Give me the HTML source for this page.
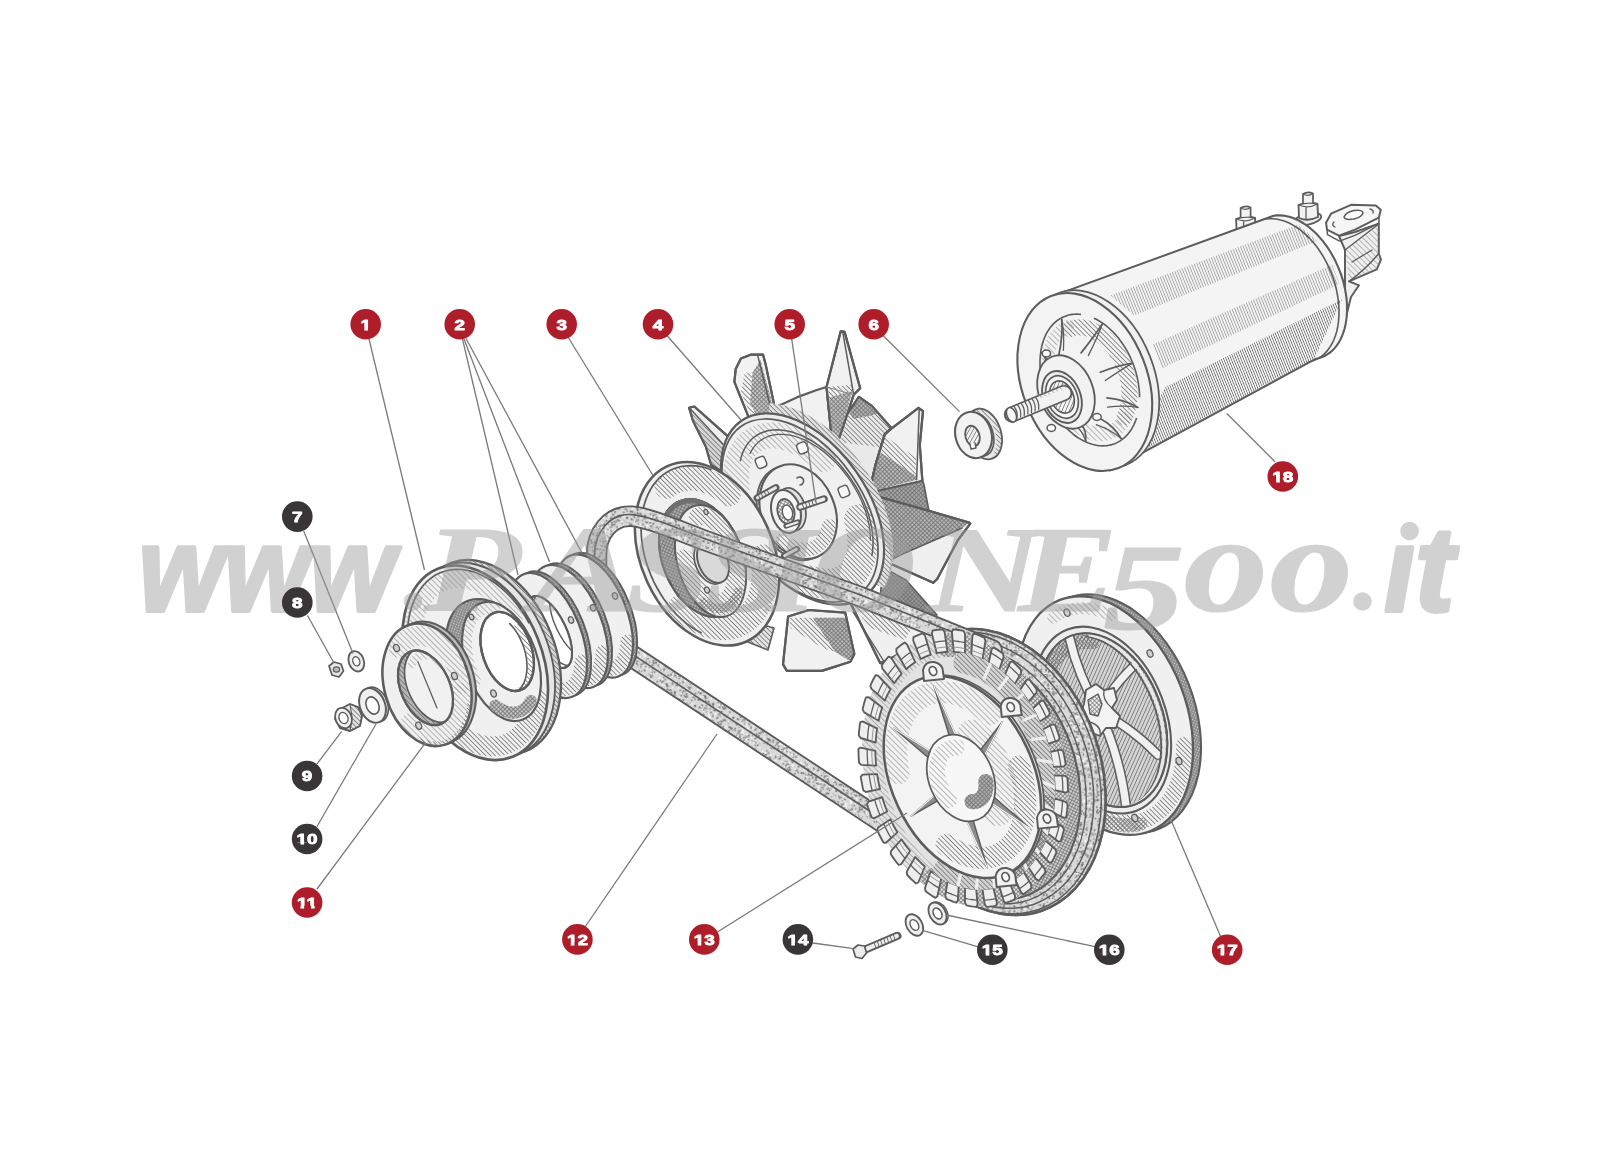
<!DOCTYPE html>
<html><head><meta charset="utf-8"><title>Diagram</title>
<style>html,body{margin:0;padding:0;background:#fff;}svg{display:block;font-family:"Liberation Sans",sans-serif;}</style>
</head><body>
<svg width="1600" height="1157" viewBox="0 0 1600 1157">
<rect width="1600" height="1157" fill="#ffffff"/>

<defs>
<pattern id="hA" width="3.4" height="3.4" patternUnits="userSpaceOnUse" patternTransform="rotate(45)"><rect width="3.4" height="3.4" fill="none"/><line x1="0" y1="0" x2="3.4" y2="0" stroke="#6e6e6e" stroke-width="1.5"/></pattern>
<pattern id="hB" width="4" height="4" patternUnits="userSpaceOnUse" patternTransform="rotate(45)"><line x1="0" y1="0" x2="4" y2="0" stroke="#8a8a8a" stroke-width="1.2"/></pattern>
<pattern id="hX" width="3" height="3" patternUnits="userSpaceOnUse" patternTransform="rotate(45)"><line x1="0" y1="0" x2="3" y2="0" stroke="#666" stroke-width="1.3"/><line x1="0" y1="0" x2="0" y2="3" stroke="#666" stroke-width="1.3"/></pattern>
<pattern id="hD" width="2.6" height="2.6" patternUnits="userSpaceOnUse" patternTransform="rotate(45)"><rect width="2.6" height="2.6" fill="#8a8a8a"/><circle cx="1.3" cy="1.3" r="0.7" fill="#d8d8d8"/></pattern>
<pattern id="belt" width="40" height="40" patternUnits="userSpaceOnUse" patternTransform="rotate(17)"><rect width="40" height="40" fill="#d9d9d9"/><circle cx="18.1" cy="22.4" r="1.1" fill="#f6f6f6"/><circle cx="18.1" cy="34.2" r="0.6" fill="#7e7e7e"/><circle cx="20.5" cy="25.2" r="1.0" fill="#6a6a6a"/><circle cx="17.9" cy="5.7" r="0.9" fill="#909090"/><circle cx="25.4" cy="23.8" r="0.8" fill="#f6f6f6"/><circle cx="26.2" cy="24.6" r="0.6" fill="#6a6a6a"/><circle cx="33.3" cy="2.5" r="0.5" fill="#777"/><circle cx="24.0" cy="31.1" r="0.7" fill="#fff"/><circle cx="33.7" cy="20.8" r="0.9" fill="#f6f6f6"/><circle cx="0.2" cy="3.4" r="0.9" fill="#f6f6f6"/><circle cx="39.9" cy="39.8" r="1.0" fill="#909090"/><circle cx="10.2" cy="30.3" r="0.8" fill="#6a6a6a"/><circle cx="2.8" cy="30.7" r="0.8" fill="#7e7e7e"/><circle cx="11.6" cy="2.7" r="0.5" fill="#909090"/><circle cx="0.0" cy="8.4" r="1.1" fill="#f6f6f6"/><circle cx="15.0" cy="28.4" r="0.8" fill="#fff"/><circle cx="25.2" cy="31.1" r="0.7" fill="#6a6a6a"/><circle cx="12.4" cy="0.6" r="0.8" fill="#6a6a6a"/><circle cx="5.4" cy="28.3" r="0.5" fill="#f6f6f6"/><circle cx="31.9" cy="7.1" r="0.9" fill="#f6f6f6"/><circle cx="20.4" cy="39.4" r="1.0" fill="#f6f6f6"/><circle cx="25.7" cy="4.7" r="0.8" fill="#777"/><circle cx="0.0" cy="34.6" r="1.1" fill="#fff"/><circle cx="12.2" cy="35.4" r="0.6" fill="#f6f6f6"/><circle cx="39.8" cy="24.1" r="0.9" fill="#6a6a6a"/><circle cx="39.6" cy="8.5" r="0.7" fill="#7e7e7e"/><circle cx="24.4" cy="33.2" r="0.8" fill="#6a6a6a"/><circle cx="3.6" cy="23.3" r="0.7" fill="#fff"/><circle cx="14.7" cy="24.9" r="0.6" fill="#fff"/><circle cx="19.3" cy="23.0" r="1.1" fill="#777"/><circle cx="25.1" cy="12.4" r="0.6" fill="#fff"/><circle cx="10.0" cy="7.6" r="1.0" fill="#fff"/><circle cx="7.9" cy="38.0" r="1.1" fill="#fff"/><circle cx="3.1" cy="1.9" r="0.6" fill="#fff"/><circle cx="38.5" cy="9.5" r="1.0" fill="#858585"/><circle cx="16.8" cy="36.2" r="0.8" fill="#fff"/><circle cx="7.0" cy="28.8" r="0.5" fill="#777"/><circle cx="19.2" cy="26.1" r="0.9" fill="#6a6a6a"/><circle cx="11.2" cy="36.7" r="0.6" fill="#6a6a6a"/><circle cx="2.8" cy="16.5" r="0.7" fill="#6a6a6a"/><circle cx="7.1" cy="14.8" r="0.9" fill="#777"/><circle cx="3.7" cy="5.5" r="0.8" fill="#858585"/><circle cx="26.3" cy="27.6" r="0.9" fill="#777"/><circle cx="23.6" cy="36.9" r="0.8" fill="#858585"/><circle cx="28.0" cy="38.5" r="0.5" fill="#909090"/><circle cx="3.0" cy="2.7" r="0.7" fill="#777"/><circle cx="40.0" cy="3.0" r="0.9" fill="#909090"/><circle cx="1.8" cy="37.4" r="1.0" fill="#777"/><circle cx="31.7" cy="36.6" r="0.7" fill="#909090"/><circle cx="18.9" cy="3.1" r="1.1" fill="#7e7e7e"/><circle cx="1.2" cy="20.0" r="0.5" fill="#909090"/><circle cx="15.3" cy="23.3" r="0.9" fill="#6a6a6a"/><circle cx="3.6" cy="4.6" r="0.7" fill="#f6f6f6"/><circle cx="29.1" cy="15.5" r="1.0" fill="#fff"/><circle cx="18.3" cy="18.5" r="0.9" fill="#fff"/><circle cx="30.0" cy="1.2" r="0.9" fill="#f6f6f6"/><circle cx="0.9" cy="38.3" r="0.6" fill="#7e7e7e"/><circle cx="24.6" cy="36.8" r="0.7" fill="#6a6a6a"/><circle cx="14.7" cy="5.7" r="0.9" fill="#fff"/><circle cx="6.8" cy="36.2" r="0.9" fill="#f6f6f6"/><circle cx="19.9" cy="9.7" r="0.8" fill="#858585"/><circle cx="7.9" cy="17.2" r="1.0" fill="#777"/><circle cx="35.2" cy="15.4" r="0.9" fill="#858585"/><circle cx="8.4" cy="5.4" r="0.7" fill="#7e7e7e"/><circle cx="1.6" cy="2.6" r="1.1" fill="#7e7e7e"/><circle cx="6.8" cy="18.0" r="0.7" fill="#777"/><circle cx="33.2" cy="15.3" r="0.8" fill="#909090"/><circle cx="12.6" cy="33.6" r="1.1" fill="#f6f6f6"/><circle cx="12.8" cy="33.1" r="0.7" fill="#fff"/><circle cx="1.7" cy="28.3" r="0.9" fill="#858585"/><circle cx="26.0" cy="22.6" r="0.9" fill="#f6f6f6"/><circle cx="18.2" cy="1.0" r="1.0" fill="#777"/><circle cx="31.2" cy="31.9" r="1.1" fill="#6a6a6a"/><circle cx="17.9" cy="25.2" r="0.9" fill="#7e7e7e"/><circle cx="14.7" cy="3.1" r="0.6" fill="#7e7e7e"/><circle cx="19.0" cy="7.1" r="0.5" fill="#f6f6f6"/><circle cx="21.4" cy="1.4" r="0.6" fill="#7e7e7e"/><circle cx="13.8" cy="27.9" r="0.8" fill="#fff"/><circle cx="39.9" cy="6.4" r="1.1" fill="#909090"/><circle cx="36.2" cy="3.5" r="1.1" fill="#909090"/><circle cx="15.5" cy="18.0" r="0.6" fill="#6a6a6a"/><circle cx="15.1" cy="22.8" r="1.1" fill="#7e7e7e"/><circle cx="32.8" cy="13.7" r="0.7" fill="#777"/><circle cx="4.0" cy="34.6" r="1.0" fill="#909090"/><circle cx="4.9" cy="9.7" r="0.8" fill="#6a6a6a"/><circle cx="39.1" cy="21.5" r="1.0" fill="#858585"/><circle cx="10.5" cy="28.7" r="0.5" fill="#fff"/><circle cx="3.3" cy="17.6" r="0.9" fill="#7e7e7e"/><circle cx="11.0" cy="36.8" r="0.6" fill="#7e7e7e"/><circle cx="2.6" cy="32.0" r="0.6" fill="#858585"/><circle cx="27.5" cy="36.6" r="0.8" fill="#fff"/><circle cx="36.0" cy="20.7" r="0.9" fill="#f6f6f6"/><circle cx="37.8" cy="19.7" r="1.1" fill="#6a6a6a"/><circle cx="30.3" cy="17.6" r="0.9" fill="#7e7e7e"/><circle cx="29.2" cy="25.6" r="0.8" fill="#7e7e7e"/><circle cx="36.3" cy="10.3" r="0.9" fill="#7e7e7e"/><circle cx="34.8" cy="24.4" r="0.7" fill="#777"/><circle cx="38.7" cy="21.0" r="0.9" fill="#777"/><circle cx="16.4" cy="4.6" r="0.5" fill="#f6f6f6"/><circle cx="1.1" cy="38.8" r="0.8" fill="#f6f6f6"/><circle cx="21.8" cy="39.6" r="0.6" fill="#6a6a6a"/><circle cx="27.6" cy="2.6" r="0.9" fill="#f6f6f6"/><circle cx="36.8" cy="32.0" r="0.8" fill="#777"/><circle cx="18.9" cy="5.1" r="0.8" fill="#7e7e7e"/><circle cx="37.4" cy="36.8" r="0.8" fill="#6a6a6a"/><circle cx="7.7" cy="24.7" r="1.1" fill="#777"/><circle cx="28.1" cy="39.1" r="0.5" fill="#777"/><circle cx="9.1" cy="27.5" r="0.7" fill="#858585"/><circle cx="9.8" cy="20.0" r="0.8" fill="#fff"/><circle cx="4.9" cy="20.4" r="0.7" fill="#777"/><circle cx="28.1" cy="35.1" r="0.5" fill="#909090"/><circle cx="16.5" cy="21.2" r="0.6" fill="#777"/><circle cx="34.6" cy="21.4" r="0.6" fill="#777"/><circle cx="34.1" cy="24.5" r="1.1" fill="#777"/><circle cx="36.6" cy="25.1" r="0.7" fill="#777"/><circle cx="12.6" cy="12.6" r="1.1" fill="#777"/><circle cx="31.1" cy="7.8" r="0.6" fill="#777"/><circle cx="5.3" cy="3.5" r="0.8" fill="#f6f6f6"/><circle cx="33.3" cy="16.9" r="1.0" fill="#777"/><circle cx="8.0" cy="25.1" r="1.0" fill="#6a6a6a"/><circle cx="8.0" cy="27.3" r="1.1" fill="#858585"/><circle cx="4.6" cy="20.2" r="1.0" fill="#fff"/><circle cx="39.9" cy="33.3" r="1.0" fill="#f6f6f6"/><circle cx="4.2" cy="1.5" r="0.9" fill="#fff"/><circle cx="36.2" cy="19.3" r="0.6" fill="#6a6a6a"/><circle cx="8.2" cy="33.6" r="1.1" fill="#909090"/><circle cx="3.8" cy="2.5" r="1.1" fill="#f6f6f6"/><circle cx="3.1" cy="3.9" r="0.8" fill="#f6f6f6"/><circle cx="20.6" cy="17.2" r="0.9" fill="#6a6a6a"/><circle cx="25.4" cy="1.6" r="0.6" fill="#f6f6f6"/><circle cx="18.2" cy="29.6" r="0.8" fill="#777"/><circle cx="24.2" cy="3.8" r="1.0" fill="#858585"/><circle cx="35.7" cy="32.1" r="1.0" fill="#7e7e7e"/><circle cx="36.3" cy="37.6" r="0.9" fill="#777"/><circle cx="20.2" cy="39.3" r="1.0" fill="#858585"/><circle cx="11.2" cy="4.7" r="1.0" fill="#777"/><circle cx="32.6" cy="16.2" r="1.1" fill="#fff"/><circle cx="27.8" cy="30.7" r="1.0" fill="#f6f6f6"/><circle cx="8.3" cy="7.4" r="1.0" fill="#858585"/><circle cx="18.8" cy="0.4" r="0.7" fill="#909090"/><circle cx="36.1" cy="2.0" r="0.7" fill="#909090"/><circle cx="12.0" cy="8.6" r="0.8" fill="#777"/><circle cx="21.3" cy="15.6" r="1.1" fill="#909090"/><circle cx="8.5" cy="4.8" r="0.8" fill="#fff"/><circle cx="0.9" cy="24.6" r="1.0" fill="#858585"/><circle cx="17.7" cy="20.2" r="1.0" fill="#909090"/><circle cx="15.0" cy="3.9" r="0.7" fill="#858585"/><circle cx="22.0" cy="20.3" r="1.1" fill="#fff"/><circle cx="33.9" cy="4.0" r="0.8" fill="#909090"/><circle cx="3.0" cy="23.9" r="1.0" fill="#6a6a6a"/><circle cx="15.5" cy="37.5" r="0.8" fill="#777"/><circle cx="34.2" cy="21.7" r="0.9" fill="#f6f6f6"/><circle cx="37.8" cy="16.8" r="0.8" fill="#fff"/><circle cx="12.5" cy="21.2" r="0.8" fill="#858585"/><circle cx="22.4" cy="11.3" r="1.0" fill="#858585"/><circle cx="1.1" cy="30.9" r="0.9" fill="#909090"/><circle cx="6.3" cy="30.2" r="0.8" fill="#858585"/><circle cx="29.9" cy="2.0" r="1.1" fill="#858585"/><circle cx="2.9" cy="36.2" r="0.8" fill="#f6f6f6"/><circle cx="10.0" cy="30.2" r="0.5" fill="#6a6a6a"/><circle cx="37.5" cy="28.9" r="0.8" fill="#7e7e7e"/><circle cx="9.8" cy="28.3" r="0.5" fill="#f6f6f6"/><circle cx="18.2" cy="8.1" r="0.5" fill="#fff"/><circle cx="6.2" cy="14.5" r="0.6" fill="#f6f6f6"/><circle cx="18.2" cy="10.5" r="0.9" fill="#f6f6f6"/><circle cx="14.6" cy="29.8" r="1.0" fill="#777"/><circle cx="38.1" cy="29.4" r="0.7" fill="#6a6a6a"/><circle cx="20.1" cy="12.3" r="0.8" fill="#7e7e7e"/><circle cx="14.4" cy="10.9" r="0.9" fill="#fff"/><circle cx="28.0" cy="7.6" r="0.7" fill="#777"/><circle cx="7.6" cy="10.0" r="1.1" fill="#777"/><circle cx="35.2" cy="1.6" r="0.5" fill="#858585"/><circle cx="10.4" cy="1.1" r="0.5" fill="#777"/><circle cx="21.7" cy="2.9" r="0.6" fill="#909090"/><circle cx="6.4" cy="9.4" r="1.1" fill="#f6f6f6"/><circle cx="19.1" cy="8.4" r="0.7" fill="#909090"/><circle cx="5.3" cy="34.8" r="1.0" fill="#f6f6f6"/><circle cx="32.4" cy="24.9" r="1.0" fill="#777"/><circle cx="17.8" cy="29.9" r="0.8" fill="#777"/><circle cx="14.8" cy="26.1" r="1.1" fill="#858585"/><circle cx="11.6" cy="30.4" r="1.0" fill="#777"/><circle cx="17.1" cy="14.8" r="0.6" fill="#858585"/><circle cx="3.1" cy="3.3" r="0.9" fill="#f6f6f6"/><circle cx="32.6" cy="18.5" r="1.0" fill="#6a6a6a"/><circle cx="3.0" cy="8.5" r="0.9" fill="#6a6a6a"/><circle cx="27.8" cy="19.8" r="1.0" fill="#858585"/><circle cx="11.3" cy="5.7" r="0.7" fill="#909090"/><circle cx="13.1" cy="36.3" r="0.7" fill="#f6f6f6"/><circle cx="22.8" cy="36.7" r="1.1" fill="#858585"/><circle cx="17.5" cy="32.1" r="0.7" fill="#858585"/><circle cx="8.8" cy="38.7" r="1.0" fill="#fff"/><circle cx="9.9" cy="14.5" r="0.7" fill="#858585"/><circle cx="27.1" cy="23.4" r="1.0" fill="#909090"/><circle cx="22.6" cy="31.9" r="0.9" fill="#7e7e7e"/><circle cx="23.6" cy="7.1" r="0.6" fill="#f6f6f6"/><circle cx="35.2" cy="11.3" r="0.5" fill="#fff"/><circle cx="2.3" cy="6.3" r="0.7" fill="#6a6a6a"/><circle cx="26.0" cy="32.2" r="0.5" fill="#fff"/><circle cx="12.2" cy="21.8" r="0.7" fill="#858585"/><circle cx="29.5" cy="36.0" r="0.6" fill="#909090"/><circle cx="26.1" cy="3.9" r="1.0" fill="#f6f6f6"/><circle cx="9.8" cy="8.8" r="1.0" fill="#fff"/><circle cx="13.5" cy="18.4" r="0.7" fill="#7e7e7e"/><circle cx="38.7" cy="26.9" r="0.8" fill="#fff"/><circle cx="32.2" cy="2.9" r="0.9" fill="#6a6a6a"/><circle cx="16.4" cy="33.0" r="0.9" fill="#7e7e7e"/><circle cx="0.2" cy="15.1" r="0.6" fill="#f6f6f6"/><circle cx="38.3" cy="25.6" r="0.8" fill="#909090"/><circle cx="0.4" cy="4.4" r="1.1" fill="#777"/><circle cx="9.8" cy="6.5" r="0.9" fill="#909090"/><circle cx="6.7" cy="8.2" r="0.8" fill="#858585"/><circle cx="11.0" cy="35.4" r="0.8" fill="#909090"/><circle cx="4.6" cy="25.9" r="1.0" fill="#777"/><circle cx="36.5" cy="30.1" r="0.5" fill="#f6f6f6"/><circle cx="36.4" cy="1.5" r="0.6" fill="#777"/><circle cx="14.4" cy="23.5" r="0.9" fill="#f6f6f6"/><circle cx="23.8" cy="9.0" r="0.6" fill="#858585"/><circle cx="16.1" cy="36.4" r="1.1" fill="#909090"/><circle cx="21.9" cy="32.7" r="0.8" fill="#858585"/><circle cx="19.4" cy="16.1" r="1.1" fill="#909090"/><circle cx="21.9" cy="38.3" r="0.8" fill="#777"/><circle cx="16.0" cy="8.7" r="0.6" fill="#7e7e7e"/><circle cx="15.4" cy="21.1" r="0.8" fill="#858585"/><circle cx="31.5" cy="2.3" r="1.1" fill="#6a6a6a"/><circle cx="35.0" cy="36.2" r="0.8" fill="#777"/><circle cx="28.5" cy="24.2" r="0.6" fill="#777"/><circle cx="30.9" cy="5.8" r="1.1" fill="#7e7e7e"/><circle cx="20.6" cy="25.5" r="1.1" fill="#858585"/><circle cx="20.6" cy="2.1" r="0.9" fill="#777"/><circle cx="0.1" cy="32.9" r="1.1" fill="#7e7e7e"/></pattern>
<pattern id="hV" width="2.6" height="2.6" patternUnits="userSpaceOnUse" patternTransform="rotate(68)"><line x1="0" y1="0" x2="2.6" y2="0" stroke="#7c7c7c" stroke-width="1.15"/></pattern>
<pattern id="hV2" width="2.3" height="2.3" patternUnits="userSpaceOnUse" patternTransform="rotate(68)"><line x1="0" y1="0" x2="2.3" y2="0" stroke="#686868" stroke-width="1.45"/></pattern>
<filter id="soft" x="0" y="0" width="100%" height="100%" filterUnits="userSpaceOnUse"><feGaussianBlur stdDeviation="0.55"/></filter>
</defs>
<g filter="url(#soft)"><path d="M1339 236 L1345 250 L1345 321 L1351 297 L1359 285.3 L1349 281.3 L1376.8 269.4 L1381 259.5 L1378.8 253.5 L1378.8 223.7 L1355 232Z" fill="#f0f0f0" stroke="#5c5c5c" stroke-width="1.9549999999999998" stroke-linejoin="round" stroke-linecap="round" />
<path d="M1345 250 L1378.8 226 L1378.8 253.5 L1381 259.5 L1376.8 269.4 L1349 281.3Z" fill="url(#hB)" stroke="none" stroke-width="1.6" stroke-linejoin="round" stroke-linecap="round" />
<path d="M1345 250 L1378.8 224 M1349 281.3 Q1365 270 1378.8 253.5 M1352 262 L1372 250" fill="none" stroke="#5c5c5c" stroke-width="1.38" stroke-linejoin="round" stroke-linecap="round" />
<path d="M1326 222.7 L1331 213.7 L1351 204.8 L1375.8 205.4 L1380.8 209.8 L1378.8 217.7 L1355 229.6 L1339 235.6 L1327 229.6Z" fill="#f6f6f6" stroke="#5c5c5c" stroke-width="1.9549999999999998" stroke-linejoin="round" stroke-linecap="round" />
<path d="M1327 229.6 l0.5 5 l12 6.5 l16 -6 l23.5 -12 l0 -5" fill="none" stroke="#5c5c5c" stroke-width="1.4949999999999999" stroke-linejoin="round" stroke-linecap="round" />
<path d="M1344 217 q2 -5 10 -6.5 q9 -1 9 2.5 q-1 4 -9 6 q-9 1.5 -10 -2z" fill="#fff" stroke="#5c5c5c" stroke-width="1.4949999999999999" stroke-linejoin="round" stroke-linecap="round" />
<path d="M1334 222 q-3 3 1 5 M1370 209 q4 1 3 4" fill="none" stroke="#5c5c5c" stroke-width="1.38" stroke-linejoin="round" stroke-linecap="round" />
<ellipse cx="1245.6" cy="233" rx="13.5" ry="5.5" transform="rotate(-12 1245.6 233)" fill="#f0f0f0" stroke="#5c5c5c" stroke-width="1.7249999999999999" />
<path d="M1236.6 232 L1236.1 219 Q1245.6 215 1255.1 218 L1255.6 231 Q1245.6 236 1236.6 232Z" fill="#f2f2f2" stroke="#5c5c5c" stroke-width="1.8399999999999999" stroke-linejoin="round" stroke-linecap="round" />
<path d="M1236.1 219 Q1245.6 223 1255.1 218 M1243.6 222 L1243.6 233.5" fill="none" stroke="#5c5c5c" stroke-width="1.265" stroke-linejoin="round" stroke-linecap="round" />
<path d="M1240.6 217 L1240.6 208 Q1245.6 205 1250.6 207.5 L1250.6 216.5" fill="#f4f4f4" stroke="#5c5c5c" stroke-width="1.7249999999999999" stroke-linejoin="round" stroke-linecap="round" />
<path d="M1240.6 208 Q1245.6 211 1250.6 207.5" fill="none" stroke="#5c5c5c" stroke-width="1.15" stroke-linejoin="round" stroke-linecap="round" />
<ellipse cx="1308" cy="219" rx="13.5" ry="5.5" transform="rotate(-12 1308 219)" fill="#f0f0f0" stroke="#5c5c5c" stroke-width="1.7249999999999999" />
<path d="M1299 218 L1298.5 205 Q1308 201 1317.5 204 L1318 217 Q1308 222 1299 218Z" fill="#f2f2f2" stroke="#5c5c5c" stroke-width="1.8399999999999999" stroke-linejoin="round" stroke-linecap="round" />
<path d="M1298.5 205 Q1308 209 1317.5 204 M1306 208 L1306 219.5" fill="none" stroke="#5c5c5c" stroke-width="1.265" stroke-linejoin="round" stroke-linecap="round" />
<path d="M1303 203 L1303 194 Q1308 191 1313 193.5 L1313 202.5" fill="#f4f4f4" stroke="#5c5c5c" stroke-width="1.7249999999999999" stroke-linejoin="round" stroke-linecap="round" />
<path d="M1303 194 Q1308 197 1313 193.5" fill="none" stroke="#5c5c5c" stroke-width="1.15" stroke-linejoin="round" stroke-linecap="round" />
<path d="M1059.4 293.6 L1273.6 215.7 L1273.6 215.7 L1276.8 215.4 L1280 215.4 L1283.4 215.6 L1286.7 216.2 L1290.2 217.1 L1293.6 218.2 L1297 219.7 L1300.4 221.5 L1303.8 223.5 L1307.2 225.8 L1310.5 228.4 L1313.7 231.3 L1316.9 234.3 L1319.9 237.6 L1322.9 241.1 L1325.7 244.8 L1328.4 248.7 L1331 252.8 L1333.3 257 L1335.6 261.3 L1337.6 265.8 L1339.5 270.3 L1341.2 274.9 L1342.7 279.6 L1343.9 284.3 L1345 289 L1345.8 293.7 L1346.5 298.4 L1346.9 303 L1347 307.6 L1347 312 L1346.7 316.4 L1346.2 320.6 L1345.5 324.7 L1344.6 328.7 L1343.4 332.4 L1342.1 336 L1340.5 339.4 L1338.8 342.5 L1336.8 345.4 L1334.7 348.1 L1332.4 350.5 L1329.9 352.6 L1327.3 354.4 L1324.6 356 L1321.7 357.2 L1318.7 358.2 L1315.6 358.9 L1110.1 470.4Z" fill="#f4f4f4" stroke="#5c5c5c" stroke-width="2.07" stroke-linejoin="round" stroke-linecap="round" />
<clipPath id="c_dyn"><path d="M1059.4 293.6 L1273.6 215.7 L1273.6 215.7 L1276.8 215.4 L1280 215.4 L1283.4 215.6 L1286.7 216.2 L1290.2 217.1 L1293.6 218.2 L1297 219.7 L1300.4 221.5 L1303.8 223.5 L1307.2 225.8 L1310.5 228.4 L1313.7 231.3 L1316.9 234.3 L1319.9 237.6 L1322.9 241.1 L1325.7 244.8 L1328.4 248.7 L1331 252.8 L1333.3 257 L1335.6 261.3 L1337.6 265.8 L1339.5 270.3 L1341.2 274.9 L1342.7 279.6 L1343.9 284.3 L1345 289 L1345.8 293.7 L1346.5 298.4 L1346.9 303 L1347 307.6 L1347 312 L1346.7 316.4 L1346.2 320.6 L1345.5 324.7 L1344.6 328.7 L1343.4 332.4 L1342.1 336 L1340.5 339.4 L1338.8 342.5 L1336.8 345.4 L1334.7 348.1 L1332.4 350.5 L1329.9 352.6 L1327.3 354.4 L1324.6 356 L1321.7 357.2 L1318.7 358.2 L1315.6 358.9 L1110.1 470.4Z"/></clipPath><g clip-path="url(#c_dyn)"><path d="M1110.2 295.4 L1298.3 224.5 L1317.1 241 L1134.2 315.4Z" fill="url(#hV)" stroke="none" stroke-width="1.6" stroke-linejoin="round" stroke-linecap="round" /><path d="M1153 344.3 L1332.1 264.5 L1339.4 284.1 L1161.9 368.4Z" fill="url(#hV)" stroke="none" stroke-width="1.6" stroke-linejoin="round" stroke-linecap="round" /><path d="M1165.3 387 L1342.3 299.1 L1313.3 360.5 L1126.3 463.9Z" fill="url(#hV2)" stroke="none" stroke-width="1.6" stroke-linejoin="round" stroke-linecap="round" /></g>
<path d="M1265.6 219 L1269.4 218.7 L1273.4 218.7 L1277.4 219.2 L1281.5 220.2 L1285.6 221.5 L1289.7 223.3 L1293.8 225.6 L1297.9 228.2 L1301.8 231.2 L1305.7 234.6 L1309.5 238.3 L1313.1 242.3 L1316.6 246.6 L1319.9 251.2 L1323 256.1 L1325.8 261.2 L1328.4 266.4 L1330.8 271.8 L1332.9 277.3 L1334.7 282.9 L1336.2 288.5 L1337.3 294.2 L1338.2 299.8 L1338.8 305.4 L1339 310.9 L1338.9 316.2 L1338.5 321.4 L1337.8 326.4 L1336.8 331.2 L1335.4 335.7 L1333.8 340 L1331.8 344 L1329.6 347.6 L1327.1 350.9 L1324.4 353.8 L1321.4 356.3 L1318.2 358.4 L1314.9 360.1 L1311.3 361.3 L1307.6 362.2" fill="none" stroke="#5c5c5c" stroke-width="1.6099999999999999" />
<ellipse cx="1091.8" cy="379.2" rx="92.4" ry="62.5" transform="rotate(68.5433201955893 1091.8 379.2)" fill="#f0f0f0" stroke="#5c5c5c" stroke-width="1.7249999999999999" />
<ellipse cx="1084.8" cy="382" rx="92.4" ry="62.5" transform="rotate(68.5433201955893 1084.8 382)" fill="#f3f3f3" stroke="#5c5c5c" stroke-width="2.07" />
<clipPath id="c_dynf"><path d="M1118.6 468 L1110.7 470.3 L1102.4 471 L1093.7 470.2 L1085 467.9 L1076.2 464.2 L1067.5 459 L1059.2 452.5 L1051.3 444.8 L1044 436 L1037.3 426.3 L1031.5 415.9 L1026.6 404.8 L1022.7 393.4 L1019.8 381.8 L1018.1 370.2 L1017.5 358.8 L1018 347.8 L1019.7 337.3 L1022.5 327.7 L1026.4 318.9 L1031.3 311.3 L1037 304.8 L1043.6 299.7 L1050.9 296 L1058.8 293.7 L1067.1 293 L1075.8 293.8 L1084.5 296.1 L1093.3 299.8 L1102 305 L1110.3 311.5 L1118.2 319.2 L1125.5 328 L1132.2 337.7 L1138 348.1 L1142.9 359.2 L1146.8 370.6 L1149.7 382.2 L1151.4 393.8 L1152 405.2 L1151.5 416.2 L1149.8 426.7 L1147 436.3 L1143.1 445.1 L1138.2 452.7 L1132.5 459.2 L1125.9 464.3 L1118.6 468Z"/></clipPath><g clip-path="url(#c_dynf)"><path d="M1069.7 329.1 L1071.6 328.4 L1073.6 327.9 L1075.6 327.6 L1077.7 327.4 L1079.7 327.3 L1081.9 327.4 L1084 327.7 L1086.2 328.1 L1088.3 328.7 L1090.5 329.4 L1092.7 330.3 L1094.8 331.4 L1097 332.5 L1099.1 333.9 L1101.2 335.3 L1103.2 336.9 L1105.3 338.6 L1107.2 340.5 L1109.2 342.4 L1111 344.5 L1112.8 346.7 L1114.6 348.9 L1116.2 351.3 L1117.8 353.8 L1119.3 356.3 L1120.7 358.9 L1122 361.5 L1123.3 364.3 L1124.4 367 L1125.4 369.8 L1126.3 372.7 L1127.1 375.5 L1127.8 378.4 L1128.4 381.3 L1128.9 384.1 L1129.2 387 L1129.4 389.8 L1129.5 392.6 L1129.5 395.4 L1129.4 398.1 L1129.2 400.8 L1128.8 403.4 L1128.3 405.9 L1127.8 408.4 L1127.1 410.8 L1126.2 413.1 L1125.3 415.3 L1124.3 417.3" fill="none" stroke="url(#hA)" stroke-width="16" stroke-linejoin="round" stroke-linecap="round" /><path d="M1125.2 418.3 L1124.5 419.5 L1123.8 420.7 L1123 421.8 L1122.2 422.9 L1121.4 424 L1120.5 425 L1119.6 425.9 L1118.7 426.8 L1117.7 427.7 L1116.8 428.5 L1115.7 429.2 L1114.7 429.9 L1113.6 430.6 L1112.5 431.2 L1111.4 431.7 L1110.3 432.2 L1109.1 432.6 L1107.9 433 L1106.7 433.3 L1105.5 433.6 L1104.2 433.8 L1103 433.9 L1101.7 434 L1100.4 434 L1099.1 434 L1097.8 433.9 L1096.5 433.7 L1095.2 433.5 L1093.9 433.3 L1092.5 432.9 L1091.2 432.6 L1089.9 432.1 L1088.5 431.6 L1087.2 431.1 L1085.9 430.5 L1084.6 429.8 L1083.2 429.1 L1081.9 428.4 L1080.6 427.6 L1079.3 426.7 L1078 425.8 L1076.8 424.8 L1075.5 423.8 L1074.3 422.8 L1073 421.7 L1071.8 420.5 L1070.6 419.3 L1069.5 418.1" fill="none" stroke="url(#hB)" stroke-width="14" stroke-linejoin="round" stroke-linecap="round" /><path d="M1053.2 394.4 L1052.5 392.6 L1051.9 390.8 L1051.3 389 L1050.7 387.2 L1050.2 385.4 L1049.7 383.5 L1049.3 381.7 L1048.9 379.9 L1048.6 378 L1048.3 376.2 L1048 374.4 L1047.8 372.6 L1047.7 370.8 L1047.5 369 L1047.5 367.2 L1047.4 365.4 L1047.5 363.6 L1047.5 361.9 L1047.6 360.2 L1047.8 358.5 L1048 356.8 L1048.2 355.1 L1048.5 353.5 L1048.9 351.9 L1049.2 350.3 L1049.7 348.8 L1050.1 347.3 L1050.6 345.8 L1051.2 344.4 L1051.8 343 L1052.4 341.6 L1053.1 340.3 L1053.8 339.1 L1054.5 337.8 L1055.3 336.6 L1056.1 335.5 L1057 334.4 L1057.9 333.4 L1058.8 332.4 L1059.7 331.5 L1060.7 330.6 L1061.8 329.7 L1062.8 329 L1063.9 328.2 L1065 327.6 L1066.1 327 L1067.3 326.4 L1068.5 325.9" fill="none" stroke="url(#hB)" stroke-width="12" stroke-linejoin="round" stroke-linecap="round" /></g>
<path d="M1044.7 391.3 L1043.8 388.3 L1043 385.3 L1042.2 382.3 L1041.6 379.3 L1041.1 376.3 L1040.7 373.3 L1040.3 370.3 L1040.1 367.3 L1040 364.3 L1040 361.4 L1040.1 358.6 L1040.3 355.7 L1040.6 353 L1041 350.2 L1041.5 347.6 L1042.1 345 L1042.8 342.5 L1043.6 340 L1044.5 337.7 L1045.5 335.4 L1046.6 333.2 L1047.8 331.2 L1049.1 329.2 L1050.4 327.3 L1051.9 325.6 L1053.4 323.9 L1055 322.4 L1056.7 321 L1058.4 319.7 L1060.2 318.6 L1062.1 317.5 L1064 316.7 L1066 315.9 L1068 315.3 L1070.1 314.8 L1072.2 314.4 L1074.3 314.2 L1076.5 314.1 L1078.7 314.2 L1081 314.4" fill="none" stroke="#5c5c5c" stroke-width="1.6099999999999999" />
<path d="M1093.9 318.2 L1095.8 319 L1097.6 320 L1099.4 321.1 L1101.2 322.2 L1103 323.4 L1104.8 324.7 L1106.5 326 L1108.2 327.5 L1109.9 329 L1111.6 330.6 L1113.3 332.2 L1114.9 333.9 L1116.4 335.7 L1118 337.6 L1119.5 339.5 L1120.9 341.4 L1122.4 343.4 L1123.7 345.5 L1125.1 347.6 L1126.3 349.7 L1127.6 351.9 L1128.7 354.1 L1129.9 356.4 L1130.9 358.7 L1131.9 361 L1132.9 363.4 L1133.8 365.7 L1134.6 368.1 L1135.4 370.5 L1136.1 373 L1136.7 375.4 L1137.3 377.8 L1137.8 380.3 L1138.3 382.7 L1138.6 385.2 L1138.9 387.6 L1139.2 390 L1139.4 392.4 L1139.5 394.8 L1139.5 397.2" fill="none" stroke="#5c5c5c" stroke-width="1.6099999999999999" />
<path d="M1136.6 417.9 L1135.8 420.2 L1134.9 422.4 L1134 424.6 L1132.9 426.7 L1131.8 428.7 L1130.6 430.5 L1129.3 432.3 L1128 434 L1126.5 435.6 L1125 437.1 L1123.5 438.5 L1121.9 439.7 L1120.2 440.9 L1118.4 441.9 L1116.6 442.9 L1114.8 443.7 L1112.9 444.3 L1110.9 444.9 L1108.9 445.3 L1106.9 445.6 L1104.9 445.8 L1102.8 445.9 L1100.7 445.8 L1098.5 445.6 L1096.4 445.3 L1094.2 444.8 L1092.1 444.3 L1089.9 443.6 L1087.7 442.8 L1085.6 441.8 L1083.4 440.8 L1081.3 439.6 L1079.1 438.4 L1077 437 L1074.9 435.5 L1072.9 433.9 L1070.9 432.2 L1068.9 430.4 L1066.9 428.5 L1065 426.5" fill="none" stroke="#5c5c5c" stroke-width="1.6099999999999999" />
<path d="M1050.5 378.2 Q1049.1 362.4 1041.7 352.6" fill="none" stroke="#5c5c5c" stroke-width="1.7249999999999999" stroke-linejoin="round" stroke-linecap="round" />
<path d="M1050 368.9 Q1047.9 358.8 1041.7 352.6" fill="none" stroke="#5c5c5c" stroke-width="1.265" stroke-linejoin="round" stroke-linecap="round" />
<path d="M1058.7 355.6 Q1063.2 334.4 1061.7 319.3" fill="none" stroke="#5c5c5c" stroke-width="1.7249999999999999" stroke-linejoin="round" stroke-linecap="round" />
<path d="M1063.4 350.3 Q1064.5 332.8 1061.7 319.3" fill="none" stroke="#5c5c5c" stroke-width="1.265" stroke-linejoin="round" stroke-linecap="round" />
<path d="M1081.1 352.9 Q1094.7 335.5 1102.2 324.2" fill="none" stroke="#5c5c5c" stroke-width="1.7249999999999999" stroke-linejoin="round" stroke-linecap="round" />
<path d="M1088.3 355.6 Q1097.3 337.9 1102.2 324.2" fill="none" stroke="#5c5c5c" stroke-width="1.265" stroke-linejoin="round" stroke-linecap="round" />
<path d="M1100.3 372.3 Q1119.1 364.9 1131.9 363.4" fill="none" stroke="#5c5c5c" stroke-width="1.7249999999999999" stroke-linejoin="round" stroke-linecap="round" />
<path d="M1105.3 380.6 Q1120.6 370 1131.9 363.4" fill="none" stroke="#5c5c5c" stroke-width="1.265" stroke-linejoin="round" stroke-linecap="round" />
<path d="M1107 397.8 Q1125.4 399.6 1137.8 407.4" fill="none" stroke="#5c5c5c" stroke-width="1.7249999999999999" stroke-linejoin="round" stroke-linecap="round" />
<path d="M1107.5 407.1 Q1124.6 405.2 1137.8 407.4" fill="none" stroke="#5c5c5c" stroke-width="1.265" stroke-linejoin="round" stroke-linecap="round" />
<path d="M1100.4 418.7 Q1113.8 425.6 1121.2 438.6" fill="none" stroke="#5c5c5c" stroke-width="1.7249999999999999" stroke-linejoin="round" stroke-linecap="round" />
<path d="M1096.2 424.6 Q1110.7 429.6 1121.2 438.6" fill="none" stroke="#5c5c5c" stroke-width="1.265" stroke-linejoin="round" stroke-linecap="round" />
<path d="M1081.3 424.8 Q1086.5 429.7 1085.7 440.6" fill="none" stroke="#5c5c5c" stroke-width="1.7249999999999999" stroke-linejoin="round" stroke-linecap="round" />
<path d="M1074.2 423.7 Q1081.9 430.2 1085.7 440.6" fill="none" stroke="#5c5c5c" stroke-width="1.265" stroke-linejoin="round" stroke-linecap="round" />
<ellipse cx="1066" cy="392" rx="38" ry="27" transform="rotate(68 1066 392)" fill="#f2f2f2" stroke="#5c5c5c" stroke-width="1.8399999999999999" />
<ellipse cx="1046.4" cy="353.5" rx="4.2" ry="3.4" transform="rotate(0 1046.4 353.5)" fill="#fafafa" stroke="#5c5c5c" stroke-width="1.4949999999999999" />
<ellipse cx="1097" cy="417" rx="4.2" ry="3.4" transform="rotate(0 1097 417)" fill="#fafafa" stroke="#5c5c5c" stroke-width="1.4949999999999999" />
<ellipse cx="1051.3" cy="428" rx="4.2" ry="3.4" transform="rotate(0 1051.3 428)" fill="#fafafa" stroke="#5c5c5c" stroke-width="1.4949999999999999" />
<ellipse cx="1062" cy="397" rx="27" ry="18.5" transform="rotate(68 1062 397)" fill="#ececec" stroke="#5c5c5c" stroke-width="1.8399999999999999" />
<ellipse cx="1062" cy="397" rx="22.1" ry="15.2" transform="rotate(68 1062 397)" fill="#f6f6f6" stroke="#5c5c5c" stroke-width="1.6099999999999999" />
<ellipse cx="1062" cy="397" rx="16.7" ry="11.5" transform="rotate(68 1062 397)" fill="url(#hA)" stroke="#5c5c5c" stroke-width="1.6099999999999999" />
<path d="M1012 414.5 L1064 393" fill="none" stroke="#5c5c5c" stroke-width="16.5" stroke-linejoin="round" stroke-linecap="round" />
<path d="M1012.5 414.3 L1064 393" fill="none" stroke="#f2f2f2" stroke-width="13" stroke-linejoin="round" stroke-linecap="round" />
<ellipse cx="1011.5" cy="414.8" rx="7.6" ry="4.6" transform="rotate(68 1011.5 414.8)" fill="#f6f6f6" stroke="#5c5c5c" stroke-width="1.6099999999999999" />
<path d="M1014 406.4 q4 5 3 12" fill="none" stroke="#5c5c5c" stroke-width="1.265" stroke-linejoin="round" stroke-linecap="round" />
<path d="M1017.6 404.9 q4 5 3 12" fill="none" stroke="#5c5c5c" stroke-width="1.265" stroke-linejoin="round" stroke-linecap="round" />
<path d="M1021.2 403.4 q4 5 3 12" fill="none" stroke="#5c5c5c" stroke-width="1.265" stroke-linejoin="round" stroke-linecap="round" />
<path d="M1024.8 401.9 q4 5 3 12" fill="none" stroke="#5c5c5c" stroke-width="1.265" stroke-linejoin="round" stroke-linecap="round" />
<path d="M1028.4 400.4 q4 5 3 12" fill="none" stroke="#5c5c5c" stroke-width="1.265" stroke-linejoin="round" stroke-linecap="round" />
<path d="M1032 398.9 q4 5 3 12" fill="none" stroke="#5c5c5c" stroke-width="1.265" stroke-linejoin="round" stroke-linecap="round" />
<path d="M1035.6 397.4 q4 5 3 12" fill="none" stroke="#5c5c5c" stroke-width="1.265" stroke-linejoin="round" stroke-linecap="round" />
<path d="M1040 396 L1064 386" fill="none" stroke="url(#hB)" stroke-width="5" stroke-linejoin="round" stroke-linecap="round" />
<ellipse cx="984" cy="434" rx="26" ry="17" transform="rotate(72 984 434)" fill="#e9e9e9" stroke="#5c5c5c" stroke-width="1.8399999999999999" />
<path d="M979 410 L979.8 410.2 L980.7 410.4 L981.5 410.7 L982.4 411.1 L983.2 411.5 L984.1 412 L984.9 412.5 L985.7 413 L986.6 413.7 L987.4 414.3 L988.2 415 L988.9 415.8 L989.7 416.6 L990.4 417.4 L991.1 418.3 L991.8 419.2 L992.5 420.2 L993.2 421.1 L993.8 422.2 L994.4 423.2 L994.9 424.3 L995.4 425.4 L995.9 426.5 L996.4 427.6 L996.8 428.8 L997.2 429.9 L997.6 431.1 L997.9 432.3 L998.2 433.5 L998.4 434.7 L998.6 435.9 L998.8 437.1 L998.9 438.2 L999 439.4 L999 440.6 L999.1 441.8 L999 442.9 L998.9 444 L998.8 445.1 L998.7 446.2 L998.5 447.3 L998.2 448.3 L998 449.3 L997.7 450.3 L997.3 451.2 L996.9 452.1 L996.5 453 L996 453.8" fill="none" stroke="url(#hA)" stroke-width="5" stroke-linejoin="round" stroke-linecap="round" />
<ellipse cx="979" cy="434.5" rx="22" ry="14" transform="rotate(72 979 434.5)" fill="#ececec" stroke="#5c5c5c" stroke-width="1.6099999999999999" />
<ellipse cx="973.5" cy="435" rx="23.5" ry="18" transform="rotate(74 973.5 435)" fill="#f2f2f2" stroke="#5c5c5c" stroke-width="2.07" />
<ellipse cx="972.5" cy="436" rx="10.5" ry="7" transform="rotate(74 972.5 436)" fill="url(#hA)" stroke="#5c5c5c" stroke-width="1.8399999999999999" />
<path d="M970 444 l1 5 l5 -1 l-1 -5" fill="#fff" stroke="#5c5c5c" stroke-width="1.38" stroke-linejoin="round" stroke-linecap="round" />
<path d="M329 666 L334 662 L341 664 L343.5 671 L339 677 L332 675Z" fill="#e8e8e8" stroke="#5c5c5c" stroke-width="1.7249999999999999" stroke-linejoin="round" stroke-linecap="round" />
<ellipse cx="336.5" cy="669.5" rx="3.2" ry="2.6" transform="rotate(0 336.5 669.5)" fill="#bbb" stroke="#5c5c5c" stroke-width="1.15" />
<ellipse cx="356.3" cy="661.3" rx="10.5" ry="7.5" transform="rotate(70 356.3 661.3)" fill="#eee" stroke="#5c5c5c" stroke-width="1.8399999999999999" />
<ellipse cx="356.3" cy="661.3" rx="4.7" ry="3.4" transform="rotate(70 356.3 661.3)" fill="#fff" stroke="#5c5c5c" stroke-width="1.38" />
<ellipse cx="375" cy="704.5" rx="18" ry="12.5" transform="rotate(68 375 704.5)" fill="#ddd" stroke="#5c5c5c" stroke-width="1.6099999999999999" />
<ellipse cx="372.5" cy="705.5" rx="18" ry="12.5" transform="rotate(68 372.5 705.5)" fill="#f0f0f0" stroke="#5c5c5c" stroke-width="1.9549999999999998" />
<ellipse cx="372.5" cy="705.5" rx="9" ry="6.2" transform="rotate(68 372.5 705.5)" fill="#fff" stroke="#5c5c5c" stroke-width="1.6099999999999999" />
<path d="M338 710 L350 704 L358 707 L362 716 L360 726 L350 731 L340 728 L335 719Z" fill="#e4e4e4" stroke="#5c5c5c" stroke-width="1.8399999999999999" stroke-linejoin="round" stroke-linecap="round" />
<path d="M350 704 L358 707 L362 716 L360 726 L350 731 L352 717Z" fill="url(#hA)" stroke="#5c5c5c" stroke-width="1.15" stroke-linejoin="round" stroke-linecap="round" />
<ellipse cx="343.5" cy="718" rx="10.5" ry="8" transform="rotate(68 343.5 718)" fill="#f2f2f2" stroke="#5c5c5c" stroke-width="1.7249999999999999" />
<ellipse cx="343.5" cy="718" rx="5.8" ry="4.4" transform="rotate(68 343.5 718)" fill="#fff" stroke="#5c5c5c" stroke-width="1.38" />
<path d="M863 950.5 L897.5 935.8" fill="none" stroke="#5c5c5c" stroke-width="8.049999999999999" stroke-linejoin="round" stroke-linecap="round" />
<path d="M864 950 L896.8 936" fill="none" stroke="#eee" stroke-width="4.2" stroke-linejoin="round" stroke-linecap="round" />
<line x1="874" y1="942.3" x2="876" y2="948.3" stroke="#5c5c5c" stroke-width="0.9" />
<line x1="877.2" y1="940.9" x2="879.2" y2="946.9" stroke="#5c5c5c" stroke-width="0.9" />
<line x1="880.4" y1="939.6" x2="882.4" y2="945.6" stroke="#5c5c5c" stroke-width="0.9" />
<line x1="883.6" y1="938.2" x2="885.6" y2="944.2" stroke="#5c5c5c" stroke-width="0.9" />
<line x1="886.8" y1="936.9" x2="888.8" y2="942.9" stroke="#5c5c5c" stroke-width="0.9" />
<line x1="890" y1="935.5" x2="892" y2="941.5" stroke="#5c5c5c" stroke-width="0.9" />
<line x1="893.2" y1="934.1" x2="895.2" y2="940.1" stroke="#5c5c5c" stroke-width="0.9" />
<path d="M853 949 L858 945 L864.5 946 L866.5 953 L862 958.5 L855.5 957Z" fill="#ececec" stroke="#5c5c5c" stroke-width="1.7249999999999999" stroke-linejoin="round" stroke-linecap="round" />
<ellipse cx="914.4" cy="925" rx="11.5" ry="7.8" transform="rotate(60 914.4 925)" fill="#eee" stroke="#5c5c5c" stroke-width="1.8399999999999999" />
<ellipse cx="914.4" cy="925" rx="5.8" ry="3.9" transform="rotate(60 914.4 925)" fill="#fff" stroke="#5c5c5c" stroke-width="1.38" />
<ellipse cx="939" cy="912.9" rx="11.8" ry="8" transform="rotate(60 939 912.9)" fill="#ddd" stroke="#5c5c5c" stroke-width="1.38" />
<ellipse cx="937.5" cy="913.5" rx="11.8" ry="8" transform="rotate(60 937.5 913.5)" fill="#eee" stroke="#5c5c5c" stroke-width="1.8399999999999999" />
<ellipse cx="937.5" cy="913.5" rx="5.9" ry="4" transform="rotate(60 937.5 913.5)" fill="#fff" stroke="#5c5c5c" stroke-width="1.4949999999999999" />
<path d="M777.2 419.4 L777.2 406.5 L796.7 397.4 L816.1 390.3 L826.5 387 L831.7 437.6 L796.7 433.7Z" fill="#f1f1f1" stroke="#5c5c5c" stroke-width="2.1849999999999996" stroke-linejoin="round" stroke-linecap="round" />
<path d="M858.9 396.9 L871.8 405.9 L891.3 428 L884.8 434.4 L875.7 464.3 L869.3 491.5 L838.1 452.6 L833 434.4Z" fill="#e9e9e9" stroke="#5c5c5c" stroke-width="2.1849999999999996" stroke-linejoin="round" stroke-linecap="round" />
<path d="M858.9 396.9 L871.8 405.9 L878.3 413.7 L853.7 418.9 L847.9 411.1Z" fill="#b5b5b5" stroke="none" stroke-width="1.6" stroke-linejoin="round" stroke-linecap="round" /><path d="M858.9 396.9 L871.8 405.9 L878.3 413.7 L853.7 418.9 L847.9 411.1Z" fill="url(#hX)" stroke="none" stroke-width="1.6" stroke-linejoin="round" stroke-linecap="round" />
<path d="M847.9 411.1 L853.7 418.9 L878.3 413.7 L891.3 428 L884.8 434.4 L880.9 447.4 L840.7 442.2Z" fill="url(#hA)" stroke="none" stroke-width="1.6" stroke-linejoin="round" stroke-linecap="round" />
<path d="M858.9 396.9 L871.8 405.9 L891.3 428 L884.8 434.4 L875.7 464.3 L869.3 491.5 L838.1 452.6 L833 434.4Z" fill="none" stroke="#5c5c5c" stroke-width="2.1849999999999996" stroke-linejoin="round" stroke-linecap="round" />
<path d="M689.1 407.8 L694.3 406.5 L729.3 437.6 L731.2 446.7 L724.1 472.6 L711.1 464.8 L705.9 446.7 L693 420.7Z" fill="#efefef" stroke="#5c5c5c" stroke-width="2.1849999999999996" stroke-linejoin="round" stroke-linecap="round" />
<path d="M691.7 413 L722.8 444.1 L724.1 472.6 L711.1 464.8 L705.9 446.7 L694.3 423.3Z" fill="#d6d6d6" stroke="none" stroke-width="1.6" stroke-linejoin="round" stroke-linecap="round" /><path d="M691.7 413 L722.8 444.1 L724.1 472.6 L711.1 464.8 L705.9 446.7 L694.3 423.3Z" fill="url(#hA)" stroke="none" stroke-width="1.6" stroke-linejoin="round" stroke-linecap="round" />
<path d="M689.1 407.8 L694.3 406.5 L729.3 437.6 L731.2 446.7 L724.1 472.6 L711.1 464.8 L705.9 446.7 L693 420.7Z" fill="none" stroke="#5c5c5c" stroke-width="2.1849999999999996" stroke-linejoin="round" stroke-linecap="round" />
<path d="M690.4 409.1 L722.8 444.1" fill="none" stroke="#5c5c5c" stroke-width="1.4949999999999999" stroke-linejoin="round" stroke-linecap="round" />
<path d="M734.4 381.8 L735.7 368.9 L740.9 358.5 L751.3 354.6 L763 354.6 L765.5 363.7 L770.7 388.3 L777.2 419.4 L750 420.7 L739.6 394.8Z" fill="#f2f2f2" stroke="#5c5c5c" stroke-width="2.1849999999999996" stroke-linejoin="round" stroke-linecap="round" />
<path d="M752.6 372.8 L760.4 359.8 L770.7 397.4 L775.3 418.1 L757.8 418.1 L750 402.6Z" fill="#c9c9c9" stroke="none" stroke-width="1.6" stroke-linejoin="round" stroke-linecap="round" /><path d="M752.6 372.8 L760.4 359.8 L770.7 397.4 L775.3 418.1 L757.8 418.1 L750 402.6Z" fill="url(#hX)" stroke="none" stroke-width="1.6" stroke-linejoin="round" stroke-linecap="round" />
<path d="M744.8 372.8 L752.6 372.8 L750 402.6 L757.8 418.1 L752.6 419.4 L740.9 392.2Z" fill="url(#hA)" stroke="none" stroke-width="1.6" stroke-linejoin="round" stroke-linecap="round" />
<path d="M734.4 381.8 L735.7 368.9 L740.9 358.5 L751.3 354.6 L763 354.6 L765.5 363.7 L770.7 388.3 L777.2 419.4 L750 420.7 L739.6 394.8Z" fill="none" stroke="#5c5c5c" stroke-width="2.1849999999999996" stroke-linejoin="round" stroke-linecap="round" />
<path d="M757.8 355.9 L764.3 381.8 L773.3 418.8" fill="none" stroke="#5c5c5c" stroke-width="1.4949999999999999" stroke-linejoin="round" stroke-linecap="round" />
<path d="M840.7 331.3 L844.6 331.9 L860.2 388.3 L853.7 394.8 L838.1 441.5 L831.7 437.6 L826.5 387Z" fill="#f1f1f1" stroke="#5c5c5c" stroke-width="2.1849999999999996" stroke-linejoin="round" stroke-linecap="round" />
<path d="M829.1 397.4 L852.4 390.9 L838.1 441.5 L831.7 437.6Z" fill="#c4c4c4" stroke="none" stroke-width="1.6" stroke-linejoin="round" stroke-linecap="round" /><path d="M829.1 397.4 L852.4 390.9 L838.1 441.5 L831.7 437.6Z" fill="url(#hX)" stroke="none" stroke-width="1.6" stroke-linejoin="round" stroke-linecap="round" />
<path d="M827.8 387 L853.7 384.4 L852.4 390.9 L829.1 397.4Z" fill="url(#hA)" stroke="none" stroke-width="1.6" stroke-linejoin="round" stroke-linecap="round" />
<path d="M840.7 331.3 L844.6 331.9 L860.2 388.3 L853.7 394.8 L838.1 441.5 L831.7 437.6 L826.5 387Z" fill="none" stroke="#5c5c5c" stroke-width="2.1849999999999996" stroke-linejoin="round" stroke-linecap="round" />
<path d="M842.7 331.6 L853.7 394.8" fill="none" stroke="#5c5c5c" stroke-width="1.4949999999999999" stroke-linejoin="round" stroke-linecap="round" />
<path d="M826.5 387 L853.7 394.8" fill="none" stroke="#8a8a8a" stroke-width="1.1" stroke-linejoin="round" stroke-linecap="round" />
<path d="M918.5 407.9 L923 411.1 L919.8 444.8 L922.4 481.1 L869.3 492.8 L875.7 464.3 L884.8 434.4 L891.3 428.6Z" fill="#f1f1f1" stroke="#5c5c5c" stroke-width="2.1849999999999996" stroke-linejoin="round" stroke-linecap="round" />
<path d="M880.9 452.6 L915.9 475.9 L916.6 479.8 L869.9 492.1 L875.7 464.3Z" fill="#bcbcbc" stroke="none" stroke-width="1.6" stroke-linejoin="round" stroke-linecap="round" /><path d="M880.9 452.6 L915.9 475.9 L916.6 479.8 L869.9 492.1 L875.7 464.3Z" fill="url(#hX)" stroke="none" stroke-width="1.6" stroke-linejoin="round" stroke-linecap="round" />
<path d="M884.8 435.7 L915.9 457.8 L915.9 475.9 L880.9 452.6Z" fill="url(#hA)" stroke="none" stroke-width="1.6" stroke-linejoin="round" stroke-linecap="round" />
<path d="M918.5 407.9 L923 411.1 L919.8 444.8 L922.4 481.1 L869.3 492.8 L875.7 464.3 L884.8 434.4 L891.3 428.6Z" fill="none" stroke="#5c5c5c" stroke-width="2.1849999999999996" stroke-linejoin="round" stroke-linecap="round" />
<path d="M919.2 409.2 L916.6 479.8" fill="none" stroke="#5c5c5c" stroke-width="1.4949999999999999" stroke-linejoin="round" stroke-linecap="round" />
<path d="M869.3 492.8 L922.4 481.1 L923.7 483.7 L928.9 510.9 L871.8 496.7Z" fill="#a8a8a8" stroke="#5c5c5c" stroke-width="1.7249999999999999" stroke-linejoin="round" stroke-linecap="round" />
<path d="M869.3 492.8 L922.4 481.1 L923.7 483.7 L928.9 510.9 L871.8 496.7Z" fill="url(#hX)" stroke="none" stroke-width="1.6" stroke-linejoin="round" stroke-linecap="round" />
<path d="M869.3 494.1 L928.9 510.9 L969.1 522.6 L970.3 523.6 L958 540 L937.2 578.9 L933.3 582.8 L886.7 562 L876 540Z" fill="#efefef" stroke="#5c5c5c" stroke-width="2.1849999999999996" stroke-linejoin="round" stroke-linecap="round" />
<path d="M869.3 494.1 L928.9 510.9 L969.1 522.6 L958 531 L905 553 L886.7 562 L876 540Z" fill="#b5b5b5" stroke="none" stroke-width="1.6" stroke-linejoin="round" stroke-linecap="round" /><path d="M869.3 494.1 L928.9 510.9 L969.1 522.6 L958 531 L905 553 L886.7 562 L876 540Z" fill="url(#hX)" stroke="none" stroke-width="1.6" stroke-linejoin="round" stroke-linecap="round" />
<path d="M869.3 494.1 L928.9 510.9 L969.1 522.6 L970.3 523.6 L958 540 L937.2 578.9 L933.3 582.8 L886.7 562 L876 540Z" fill="none" stroke="#5c5c5c" stroke-width="2.1849999999999996" stroke-linejoin="round" stroke-linecap="round" />
<path d="M886.7 562 L905 553 L962 528" fill="none" stroke="#5c5c5c" stroke-width="1.38" stroke-linejoin="round" stroke-linecap="round" />
<path d="M933.3 582.8 L937.2 578.9" fill="none" stroke="#5c5c5c" stroke-width="1.38" stroke-linejoin="round" stroke-linecap="round" />
<path d="M882.8 567.2 L906 580 L937 615 L920 632 L880 600Z" fill="#9a9a9a" stroke="#5c5c5c" stroke-width="1.6099999999999999" stroke-linejoin="round" stroke-linecap="round" />
<path d="M882.8 567.2 L906 580 L937 615 L920 632 L880 600Z" fill="url(#hX)" stroke="none" stroke-width="1.6" stroke-linejoin="round" stroke-linecap="round" />
<path d="M849 600 L880.2 663.1 L886 661 L932 636.5 L915 622 L880 600Z" fill="#f0f0f0" stroke="#5c5c5c" stroke-width="2.1849999999999996" stroke-linejoin="round" stroke-linecap="round" />
<path d="M849 600 L880 600 L915 622 L905 640 L870 628Z" fill="url(#hA)" stroke="none" stroke-width="1.6" stroke-linejoin="round" stroke-linecap="round" />
<path d="M849 600 L880.2 663.1 L886 661 L932 636.5 L915 622 L880 600Z" fill="none" stroke="#5c5c5c" stroke-width="2.1849999999999996" stroke-linejoin="round" stroke-linecap="round" />
<path d="M853 612 L884 661.5" fill="none" stroke="#5c5c5c" stroke-width="1.38" stroke-linejoin="round" stroke-linecap="round" />
<path d="M788.1 616.5 L783 664.4 L786.9 670.9 L821.8 670.9 L850.4 661.8 L854.3 654.1 L847.8 624.3 L845.2 612.6 L808.9 610Z" fill="#f1f1f1" stroke="#5c5c5c" stroke-width="2.1849999999999996" stroke-linejoin="round" stroke-linecap="round" />
<path d="M812.8 617.8 L846.5 617.8 L853.6 654.1 L849.1 660.5 L834.8 651.5Z" fill="#b8b8b8" stroke="none" stroke-width="1.6" stroke-linejoin="round" stroke-linecap="round" /><path d="M812.8 617.8 L846.5 617.8 L853.6 654.1 L849.1 660.5 L834.8 651.5Z" fill="url(#hX)" stroke="none" stroke-width="1.6" stroke-linejoin="round" stroke-linecap="round" />
<path d="M789.4 617.8 L812.8 617.8 L834.8 651.5 L824.4 648.9 L790.7 628.1Z" fill="url(#hA)" stroke="none" stroke-width="1.6" stroke-linejoin="round" stroke-linecap="round" />
<path d="M788.1 616.5 L783 664.4 L786.9 670.9 L821.8 670.9 L850.4 661.8 L854.3 654.1 L847.8 624.3 L845.2 612.6 L808.9 610Z" fill="none" stroke="#5c5c5c" stroke-width="2.1849999999999996" stroke-linejoin="round" stroke-linecap="round" />
<path d="M752 622 L774 628 L768 650 L748 642Z" fill="#e4e4e4" stroke="#5c5c5c" stroke-width="1.6099999999999999" stroke-linejoin="round" stroke-linecap="round" />
<path d="M752 622 L774 628 L768 650 L748 642Z" fill="url(#hA)" stroke="none" stroke-width="1.6" stroke-linejoin="round" stroke-linecap="round" />
<path d="M769.3 403.2 L773.5 403.5 L777.7 404.1 L782 404.9 L786.4 406 L790.8 407.4 L795.2 409 L799.7 410.9 L804.2 413 L808.7 415.4 L813.1 418 L817.6 420.8 L822 423.9 L826.4 427.2 L830.7 430.6 L835 434.3 L839.1 438.2 L843.2 442.2 L847.2 446.4 L851.1 450.8 L854.9 455.3 L858.5 459.9 L862 464.7 L865.3 469.5 L868.5 474.5 L871.6 479.5 L874.4 484.7 L877.1 489.8 L879.6 495 L881.9 500.3 L884 505.5 L885.9 510.8 L887.5 516.1 L889 521.3 L890.3 526.5 L891.3 531.6 L892.1 536.7 L892.7 541.7 L893 546.6 L893.1 551.4 L893 556.1 L892.7 560.6 L892.1 565 L891.4 569.3 L890.3 573.4 L889.1 577.3 L887.7 581 L886 584.6 L884.1 587.9 L870 582.6 L871.7 579.6 L873.2 576.5 L874.4 573.2 L875.5 569.7 L876.4 566.1 L877.1 562.3 L877.6 558.4 L877.9 554.4 L878 550.2 L877.9 546 L877.6 541.6 L877.1 537.2 L876.4 532.7 L875.4 528.2 L874.3 523.6 L873 519 L871.6 514.3 L869.9 509.7 L868 505 L866 500.4 L863.8 495.7 L861.4 491.2 L858.9 486.6 L856.2 482.2 L853.4 477.8 L850.4 473.5 L847.4 469.3 L844.1 465.2 L840.8 461.2 L837.4 457.3 L833.8 453.6 L830.2 450 L826.5 446.6 L822.8 443.4 L818.9 440.3 L815.1 437.4 L811.1 434.7 L807.2 432.2 L803.2 429.9 L799.3 427.8 L795.3 425.9 L791.3 424.2 L787.4 422.8 L783.5 421.6 L779.7 420.6 L775.8 419.8 L772.1 419.3 L768.4 419.1Z" fill="#e2e2e2" stroke="none" stroke-width="1.6" stroke-linejoin="round" stroke-linecap="round" />
<path d="M769.3 403.2 L773.5 403.5 L777.7 404.1 L782 404.9 L786.4 406 L790.8 407.4 L795.2 409 L799.7 410.9 L804.2 413 L808.7 415.4 L813.1 418 L817.6 420.8 L822 423.9 L826.4 427.2 L830.7 430.6 L835 434.3 L839.1 438.2 L843.2 442.2 L847.2 446.4 L851.1 450.8 L854.9 455.3 L858.5 459.9 L862 464.7 L865.3 469.5 L868.5 474.5 L871.6 479.5 L874.4 484.7 L877.1 489.8 L879.6 495 L881.9 500.3 L884 505.5 L885.9 510.8 L887.5 516.1 L889 521.3 L890.3 526.5 L891.3 531.6 L892.1 536.7 L892.7 541.7 L893 546.6 L893.1 551.4 L893 556.1 L892.7 560.6 L892.1 565 L891.4 569.3 L890.3 573.4 L889.1 577.3 L887.7 581 L886 584.6 L884.1 587.9 L870 582.6 L871.7 579.6 L873.2 576.5 L874.4 573.2 L875.5 569.7 L876.4 566.1 L877.1 562.3 L877.6 558.4 L877.9 554.4 L878 550.2 L877.9 546 L877.6 541.6 L877.1 537.2 L876.4 532.7 L875.4 528.2 L874.3 523.6 L873 519 L871.6 514.3 L869.9 509.7 L868 505 L866 500.4 L863.8 495.7 L861.4 491.2 L858.9 486.6 L856.2 482.2 L853.4 477.8 L850.4 473.5 L847.4 469.3 L844.1 465.2 L840.8 461.2 L837.4 457.3 L833.8 453.6 L830.2 450 L826.5 446.6 L822.8 443.4 L818.9 440.3 L815.1 437.4 L811.1 434.7 L807.2 432.2 L803.2 429.9 L799.3 427.8 L795.3 425.9 L791.3 424.2 L787.4 422.8 L783.5 421.6 L779.7 420.6 L775.8 419.8 L772.1 419.3 L768.4 419.1Z" fill="url(#hA)" stroke="none" stroke-width="1.6" stroke-linejoin="round" stroke-linecap="round" />
<ellipse cx="802.5" cy="509" rx="107.3" ry="65.4" transform="rotate(55.09594342754685 802.5 509)" fill="#ececec" stroke="#5c5c5c" stroke-width="2.1849999999999996" />
<ellipse cx="800" cy="510.5" rx="102.7" ry="62.6" transform="rotate(55.09594342754685 800 510.5)" fill="#f0f0f0" stroke="#5c5c5c" stroke-width="1.7249999999999999" />
<clipPath id="c_fanpl"><path d="M858.8 594.7 L851.6 598.7 L843.5 601.1 L834.6 602 L825.2 601.3 L815.4 599.1 L805.3 595.4 L795.1 590.2 L784.9 583.6 L775.1 575.8 L765.7 566.9 L756.8 557 L748.7 546.3 L741.5 535 L735.2 523.3 L730.1 511.3 L726.2 499.4 L723.5 487.6 L722.2 476.3 L722.2 465.5 L723.5 455.5 L726.1 446.4 L730 438.4 L735.1 431.7 L741.2 426.3 L748.4 422.3 L756.5 419.9 L765.4 419 L774.8 419.7 L784.6 421.9 L794.7 425.6 L804.9 430.8 L815.1 437.4 L824.9 445.2 L834.3 454.1 L843.2 464 L851.3 474.7 L858.5 486 L864.8 497.7 L869.9 509.7 L873.8 521.6 L876.5 533.4 L877.8 544.7 L877.8 555.5 L876.5 565.5 L873.9 574.6 L870 582.6 L864.9 589.3 L858.8 594.7Z"/></clipPath><g clip-path="url(#c_fanpl)"><path d="M736.8 488.6 L736.4 485.5 L736.2 482.4 L736.1 479.4 L736.1 476.5 L736.2 473.6 L736.4 470.8 L736.8 468 L737.2 465.4 L737.8 462.8 L738.6 460.3 L739.4 457.9 L740.3 455.7 L741.4 453.5 L742.6 451.4 L743.9 449.4 L745.2 447.6 L746.7 445.9 L748.3 444.3 L750 442.8 L751.8 441.4 L753.7 440.2 L755.7 439.2 L757.7 438.2 L759.9 437.4 L762.1 436.7 L764.4 436.2 L766.7 435.8 L769.1 435.6 L771.6 435.5 L774.1 435.5 L776.7 435.7 L779.3 436 L782 436.5 L784.7 437.1 L787.4 437.9 L790.1 438.7 L792.9 439.8 L795.7 440.9 L798.5 442.2 L801.3 443.6 L804 445.2 L806.8 446.9 L809.6 448.6 L812.3 450.6 L815.1 452.6 L817.8 454.7 L820.4 457 L823.1 459.3" fill="none" stroke="url(#hB)" stroke-width="26" stroke-linejoin="round" stroke-linecap="round" /><path d="M859 519.4 L859.7 522 L860.4 524.6 L860.9 527.2 L861.3 529.8 L861.7 532.4 L862 534.9 L862.2 537.4 L862.4 539.8 L862.4 542.3 L862.4 544.6 L862.2 547 L862 549.3 L861.8 551.5 L861.4 553.7 L860.9 555.8 L860.4 557.8 L859.8 559.8 L859.1 561.8 L858.4 563.6 L857.5 565.4 L856.6 567.2 L855.6 568.8 L854.6 570.4 L853.4 571.9 L852.2 573.3 L850.9 574.6 L849.6 575.8 L848.2 577 L846.7 578.1 L845.2 579.1 L843.6 579.9 L841.9 580.7 L840.2 581.4 L838.5 582 L836.6 582.6 L834.8 583 L832.9 583.3 L830.9 583.5 L828.9 583.7 L826.9 583.7 L824.8 583.6 L822.7 583.5 L820.6 583.2 L818.5 582.9 L816.3 582.4 L814.1 581.9 L811.9 581.2 L809.6 580.5" fill="none" stroke="url(#hA)" stroke-width="30" stroke-linejoin="round" stroke-linecap="round" /><path d="M740.2 461.2 L741.4 456.4 L743 451.9 L745 447.8 L747.4 444.1 L750.1 440.7 L753.2 437.8 L756.6 435.3 L760.4 433.3 L764.4 431.7 L768.6 430.6 L773.1 430 L777.8 429.8 L782.6 430.2 L787.7 431 L792.8 432.3 L798 434.1 L803.2 436.3 L808.5 439 L813.7 442.1 L818.9 445.6 L824.1 449.5 L829.1 453.8 L834 458.4 L838.7 463.3 L843.1 468.5 L847.4 474 L851.4 479.6 L855.2 485.5 L858.6 491.4 L861.7 497.5 L864.5 503.7 L866.9 509.8 L868.9 516 L870.5 522.1 L871.8 528.2 L872.6 534.1 L873 539.8 L873 545.4 L872.6 550.7 L871.8 555.8" fill="none" stroke="#5c5c5c" stroke-width="1.4949999999999999" /><path d="M749.8 454 L751.5 450.6 L753.5 447.6 L755.7 444.8 L758.2 442.3 L761 440.1 L764 438.3 L767.2 436.8 L770.6 435.7 L774.1 434.9 L777.9 434.4 L781.8 434.3 L785.8 434.6 L789.9 435.2 L794.1 436.2 L798.4 437.5 L802.7 439.1 L807.1 441.1 L811.4 443.5 L815.7 446.1 L820 449 L824.3 452.2 L828.4 455.7 L832.5 459.4 L836.5 463.4 L840.3 467.6 L843.9 472 L847.4 476.5 L850.7 481.2 L853.7 486.1 L856.6 491 L859.2 496 L861.6 501.1 L863.7 506.2 L865.5 511.3 L867 516.4 L868.3 521.4 L869.3 526.4 L870 531.3 L870.3 536.1 L870.4 540.7" fill="none" stroke="#5c5c5c" stroke-width="1.265" /></g>
<rect x="756" y="456.9" width="10" height="11" rx="3" fill="#f8f8f8" stroke="#5c5c5c" stroke-width="1.4" transform="rotate(-22 761 462.4)"/>
<rect x="797.4" y="442.4" width="10" height="11" rx="3" fill="#f8f8f8" stroke="#5c5c5c" stroke-width="1.4" transform="rotate(-22 802.4 447.9)"/>
<rect x="838.9" y="486.0" width="10" height="11" rx="3" fill="#f8f8f8" stroke="#5c5c5c" stroke-width="1.4" transform="rotate(-22 843.9 491.5)"/>
<ellipse cx="795.2" cy="513" rx="49" ry="36.5" transform="rotate(66.65522169013084 795.2 513)" fill="url(#hX)" stroke="#5c5c5c" stroke-width="1.7249999999999999" />
<ellipse cx="798.2" cy="511.7" rx="49" ry="36.5" transform="rotate(66.65522169013084 798.2 511.7)" fill="#f0f0f0" stroke="#5c5c5c" stroke-width="2.07" />
<clipPath id="c_hubf"><path d="M817.7 556.7 L813.1 558.2 L808.3 558.9 L803.4 558.8 L798.3 557.9 L793.3 556.2 L788.3 553.8 L783.5 550.6 L778.9 546.7 L774.7 542.3 L770.9 537.3 L767.6 531.9 L764.7 526.2 L762.5 520.2 L760.8 514 L759.8 507.8 L759.5 501.7 L759.8 495.8 L760.8 490.1 L762.4 484.8 L764.7 479.9 L767.5 475.6 L770.8 471.9 L774.6 468.9 L778.8 466.7 L783.4 465.2 L788.2 464.5 L793.1 464.6 L798.2 465.5 L803.2 467.2 L808.2 469.6 L813 472.8 L817.6 476.7 L821.8 481.1 L825.6 486.1 L828.9 491.5 L831.8 497.2 L834 503.2 L835.7 509.4 L836.7 515.6 L837 521.7 L836.7 527.6 L835.7 533.3 L834.1 538.6 L831.8 543.5 L829 547.8 L825.7 551.5 L821.9 554.5 L817.7 556.7Z"/></clipPath><g clip-path="url(#c_hubf)"><path d="M828.8 526 L828.6 527.4 L828.3 528.7 L827.9 530.1 L827.6 531.4 L827.1 532.7 L826.6 533.9 L826.1 535.1 L825.6 536.3 L825 537.4 L824.3 538.5 L823.6 539.6 L822.9 540.6 L822.1 541.5 L821.3 542.4 L820.4 543.3 L819.6 544.1 L818.6 544.8 L817.7 545.5 L816.7 546.2 L815.7 546.8 L814.7 547.3 L813.6 547.8 L812.5 548.2 L811.4 548.6 L810.3 548.9 L809.1 549.2 L807.9 549.3 L806.8 549.5 L805.6 549.5 L804.4 549.5 L803.1 549.5 L801.9 549.4 L800.7 549.2 L799.4 549 L798.2 548.7 L797 548.3 L795.7 547.9 L794.5 547.4 L793.3 546.9 L792 546.3 L790.8 545.7 L789.6 545 L788.4 544.2 L787.3 543.4 L786.1 542.6 L785 541.7 L783.9 540.7 L782.8 539.7" fill="none" stroke="url(#hA)" stroke-width="14" stroke-linejoin="round" stroke-linecap="round" /></g>
<path d="M797 478 a4 4 0 1 1 3 7" fill="none" stroke="#5c5c5c" stroke-width="1.6099999999999999" stroke-linejoin="round" stroke-linecap="round" />
<ellipse cx="791" cy="509.5" rx="21.9" ry="14.4" transform="rotate(75.73286855723674 791 509.5)" fill="#e0e0e0" stroke="#5c5c5c" stroke-width="1.7249999999999999" />
<ellipse cx="786" cy="511.5" rx="21.9" ry="14.4" transform="rotate(75.73286855723674 786 511.5)" fill="#f4f4f4" stroke="#5c5c5c" stroke-width="2.07" />
<ellipse cx="786" cy="511.5" rx="12.7" ry="8.4" transform="rotate(75.73286855723674 786 511.5)" fill="url(#hX)" stroke="#5c5c5c" stroke-width="1.8399999999999999" />
<ellipse cx="787.5" cy="512.5" rx="7.6" ry="5" transform="rotate(75.73286855723674 787.5 512.5)" fill="#fff" stroke="#5c5c5c" stroke-width="1.38" />
<path d="M800 507 L824 499" fill="none" stroke="#5c5c5c" stroke-width="7.475" stroke-linejoin="round" stroke-linecap="round" />
<path d="M800 507 L823.5 499.2" fill="none" stroke="#efefef" stroke-width="3.6" stroke-linejoin="round" stroke-linecap="round" />
<line x1="802" y1="502.6" x2="804" y2="509.4" stroke="#5c5c5c" stroke-width="1" />
<line x1="805.2" y1="501.5" x2="807.2" y2="508.3" stroke="#5c5c5c" stroke-width="1" />
<line x1="808.4" y1="500.5" x2="810.4" y2="507.3" stroke="#5c5c5c" stroke-width="1" />
<line x1="811.6" y1="499.4" x2="813.6" y2="506.2" stroke="#5c5c5c" stroke-width="1" />
<line x1="814.8" y1="498.3" x2="816.8" y2="505.1" stroke="#5c5c5c" stroke-width="1" />
<path d="M786 526 l12 -4" fill="none" stroke="#5c5c5c" stroke-width="5.175" stroke-linejoin="round" stroke-linecap="round" />
<path d="M786.5 526 l11 -3.7" fill="none" stroke="#f4f4f4" stroke-width="2" stroke-linejoin="round" stroke-linecap="round" />
<path d="M757 498 L776 487.5" fill="none" stroke="#5c5c5c" stroke-width="6.8999999999999995" stroke-linejoin="round" stroke-linecap="round" />
<path d="M757.6 497.7 L775.4 487.8" fill="none" stroke="#e6e6e6" stroke-width="3.2" stroke-linejoin="round" stroke-linecap="round" />
<line x1="757.7" y1="494" x2="760.3" y2="499.2" stroke="#5c5c5c" stroke-width="0.9" />
<line x1="760.7" y1="492.4" x2="763.3" y2="497.6" stroke="#5c5c5c" stroke-width="0.9" />
<line x1="763.7" y1="490.7" x2="766.3" y2="495.9" stroke="#5c5c5c" stroke-width="0.9" />
<line x1="766.7" y1="489.1" x2="769.3" y2="494.3" stroke="#5c5c5c" stroke-width="0.9" />
<path d="M784 556 L797 549" fill="none" stroke="#5c5c5c" stroke-width="6.324999999999999" stroke-linejoin="round" stroke-linecap="round" />
<path d="M784.6 555.7 L796.4 549.3" fill="none" stroke="#e6e6e6" stroke-width="2.8" stroke-linejoin="round" stroke-linecap="round" />
<ellipse cx="707" cy="553.8" rx="96.2" ry="66" transform="rotate(65.69350826585405 707 553.8)" fill="#f0f0f0" stroke="#5c5c5c" stroke-width="2.53" />
<path d="M701.6 633.1 L696.4 630.3 L691.3 627 L686.4 623.4 L681.5 619.2 L676.8 614.8 L672.3 609.9 L668.1 604.7 L664 599.2 L660.3 593.5 L656.8 587.5 L653.6 581.3 L650.8 574.9 L648.3 568.4 L646.1 561.8 L644.3 555.2 L642.9 548.5 L641.9 541.9 L641.3 535.3 L641.1 528.9 L641.3 522.5 L641.9 516.4 L642.8 510.5 L644.2 504.8 L645.9 499.4 L648 494.3 L650.5 489.5 L653.3 485.1 L656.5 481.1 L659.9 477.5 L663.6 474.4 L667.6 471.7 L671.9 469.5 L676.4 467.8 L681 466.5 L685.9 465.8 L690.8 465.6 L695.9 465.9 L701 466.7 L706.2 468 L711.5 469.7" fill="none" stroke="#5c5c5c" stroke-width="1.7249999999999999" />
<clipPath id="c_d3"><path d="M746.6 641.4 L738.4 644.2 L729.7 645.4 L720.6 645.1 L711.2 643.2 L701.8 639.8 L692.5 634.9 L683.4 628.7 L674.7 621.1 L666.6 612.4 L659.1 602.7 L652.5 592.1 L646.9 580.9 L642.2 569.2 L638.7 557.3 L636.3 545.3 L635.1 533.5 L635.2 522 L636.5 511 L639 500.8 L642.6 491.4 L647.4 483.2 L653.2 476.1 L659.9 470.4 L667.4 466.1 L675.6 463.3 L684.3 462.1 L693.4 462.4 L702.8 464.3 L712.2 467.7 L721.5 472.6 L730.6 478.8 L739.3 486.4 L747.4 495.1 L754.9 504.8 L761.5 515.4 L767.1 526.6 L771.8 538.3 L775.3 550.2 L777.7 562.2 L778.9 574 L778.8 585.5 L777.5 596.5 L775 606.7 L771.4 616.1 L766.6 624.3 L760.8 631.4 L754.1 637.1 L746.6 641.4Z"/></clipPath><g clip-path="url(#c_d3)"><path d="M763 557.3 L763.6 560.8 L764 564.2 L764.4 567.6 L764.5 571 L764.6 574.4 L764.5 577.7 L764.3 580.9 L764 584.1 L763.5 587.2 L763 590.3 L762.2 593.3 L761.4 596.1 L760.5 598.9 L759.4 601.6 L758.2 604.2 L756.9 606.6 L755.5 609 L754 611.2 L752.3 613.3 L750.6 615.3 L748.8 617.1 L746.8 618.8 L744.8 620.3 L742.7 621.7 L740.6 622.9 L738.3 624 L736 624.9 L733.6 625.7 L731.2 626.3 L728.7 626.8 L726.1 627 L723.5 627.1 L720.9 627.1 L718.3 626.9 L715.6 626.5 L712.9 626 L710.2 625.3 L707.4 624.4 L704.7 623.4 L702 622.2 L699.3 620.9 L696.6 619.4 L693.9 617.8 L691.3 616 L688.7 614.1 L686.1 612.1 L683.6 609.9 L681.2 607.6" fill="none" stroke="url(#hA)" stroke-width="26" stroke-linejoin="round" stroke-linecap="round" /><path d="M666.5 486.8 L667.5 486.1 L668.5 485.3 L669.6 484.6 L670.7 483.9 L671.8 483.3 L672.9 482.7 L674.1 482.1 L675.3 481.6 L676.4 481.1 L677.7 480.6 L678.9 480.2 L680.1 479.9 L681.4 479.6 L682.6 479.3 L683.9 479.1 L685.2 478.9 L686.5 478.7 L687.8 478.6 L689.1 478.5 L690.5 478.5 L691.8 478.5 L693.2 478.6 L694.5 478.7 L695.9 478.8 L697.3 479 L698.6 479.2 L700 479.5 L701.4 479.8 L702.8 480.2 L704.2 480.6 L705.6 481 L707 481.5 L708.4 482 L709.8 482.5 L711.2 483.1 L712.6 483.8 L713.9 484.4 L715.3 485.1 L716.7 485.9 L718.1 486.7 L719.4 487.5 L720.8 488.4 L722.2 489.3 L723.5 490.2 L724.8 491.2 L726.2 492.2 L727.5 493.2 L728.8 494.3" fill="none" stroke="url(#hA)" stroke-width="24" stroke-linejoin="round" stroke-linecap="round" /></g>
<ellipse cx="702.5" cy="558" rx="61.4" ry="40" transform="rotate(68.56314201945207 702.5 558)" fill="#b0b0b0" stroke="#5c5c5c" stroke-width="1.8399999999999999" />
<ellipse cx="702.5" cy="558" rx="61.4" ry="40" transform="rotate(68.56314201945207 702.5 558)" fill="url(#hX)" stroke="#5c5c5c" stroke-width="1.8399999999999999" />
<path d="M665.6 517.1 L666.1 516.1 L666.6 515.2 L667.1 514.3 L667.7 513.5 L668.2 512.6 L668.8 511.8 L669.4 511.1 L670.1 510.3 L670.7 509.6 L671.4 508.9 L672.1 508.2 L672.8 507.5 L673.5 506.9 L674.2 506.3 L675 505.7 L675.7 505.2 L676.5 504.7 L677.3 504.2 L678.1 503.8 L678.9 503.4 L679.8 503 L680.6 502.6 L681.5 502.3 L682.3 502 L683.2 501.7 L684.1 501.5 L685 501.3 L685.9 501.1 L686.8 501 L687.8 500.9 L688.7 500.8 L689.7 500.8 L690.6 500.8 L691.6 500.8 L692.5 500.9 L693.5 500.9 L694.5 501.1 L695.5 501.2 L696.4 501.4 L697.4 501.6 L698.4 501.9 L699.4 502.1 L700.4 502.4 L701.4 502.8 L702.4 503.1 L703.4 503.6 L704.4 504 L705.4 504.4" fill="none" stroke="#707070" stroke-width="5" stroke-linejoin="round" stroke-linecap="round" />
<ellipse cx="710.5" cy="561" rx="57.5" ry="33" transform="rotate(73.95718820886839 710.5 561)" fill="#f0f0f0" stroke="#5c5c5c" stroke-width="1.9549999999999998" />
<clipPath id="c_d3h"><path d="M726.4 616.3 L722.1 617 L717.6 616.7 L713 615.5 L708.4 613.4 L703.8 610.4 L699.3 606.5 L695 601.9 L691 596.5 L687.3 590.6 L683.9 584.1 L681.1 577.3 L678.8 570.1 L677 562.8 L675.7 555.5 L675.1 548.3 L675.1 541.3 L675.6 534.6 L676.8 528.4 L678.6 522.7 L680.9 517.7 L683.7 513.4 L686.9 510 L690.6 507.4 L694.6 505.7 L698.9 505 L703.4 505.3 L708 506.5 L712.6 508.6 L717.2 511.6 L721.7 515.5 L726 520.1 L730 525.5 L733.7 531.4 L737.1 537.9 L739.9 544.7 L742.2 551.9 L744 559.2 L745.3 566.5 L745.9 573.7 L745.9 580.7 L745.4 587.4 L744.2 593.6 L742.4 599.3 L740.1 604.3 L737.3 608.6 L734.1 612 L730.4 614.6 L726.4 616.3Z"/></clipPath><g clip-path="url(#c_d3h)"><path d="M735.3 553.9 L736.1 556.9 L736.7 559.9 L737.3 562.9 L737.7 565.9 L738 568.9 L738.2 571.8 L738.2 574.7 L738.1 577.6 L737.8 580.3 L737.5 583 L737 585.5 L736.4 588 L735.6 590.3 L734.8 592.4 L733.8 594.5 L732.7 596.3 L731.5 598 L730.2 599.5 L728.8 600.8 L727.3 602 L725.8 602.9 L724.1 603.7 L722.4 604.2 L720.7 604.6 L718.9 604.7 L717 604.6 L715.2 604.3 L713.3 603.8 L711.4 603.1 L709.5 602.2 L707.5 601.1 L705.7 599.8 L703.8 598.3 L701.9 596.7 L700.1 594.9 L698.4 592.9 L696.7 590.7 L695.1 588.5 L693.5 586.1 L692.1 583.5 L690.7 580.9 L689.4 578.2 L688.2 575.3 L687.1 572.5 L686.2 569.5 L685.3 566.5 L684.6 563.5 L684 560.5" fill="none" stroke="url(#hA)" stroke-width="22" stroke-linejoin="round" stroke-linecap="round" /><path d="M697.8 516.8 L698.6 516.6 L699.5 516.4 L700.3 516.3 L701.2 516.2 L702.1 516.2 L703 516.2 L703.9 516.3 L704.8 516.4 L705.7 516.6 L706.6 516.8 L707.6 517.1 L708.5 517.4 L709.4 517.7 L710.3 518.1 L711.3 518.6 L712.2 519.1 L713.1 519.6 L714 520.2 L715 520.8 L715.9 521.5 L716.8 522.2 L717.7 523 L718.6 523.7 L719.5 524.6 L720.3 525.5 L721.2 526.4 L722.1 527.3 L722.9 528.3 L723.7 529.3 L724.6 530.4 L725.4 531.5 L726.1 532.6 L726.9 533.7 L727.7 534.9 L728.4 536.1 L729.1 537.3 L729.8 538.6 L730.5 539.9 L731.1 541.2 L731.7 542.5 L732.3 543.9 L732.9 545.2 L733.5 546.6 L734 548 L734.5 549.4 L735 550.8 L735.5 552.3 L735.9 553.7" fill="none" stroke="url(#hA)" stroke-width="18" stroke-linejoin="round" stroke-linecap="round" /><path d="M738.2 592 L737.8 593 L737.4 594 L737 595 L736.6 596 L736.2 596.9 L735.7 597.8 L735.2 598.7 L734.7 599.5 L734.1 600.3 L733.6 601 L733 601.8 L732.4 602.5 L731.8 603.1 L731.2 603.8 L730.5 604.4 L729.9 604.9 L729.2 605.4 L728.5 605.9 L727.8 606.3 L727 606.7 L726.3 607.1 L725.6 607.4 L724.8 607.7 L724 608 L723.2 608.2 L722.4 608.3 L721.6 608.5 L720.8 608.5 L720 608.6 L719.1 608.6 L718.3 608.6 L717.4 608.5 L716.6 608.4 L715.7 608.2 L714.8 608 L714 607.8 L713.1 607.5 L712.2 607.2 L711.3 606.8 L710.5 606.5 L709.6 606 L708.7 605.6 L707.8 605 L707 604.5 L706.1 603.9 L705.2 603.3 L704.4 602.7 L703.5 602" fill="none" stroke="url(#hX)" stroke-width="9" stroke-linejoin="round" stroke-linecap="round" /></g>
<ellipse cx="710" cy="562.5" rx="22.5" ry="14.5" transform="rotate(66.90502553392878 710 562.5)" fill="#e8e8e8" stroke="#5c5c5c" stroke-width="1.7249999999999999" />
<ellipse cx="713" cy="561.5" rx="22.5" ry="14.5" transform="rotate(66.90502553392878 713 561.5)" fill="#d9d9d9" stroke="#5c5c5c" stroke-width="1.9549999999999998" />
<ellipse cx="707" cy="590" rx="3.2" ry="2.4" transform="rotate(67.5 707 590)" fill="#cfcfcf" stroke="#5c5c5c" stroke-width="1.265" />
<ellipse cx="706" cy="512" rx="2.6" ry="2" transform="rotate(67.5 706 512)" fill="#cfcfcf" stroke="#5c5c5c" stroke-width="1.265" />
<ellipse cx="1112.9" cy="713.6" rx="124.1" ry="81.3" transform="rotate(68.74225080134256 1112.9 713.6)" fill="url(#hD)" stroke="#5c5c5c" stroke-width="2.07" />
<ellipse cx="1104.9" cy="715.6" rx="124.1" ry="81.3" transform="rotate(68.74225080134256 1104.9 715.6)" fill="#f0f0f0" stroke="#5c5c5c" stroke-width="2.3" />
<clipPath id="c_17f"><path d="M1149.9 831.3 L1139.6 834.2 L1128.8 835 L1117.5 833.8 L1106 830.5 L1094.5 825.3 L1083.2 818.3 L1072.2 809.4 L1061.8 799 L1052.1 787.1 L1043.4 774 L1035.7 760 L1029.2 745.1 L1023.9 729.8 L1020.1 714.2 L1017.7 698.6 L1016.8 683.3 L1017.4 668.6 L1019.5 654.7 L1023.1 641.8 L1028.1 630.2 L1034.3 620.1 L1041.8 611.6 L1050.4 604.8 L1059.9 600 L1070.2 597.1 L1081 596.3 L1092.3 597.5 L1103.8 600.8 L1115.3 606 L1126.6 613 L1137.6 621.9 L1148 632.3 L1157.7 644.2 L1166.4 657.3 L1174.1 671.3 L1180.6 686.2 L1185.9 701.5 L1189.7 717.1 L1192.1 732.7 L1193 748 L1192.4 762.7 L1190.3 776.6 L1186.7 789.5 L1181.7 801.1 L1175.5 811.2 L1168 819.7 L1159.4 826.5 L1149.9 831.3Z"/></clipPath><g clip-path="url(#c_17f)"><path d="M1140.1 824 L1138.3 824.4 L1136.6 824.7 L1134.8 825 L1133 825.2 L1131.2 825.3 L1129.4 825.4 L1127.6 825.5 L1125.7 825.4 L1123.9 825.3 L1122 825.2 L1120.1 824.9 L1118.2 824.6 L1116.3 824.3 L1114.4 823.9 L1112.5 823.4 L1110.6 822.9 L1108.7 822.3 L1106.8 821.7 L1104.9 821 L1103 820.2 L1101 819.4 L1099.1 818.5 L1097.2 817.6 L1095.3 816.6 L1093.4 815.5 L1091.5 814.4 L1089.6 813.2 L1087.8 812 L1085.9 810.8 L1084 809.4 L1082.2 808.1 L1080.4 806.6 L1078.5 805.2 L1076.7 803.6 L1075 802.1 L1073.2 800.4 L1071.4 798.8 L1069.7 797 L1068 795.3 L1066.3 793.5 L1064.6 791.6 L1063 789.7 L1061.3 787.8 L1059.7 785.8 L1058.1 783.8 L1056.6 781.7 L1055.1 779.6 L1053.6 777.5" fill="none" stroke="url(#hX)" stroke-width="14" stroke-linejoin="round" stroke-linecap="round" /><path d="M1184.2 744.7 L1184.2 748.8 L1184 752.9 L1183.7 756.9 L1183.3 760.8 L1182.8 764.7 L1182.1 768.5 L1181.4 772.2 L1180.5 775.8 L1179.4 779.3 L1178.3 782.7 L1177.1 786 L1175.7 789.2 L1174.2 792.3 L1172.6 795.2 L1170.9 798 L1169.1 800.7 L1167.2 803.3 L1165.2 805.7 L1163 808 L1160.8 810.1 L1158.6 812.1 L1156.2 813.9 L1153.7 815.5 L1151.2 817 L1148.6 818.4 L1145.9 819.5 L1143.1 820.6 L1140.3 821.4 L1137.5 822.1 L1134.6 822.6 L1131.6 822.9 L1128.6 823 L1125.5 823 L1122.5 822.9 L1119.4 822.5 L1116.2 822 L1113.1 821.3 L1109.9 820.4 L1106.7 819.4 L1103.6 818.2 L1100.4 816.8 L1097.2 815.3 L1094.1 813.6 L1091 811.7 L1087.9 809.8 L1084.8 807.6 L1081.7 805.3 L1078.7 802.9" fill="none" stroke="url(#hA)" stroke-width="16" stroke-linejoin="round" stroke-linecap="round" /><path d="M1053.2 617.7 L1054.2 617 L1055.2 616.4 L1056.2 615.7 L1057.2 615.1 L1058.3 614.5 L1059.3 613.9 L1060.4 613.3 L1061.5 612.8 L1062.6 612.3 L1063.7 611.9 L1064.8 611.4 L1065.9 611 L1067 610.6 L1068.2 610.3 L1069.3 609.9 L1070.5 609.6 L1071.7 609.4 L1072.9 609.1 L1074 608.9 L1075.2 608.7 L1076.5 608.6 L1077.7 608.5 L1078.9 608.4 L1080.1 608.3 L1081.4 608.2 L1082.6 608.2 L1083.8 608.3 L1085.1 608.3 L1086.4 608.4 L1087.6 608.5 L1088.9 608.6 L1090.2 608.8 L1091.4 609 L1092.7 609.2 L1094 609.4 L1095.3 609.7 L1096.6 610 L1097.9 610.3 L1099.2 610.7 L1100.5 611.1 L1101.8 611.5 L1103.1 611.9 L1104.3 612.4 L1105.6 612.9 L1106.9 613.4 L1108.2 614 L1109.5 614.6 L1110.8 615.2" fill="none" stroke="url(#hB)" stroke-width="12" stroke-linejoin="round" stroke-linecap="round" /></g>
<ellipse cx="1102" cy="720.1" rx="97" ry="63.9" transform="rotate(69.07485868543202 1102 720.1)" fill="#ececec" stroke="#5c5c5c" stroke-width="2.07" />
<ellipse cx="1103" cy="720.1" rx="90.2" ry="59.4" transform="rotate(69.07485868543202 1103 720.1)" fill="url(#hA)" stroke="#5c5c5c" stroke-width="2.07" />
<clipPath id="c_17i"><path d="M1135.2 804.3 L1127.7 806.4 L1119.7 807 L1111.5 806 L1103.1 803.7 L1094.8 799.8 L1086.5 794.7 L1078.6 788.2 L1071 780.6 L1064 771.9 L1057.7 762.4 L1052.2 752.1 L1047.5 741.3 L1043.8 730.1 L1041.1 718.8 L1039.4 707.5 L1038.8 696.4 L1039.4 685.7 L1041 675.5 L1043.7 666.2 L1047.4 657.8 L1052 650.4 L1057.5 644.2 L1063.8 639.4 L1070.8 635.9 L1078.3 633.8 L1086.3 633.2 L1094.5 634.2 L1102.9 636.5 L1111.2 640.4 L1119.5 645.5 L1127.4 652 L1135 659.6 L1142 668.3 L1148.3 677.8 L1153.8 688.1 L1158.5 698.9 L1162.2 710.1 L1164.9 721.4 L1166.6 732.7 L1167.2 743.8 L1166.6 754.5 L1165 764.7 L1162.3 774 L1158.6 782.4 L1154 789.8 L1148.5 796 L1142.2 800.8 L1135.2 804.3Z"/></clipPath><g clip-path="url(#c_17i)"><ellipse cx="1103" cy="720.1" rx="90.2" ry="59.4" transform="rotate(69.07485868543202 1103 720.1)" fill="#d4d4d4" stroke="none" stroke-width="1.6" /><ellipse cx="1103" cy="720.1" rx="90.2" ry="59.4" transform="rotate(69.07485868543202 1103 720.1)" fill="url(#hA)" stroke="none" stroke-width="1.6" /><path d="M1058.8 752.1 L1057.3 748.9 L1055.8 745.7 L1054.4 742.5 L1053 739.2 L1051.8 735.9 L1050.7 732.5 L1049.7 729.1 L1048.8 725.7 L1048 722.3 L1047.2 718.9 L1046.6 715.5 L1046.1 712.1 L1045.8 708.7 L1045.5 705.4 L1045.3 702 L1045.2 698.7 L1045.3 695.5 L1045.5 692.3 L1045.7 689.1 L1046.1 686 L1046.6 683 L1047.2 680 L1047.9 677.1 L1048.7 674.3 L1049.6 671.6 L1050.6 669 L1051.7 666.4 L1052.9 664 L1054.2 661.7 L1055.6 659.5 L1057.1 657.4 L1058.7 655.4 L1060.3 653.5 L1062.1 651.8 L1063.9 650.2 L1065.8 648.8 L1067.7 647.4 L1069.8 646.2 L1071.9 645.2 L1074 644.3 L1076.2 643.5 L1078.5 642.9 L1080.8 642.4 L1083.1 642.1 L1085.5 642 L1087.9 641.9 L1090.4 642.1 L1092.8 642.3" fill="none" stroke="url(#hX)" stroke-width="14" stroke-linejoin="round" stroke-linecap="round" /><path d="M1099 711 Q1078 675.9 1069 636" fill="none" stroke="#5c5c5c" stroke-width="10.5" stroke-linejoin="round" stroke-linecap="round" /><path d="M1099 711 Q1078 675.9 1069 636" fill="none" stroke="#f1f1f1" stroke-width="7.5" stroke-linejoin="round" stroke-linecap="round" /><path d="M1099 711 Q1113.7 684.5 1136 664" fill="none" stroke="#5c5c5c" stroke-width="10" stroke-linejoin="round" stroke-linecap="round" /><path d="M1099 711 Q1113.7 684.5 1136 664" fill="none" stroke="#f1f1f1" stroke-width="7" stroke-linejoin="round" stroke-linecap="round" /><path d="M1099 711 Q1132 728.3 1158 755" fill="none" stroke="#5c5c5c" stroke-width="10" stroke-linejoin="round" stroke-linecap="round" /><path d="M1099 711 Q1132 728.3 1158 755" fill="none" stroke="#f1f1f1" stroke-width="7" stroke-linejoin="round" stroke-linecap="round" /><path d="M1099 711 Q1120.1 756.3 1126 806" fill="none" stroke="#5c5c5c" stroke-width="10.5" stroke-linejoin="round" stroke-linecap="round" /><path d="M1099 711 Q1120.1 756.3 1126 806" fill="none" stroke="#f1f1f1" stroke-width="7.5" stroke-linejoin="round" stroke-linecap="round" /><path d="M1099 711 Q1081.7 744 1055 770" fill="none" stroke="#5c5c5c" stroke-width="10" stroke-linejoin="round" stroke-linecap="round" /><path d="M1099 711 Q1081.7 744 1055 770" fill="none" stroke="#f1f1f1" stroke-width="7" stroke-linejoin="round" stroke-linecap="round" /><path d="M1086 690 L1096 684 L1104 690 L1114 688 L1117 700 L1112 708 L1120 716 L1116 728 L1106 728 L1100 736 L1090 732 L1088 722 L1080 716 L1084 704Z" fill="#f3f3f3" stroke="#5c5c5c" stroke-width="1.8399999999999999" stroke-linejoin="round" stroke-linecap="round" /><path d="M1088 700 L1098 694 L1102 704 L1098 716 L1090 714Z" fill="url(#hX)" stroke="#5c5c5c" stroke-width="1.38" stroke-linejoin="round" stroke-linecap="round" /><path d="M1104 690 q-2 10 8 18 M1100 736 q2 -10 -10 -14" fill="none" stroke="#5c5c5c" stroke-width="1.38" stroke-linejoin="round" stroke-linecap="round" /><path d="M1085.7 636.2 L1091.3 637.3 L1096.9 639 L1102.5 641.4 L1108 644.4 L1113.5 648 L1118.8 652.2 L1124 656.9 L1129 662.1 L1133.7 667.8 L1138.1 673.8 L1142.3 680.3 L1146.1 687.1 L1149.5 694.1 L1152.5 701.4 L1155.1 708.8 L1157.3 716.3 L1158.9 723.9 L1160.2 731.5 L1160.9 739 L1161.2 746.3 L1160.9 753.5 L1160.2 760.5 L1159 767.2 L1157.3 773.5 L1155.2 779.4 L1152.6 784.9 L1149.6 790 L1146.2 794.5 L1142.5 798.5 L1138.4 801.9 L1133.9 804.7 L1129.2 806.8 L1124.2 808.4 L1119.1 809.2 L1113.7 809.5 L1108.3 809 L1102.7 807.9 L1097.1 806.2 L1091.5 803.8 L1086 800.8" fill="none" stroke="#5c5c5c" stroke-width="1.7249999999999999" /><path d="M1088.7 634.9 L1094.3 636 L1099.9 637.7 L1105.5 640.1 L1111 643.1 L1116.5 646.7 L1121.8 650.9 L1127 655.6 L1132 660.8 L1136.7 666.5 L1141.1 672.5 L1145.3 679 L1149.1 685.8 L1152.5 692.8 L1155.5 700.1 L1158.1 707.5 L1160.3 715 L1161.9 722.6 L1163.2 730.2 L1163.9 737.7 L1164.2 745 L1163.9 752.2 L1163.2 759.2 L1162 765.9 L1160.3 772.2 L1158.2 778.1 L1155.6 783.6 L1152.6 788.7 L1149.2 793.2 L1145.5 797.2 L1141.4 800.6 L1136.9 803.4 L1132.2 805.5 L1127.2 807.1 L1122.1 807.9 L1116.7 808.2 L1111.3 807.7 L1105.7 806.6 L1100.1 804.9 L1094.5 802.5 L1089 799.5" fill="none" stroke="#e8e8e8" stroke-width="3" /></g>
<ellipse cx="1103" cy="720.1" rx="90.2" ry="59.4" transform="rotate(69.07485868543202 1103 720.1)" fill="none" stroke="#5c5c5c" stroke-width="2.07" />
<ellipse cx="1067" cy="612.7" rx="3.8" ry="2.8" transform="rotate(67.5 1067 612.7)" fill="#cfcfcf" stroke="#5c5c5c" stroke-width="1.265" />
<ellipse cx="1150" cy="653.5" rx="3.8" ry="2.8" transform="rotate(67.5 1150 653.5)" fill="#cfcfcf" stroke="#5c5c5c" stroke-width="1.265" />
<ellipse cx="1179" cy="761" rx="3.8" ry="2.8" transform="rotate(67.5 1179 761)" fill="#cfcfcf" stroke="#5c5c5c" stroke-width="1.265" />
<ellipse cx="1134.8" cy="818" rx="3.8" ry="2.8" transform="rotate(67.5 1134.8 818)" fill="#cfcfcf" stroke="#5c5c5c" stroke-width="1.265" />
<ellipse cx="993.8" cy="772" rx="146.7" ry="106.9" transform="rotate(70.99835999816027 993.8 772)" fill="#d6d6d6" stroke="#5c5c5c" stroke-width="2.53" />
<ellipse cx="993.8" cy="772" rx="146.7" ry="106.9" transform="rotate(70.99835999816027 993.8 772)" fill="url(#belt)" stroke="#5c5c5c" stroke-width="2.53" />
<path d="M927.6 644.4 L937 639.3 L946.8 635.5 L957.1 633.1 L967.8 632.2 L978.7 632.6 L989.7 634.5 L1000.7 637.7 L1011.7 642.3 L1022.4 648.3 L1032.8 655.4 L1042.8 663.8 L1052.3 673.3 L1061.2 683.7 L1069.4 695.1 L1076.7 707.2 L1083.2 720.1 L1088.8 733.4 L1093.4 747.1 L1097 761.1 L1099.5 775.3 L1101 789.4 L1101.3 803.3 L1100.5 816.9 L1098.6 830.1 L1095.7 842.7 L1091.7 854.6 L1086.6 865.7 L1080.6 875.9 L1073.8 885 L1066 893 L1057.6 899.8 L1048.4 905.3 L1038.7 909.5 L1028.5 912.3 L1018 913.7 L1007.1 913.7 L996.2 912.2 L985.1 909.4 L974.1 905.2 L963.3 899.7" fill="none" stroke="#5c5c5c" stroke-width="1.4949999999999999" />
<path d="M928 651.3 L936.9 646.4 L946.4 642.8 L956.2 640.5 L966.4 639.6 L976.8 640 L987.3 641.8 L997.8 644.9 L1008.2 649.3 L1018.5 655 L1028.4 661.8 L1038 669.8 L1047 678.8 L1055.5 688.8 L1063.3 699.7 L1070.3 711.2 L1076.5 723.5 L1081.9 736.2 L1086.3 749.3 L1089.7 762.7 L1092.1 776.2 L1093.5 789.6 L1093.8 802.9 L1093 815.9 L1091.2 828.5 L1088.4 840.5 L1084.6 851.9 L1079.8 862.5 L1074.1 872.2 L1067.5 880.9 L1060.1 888.5 L1052 895 L1043.3 900.2 L1034.1 904.2 L1024.3 906.9 L1014.3 908.3 L1003.9 908.2 L993.4 906.9 L982.9 904.2 L972.4 900.2 L962.1 894.9" fill="none" stroke="#5c5c5c" stroke-width="1.4949999999999999" />
<path d="M927.6 657.7 L936.1 653 L945.2 649.6 L954.6 647.4 L964.3 646.5 L974.3 646.9 L984.3 648.6 L994.4 651.6 L1004.4 655.8 L1014.2 661.2 L1023.7 667.8 L1032.9 675.4 L1041.5 684.1 L1049.7 693.6 L1057.1 704 L1063.9 715.1 L1069.8 726.8 L1074.9 739 L1079.1 751.6 L1082.4 764.4 L1084.7 777.3 L1086 790.1 L1086.3 802.9 L1085.6 815.3 L1083.9 827.4 L1081.2 838.9 L1077.5 849.8 L1072.9 859.9 L1067.4 869.2 L1061.1 877.5 L1054.1 884.8 L1046.4 891 L1038 896.1 L1029.1 899.9 L1019.8 902.5 L1010.2 903.7 L1000.3 903.7 L990.2 902.4 L980.1 899.8 L970.1 896 L960.2 891" fill="none" stroke="#5c5c5c" stroke-width="1.38" />
<path d="M596.5 590 L596.5 555 C596.5 534 610 515 632 516.3 C650 517.8 680 531.3 705 540.5 L860 596.5 L992 649.8" fill="none" stroke="#5c5c5c" stroke-width="21.5" stroke-linejoin="round" stroke-linecap="round" stroke-linecap="butt"/><path d="M596.5 590 L596.5 555 C596.5 534 610 515 632 516.3 C650 517.8 680 531.3 705 540.5 L860 596.5 L992 649.8" fill="none" stroke="#d9d9d9" stroke-width="17.5" stroke-linejoin="round" stroke-linecap="round" stroke-linecap="butt"/><path d="M596.5 590 L596.5 555 C596.5 534 610 515 632 516.3 C650 517.8 680 531.3 705 540.5 L860 596.5 L992 649.8" fill="none" stroke="url(#belt)" stroke-width="17.5" stroke-linejoin="round" stroke-linecap="round" stroke-linecap="butt"/>
<path d="M594.5 590 L594.5 555 C594.5 533 609 513 632 514.6 C650 516 680 529.5 705 538.7 L860 594.7 L992 648" fill="none" stroke="#5c5c5c" stroke-width="1.7249999999999999" stroke-linejoin="round" stroke-linecap="round" />
<path d="M604 637.5 L641.5 662.4 L745.2 730.9 L873.9 816 L910 840" fill="none" stroke="#5c5c5c" stroke-width="23" stroke-linejoin="round" stroke-linecap="round" stroke-linecap="butt"/><path d="M604 637.5 L641.5 662.4 L745.2 730.9 L873.9 816 L910 840" fill="none" stroke="#d9d9d9" stroke-width="19" stroke-linejoin="round" stroke-linecap="round" stroke-linecap="butt"/><path d="M604 637.5 L641.5 662.4 L745.2 730.9 L873.9 816 L910 840" fill="none" stroke="url(#belt)" stroke-width="19" stroke-linejoin="round" stroke-linecap="round" stroke-linecap="butt"/>
<path d="M605 636 L642.5 660.9 L746.2 729.4 L874.9 814.5 L911 838.5" fill="none" stroke="#5c5c5c" stroke-width="1.7249999999999999" stroke-linejoin="round" stroke-linecap="round" />
<ellipse cx="983.8" cy="776" rx="126.9" ry="92.4" transform="rotate(70.99835999816027 983.8 776)" fill="#cfcfcf" stroke="#5c5c5c" stroke-width="2.1849999999999996" />
<clipPath id="c_13in"><path d="M1025.1 896 L1013.3 898.9 L1001 899.7 L988.5 898.4 L975.8 895 L963.3 889.5 L951.2 882.1 L939.6 872.9 L928.7 862.1 L918.8 849.7 L910 836.1 L902.5 821.5 L896.4 806.1 L891.7 790.2 L888.6 774 L887.2 757.9 L887.4 742.1 L889.3 726.8 L892.7 712.4 L897.8 699.1 L904.3 687.1 L912.1 676.7 L921.2 667.9 L931.4 661 L942.4 656 L954.2 653.1 L966.5 652.3 L979 653.6 L991.7 657 L1004.2 662.5 L1016.3 669.9 L1027.9 679.1 L1038.8 689.9 L1048.7 702.3 L1057.5 715.9 L1065 730.5 L1071.1 745.9 L1075.8 761.8 L1078.9 778 L1080.3 794.1 L1080.1 809.9 L1078.2 825.2 L1074.8 839.6 L1069.7 852.9 L1063.2 864.9 L1055.4 875.3 L1046.3 884.1 L1036.1 891 L1025.1 896Z"/></clipPath><g clip-path="url(#c_13in)"><ellipse cx="983.8" cy="776" rx="126.9" ry="92.4" transform="rotate(70.99835999816027 983.8 776)" fill="url(#hX)" stroke="none" stroke-width="1.6" /></g>
<ellipse cx="965" cy="770.5" rx="138.8" ry="99.9" transform="rotate(74.97651352160105 965 770.5)" fill="#e2e2e2" stroke="none" stroke-width="1.6" />
<clipPath id="c_13t"><path d="M1001 904.5 L988.1 906.8 L974.8 906.7 L961.3 904.2 L947.9 899.5 L934.8 892.6 L922.2 883.6 L910.3 872.6 L899.4 859.9 L889.6 845.7 L881.1 830.2 L874 813.7 L868.5 796.4 L864.6 778.7 L862.5 760.8 L862.1 743.1 L863.4 725.9 L866.5 709.5 L871.3 694.1 L877.7 679.9 L885.6 667.4 L894.8 656.6 L905.3 647.8 L916.7 641 L929 636.5 L941.9 634.2 L955.2 634.3 L968.7 636.8 L982.1 641.5 L995.2 648.4 L1007.8 657.4 L1019.7 668.4 L1030.6 681.1 L1040.4 695.3 L1048.9 710.8 L1056 727.3 L1061.5 744.6 L1065.4 762.3 L1067.5 780.2 L1067.9 797.9 L1066.6 815.1 L1063.5 831.5 L1058.7 846.9 L1052.3 861.1 L1044.4 873.6 L1035.2 884.4 L1024.7 893.2 L1013.3 900 L1001 904.5Z"/></clipPath><g clip-path="url(#c_13t)"><path d="M947.8 644.9 L955 645.1 L962.2 646.1 L969.4 647.7 L976.6 650.1 L983.8 653.2 L990.8 657 L997.7 661.4 L1004.4 666.5 L1010.8 672.1 L1017 678.4 L1022.9 685.2 L1028.5 692.4 L1033.7 700.2 L1038.4 708.3 L1042.8 716.8 L1046.7 725.6 L1050.1 734.7 L1053.1 744 L1055.5 753.4 L1057.4 763 L1058.7 772.6 L1059.5 782.1 L1059.8 791.6 L1059.5 801 L1058.6 810.2 L1057.2 819.2 L1055.3 827.9 L1052.8 836.2 L1049.9 844.2 L1046.4 851.7 L1042.4 858.8 L1038.1 865.4 L1033.2 871.4 L1028 876.8 L1022.4 881.6 L1016.5 885.7 L1010.3 889.2 L1003.8 892 L997.1 894.1 L990.2 895.4 L983.2 896 L976 895.9 L968.8 895.1 L961.6 893.5 L954.4 891.3 L947.2 888.3 L940.2 884.6 L933.3 880.3" fill="none" stroke="url(#hX)" stroke-width="24" stroke-linejoin="round" stroke-linecap="round" /><path d="M933.3 880.3 L928.5 876.8 L923.7 873 L919.2 868.9 L914.7 864.5 L910.4 859.8 L906.3 854.8 L902.3 849.6 L898.5 844.2 L894.9 838.6 L891.6 832.7 L888.4 826.7 L885.5 820.5 L882.8 814.1 L880.3 807.6 L878.1 801 L876.2 794.3 L874.5 787.6 L873.1 780.8 L872 773.9 L871.1 767.1 L870.6 760.2 L870.3 753.4 L870.3 746.7 L870.5 740 L871.1 733.4 L871.9 726.9 L873 720.6 L874.4 714.3 L876.1 708.3 L878 702.5 L880.1 696.8 L882.6 691.4 L885.2 686.2 L888.2 681.2 L891.3 676.5 L894.6 672.1 L898.2 668 L902 664.2 L905.9 660.7 L910.1 657.6 L914.3 654.7 L918.8 652.3 L923.4 650.1 L928.1 648.4 L932.9 646.9 L937.8 645.9 L942.8 645.2 L947.8 644.9" fill="none" stroke="url(#hB)" stroke-width="24" stroke-linejoin="round" stroke-linecap="round" /></g>
<path d="M996.9 902.6 L996.2 905.6 L993.8 906.1 L991.4 906.4 L988.9 906.7 L986.5 906.9 L984.7 904.2 L982.5 889.2 L985.2 889 L988 888.7 L990.7 888.3 L993.3 887.8Z" fill="#eeeeee" stroke="#5c5c5c" stroke-width="1.8399999999999999" stroke-linejoin="round" stroke-linecap="round" /><path d="M984.1 900.1 L987.1 899.9 L990.1 899.6 L993 899.2 L996 898.6" fill="none" stroke="#5c5c5c" stroke-width="1.265" stroke-linejoin="round" stroke-linecap="round" /><path d="M977.6 904.2 L976.5 906.8 L974 906.6 L971.4 906.3 L968.9 905.9 L966.4 905.4 L965 902.4 L965 887.6 L967.8 888.2 L970.6 888.6 L973.4 888.9 L976.2 889.2Z" fill="#eeeeee" stroke="#5c5c5c" stroke-width="1.8399999999999999" stroke-linejoin="round" stroke-linecap="round" /><path d="M965 898.4 L968.1 899 L971.1 899.5 L974.2 899.8 L977.2 900.1" fill="none" stroke="#5c5c5c" stroke-width="1.265" stroke-linejoin="round" stroke-linecap="round" /><path d="M957.9 900.5 L956.3 902.7 L953.8 901.9 L951.3 900.9 L948.8 899.9 L946.3 898.8 L945.3 895.6 L947.5 881.5 L950.3 882.8 L953.1 884 L955.9 885 L958.7 885.9Z" fill="#eeeeee" stroke="#5c5c5c" stroke-width="1.8399999999999999" stroke-linejoin="round" stroke-linecap="round" /><path d="M945.9 891.8 L948.9 893.1 L952 894.4 L955 895.5 L958.1 896.6" fill="none" stroke="#5c5c5c" stroke-width="1.265" stroke-linejoin="round" stroke-linecap="round" /><path d="M937.4 896.3 L935.4 897.9 L932.9 896.4 L930.5 894.8 L928 893.1 L925.6 891.3 L925 888 L930.7 871.2 L933.3 873.1 L936 875 L938.6 876.7 L941.3 878.3Z" fill="#eeeeee" stroke="#5c5c5c" stroke-width="1.8399999999999999" stroke-linejoin="round" stroke-linecap="round" /><path d="M927.5 880.5 L930.4 882.6 L933.3 884.6 L936.2 886.4 L939.2 888.2" fill="none" stroke="#5c5c5c" stroke-width="1.265" stroke-linejoin="round" stroke-linecap="round" /><path d="M929.3 875.2 L932 877.3 L934.8 879.2 L937.6 880.9 L940.4 882.6" fill="none" stroke="#8a8a8a" stroke-width="0.9" stroke-linejoin="round" stroke-linecap="round" /><path d="M918.3 882.5 L916 883.5 L913.7 881.4 L911.4 879.3 L909.2 877 L907 874.7 L906.9 871.4 L915.2 857 L917.6 859.5 L920 861.9 L922.4 864.3 L924.9 866.5Z" fill="#eeeeee" stroke="#5c5c5c" stroke-width="1.8399999999999999" stroke-linejoin="round" stroke-linecap="round" /><path d="M910.6 864.9 L913.2 867.7 L915.8 870.3 L918.5 872.9 L921.2 875.3" fill="none" stroke="#5c5c5c" stroke-width="1.265" stroke-linejoin="round" stroke-linecap="round" /><path d="M913.2 860.5 L915.7 863.1 L918.2 865.6 L920.7 868 L923.3 870.4" fill="none" stroke="#8a8a8a" stroke-width="0.9" stroke-linejoin="round" stroke-linecap="round" /><path d="M900.9 864.4 L898.5 864.8 L896.5 862.2 L894.5 859.6 L892.6 856.9 L890.7 854.1 L891.1 850.9 L901.6 839.4 L903.6 842.4 L905.7 845.4 L907.9 848.2 L910.1 851Z" fill="#eeeeee" stroke="#5c5c5c" stroke-width="1.8399999999999999" stroke-linejoin="round" stroke-linecap="round" /><path d="M895.8 845.8 L898 849.1 L900.3 852.3 L902.6 855.4 L905 858.4" fill="none" stroke="#5c5c5c" stroke-width="1.265" stroke-linejoin="round" stroke-linecap="round" /><path d="M899.1 842.2 L901.2 845.3 L903.3 848.4 L905.6 851.4 L907.9 854.3" fill="none" stroke="#8a8a8a" stroke-width="0.9" stroke-linejoin="round" stroke-linecap="round" /><path d="M886 842.8 L883.5 842.5 L881.8 839.5 L880.2 836.5 L878.7 833.4 L877.2 830.3 L878.1 827.4 L890.5 819.3 L892.1 822.6 L893.8 826 L895.5 829.2 L897.3 832.4Z" fill="#eeeeee" stroke="#5c5c5c" stroke-width="1.8399999999999999" stroke-linejoin="round" stroke-linecap="round" /><path d="M883.6 823.7 L885.4 827.4 L887.2 831.1 L889.1 834.6 L891.1 838.1" fill="none" stroke="#5c5c5c" stroke-width="1.265" stroke-linejoin="round" stroke-linecap="round" /><path d="M887.5 821.2 L889.1 824.7 L890.9 828.2 L892.7 831.6 L894.6 834.9" fill="none" stroke="#8a8a8a" stroke-width="0.9" stroke-linejoin="round" stroke-linecap="round" /><path d="M874.2 818.3 L871.7 817.4 L870.4 814.1 L869.3 810.8 L868.1 807.5 L867.1 804.2 L868.4 801.6 L882.2 797.2 L883.3 800.8 L884.5 804.4 L885.8 808 L887.2 811.5Z" fill="#eeeeee" stroke="#5c5c5c" stroke-width="1.8399999999999999" stroke-linejoin="round" stroke-linecap="round" /><path d="M874.6 799.6 L875.8 803.6 L877.1 807.5 L878.5 811.4 L880 815.3" fill="none" stroke="#5c5c5c" stroke-width="1.265" stroke-linejoin="round" stroke-linecap="round" /><path d="M878.9 798.3 L880 802 L881.3 805.8 L882.6 809.5 L884 813.1" fill="none" stroke="#8a8a8a" stroke-width="0.9" stroke-linejoin="round" stroke-linecap="round" /><path d="M865.8 792 L863.4 790.5 L862.6 787.1 L862 783.6 L861.3 780.2 L860.7 776.8 L862.5 774.7 L877.1 774.1 L877.7 777.8 L878.4 781.6 L879.1 785.3 L880 789Z" fill="#eeeeee" stroke="#5c5c5c" stroke-width="1.8399999999999999" stroke-linejoin="round" stroke-linecap="round" /><path d="M869 774.4 L869.7 778.5 L870.4 782.6 L871.2 786.6 L872.2 790.7" fill="none" stroke="#5c5c5c" stroke-width="1.265" stroke-linejoin="round" stroke-linecap="round" /><path d="M873.6 774.2 L874.2 778.1 L874.9 782 L875.7 785.9 L876.6 789.7" fill="none" stroke="#8a8a8a" stroke-width="0.9" stroke-linejoin="round" stroke-linecap="round" /><path d="M861.3 764.9 L859.1 762.8 L858.8 759.4 L858.6 756 L858.5 752.5 L858.4 749.1 L860.5 747.6 L875.4 750.9 L875.4 754.6 L875.6 758.3 L875.8 762 L876.1 765.7Z" fill="#eeeeee" stroke="#5c5c5c" stroke-width="1.8399999999999999" stroke-linejoin="round" stroke-linecap="round" /><path d="M867.2 749.1 L867.2 753.1 L867.3 757.1 L867.6 761.2 L867.9 765.3" fill="none" stroke="#5c5c5c" stroke-width="1.265" stroke-linejoin="round" stroke-linecap="round" /><path d="M871.8 750.1 L871.8 753.9 L872 757.8 L872.2 761.6 L872.5 765.5" fill="none" stroke="#8a8a8a" stroke-width="0.9" stroke-linejoin="round" stroke-linecap="round" /><path d="M860.7 738 L858.8 735.5 L859 732.1 L859.3 728.8 L859.7 725.5 L860.2 722.3 L862.5 721.4 L877.1 728.4 L876.6 731.9 L876.2 735.5 L875.9 739 L875.6 742.7Z" fill="#eeeeee" stroke="#5c5c5c" stroke-width="1.8399999999999999" stroke-linejoin="round" stroke-linecap="round" /><path d="M869 724.5 L868.5 728.4 L868 732.2 L867.7 736.1 L867.4 740.1" fill="none" stroke="#5c5c5c" stroke-width="1.265" stroke-linejoin="round" stroke-linecap="round" /><path d="M873.6 726.7 L873.1 730.4 L872.6 734.1 L872.3 737.8 L872 741.5" fill="none" stroke="#8a8a8a" stroke-width="0.9" stroke-linejoin="round" stroke-linecap="round" /><path d="M864.2 712.4 L862.6 709.4 L863.3 706.3 L864.1 703.3 L865 700.3 L866 697.3 L868.4 697.1 L882.2 707.6 L881.2 710.7 L880.2 714 L879.4 717.3 L878.6 720.7Z" fill="#eeeeee" stroke="#5c5c5c" stroke-width="1.8399999999999999" stroke-linejoin="round" stroke-linecap="round" /><path d="M874.6 701.8 L873.5 705.3 L872.4 708.8 L871.5 712.4 L870.6 716.1" fill="none" stroke="#5c5c5c" stroke-width="1.265" stroke-linejoin="round" stroke-linecap="round" /><path d="M878.9 705 L877.8 708.3 L876.8 711.7 L875.9 715.2 L875.1 718.7" fill="none" stroke="#8a8a8a" stroke-width="0.9" stroke-linejoin="round" stroke-linecap="round" /><path d="M871.5 688.9 L870.3 685.8 L871.5 683 L872.8 680.3 L874.2 677.7 L875.6 675.1 L878.1 675.6 L890.5 689.1 L889 691.9 L887.5 694.7 L886.1 697.6 L884.8 700.6Z" fill="#eeeeee" stroke="#5c5c5c" stroke-width="1.8399999999999999" stroke-linejoin="round" stroke-linecap="round" /><path d="M883.7 681.6 L882 684.6 L880.4 687.7 L878.9 690.9 L877.5 694.2" fill="none" stroke="#5c5c5c" stroke-width="1.265" stroke-linejoin="round" stroke-linecap="round" /><path d="M887.5 685.8 L885.9 688.7 L884.4 691.7 L883 694.7 L881.6 697.8" fill="none" stroke="#8a8a8a" stroke-width="0.9" stroke-linejoin="round" stroke-linecap="round" /><path d="M882.4 668.7 L881.7 665.3 L883.3 663.1 L885 660.8 L886.8 658.7 L888.6 656.6 L891.1 657.7 L901.6 673.8 L899.7 676 L897.8 678.3 L896 680.7 L894.2 683.2Z" fill="#eeeeee" stroke="#5c5c5c" stroke-width="1.8399999999999999" stroke-linejoin="round" stroke-linecap="round" /><path d="M895.8 664.9 L893.7 667.3 L891.6 669.9 L889.6 672.5 L887.7 675.2" fill="none" stroke="#5c5c5c" stroke-width="1.265" stroke-linejoin="round" stroke-linecap="round" /><path d="M899.1 669.9 L897.1 672.2 L895.1 674.6 L893.2 677.1 L891.4 679.7" fill="none" stroke="#8a8a8a" stroke-width="0.9" stroke-linejoin="round" stroke-linecap="round" /><path d="M896.5 652.3 L896.3 648.9 L898.3 647.2 L900.3 645.6 L902.4 644 L904.6 642.5 L906.9 644.2 L915.2 662.2 L912.9 663.8 L910.6 665.5 L908.4 667.3 L906.3 669.2Z" fill="#eeeeee" stroke="#5c5c5c" stroke-width="1.8399999999999999" stroke-linejoin="round" stroke-linecap="round" /><path d="M910.7 652.3 L908.1 654 L905.7 655.8 L903.2 657.8 L900.9 659.9" fill="none" stroke="#5c5c5c" stroke-width="1.265" stroke-linejoin="round" stroke-linecap="round" /><path d="M913.2 657.9 L910.8 659.5 L908.5 661.3 L906.2 663.1 L903.9 665.1" fill="none" stroke="#8a8a8a" stroke-width="0.9" stroke-linejoin="round" stroke-linecap="round" /><path d="M913.2 640.5 L913.5 637.2 L915.8 636.1 L918.1 635.1 L920.5 634.2 L922.9 633.3 L925 635.5 L930.7 654.8 L928.1 655.7 L925.6 656.7 L923.1 657.8 L920.6 659Z" fill="#eeeeee" stroke="#5c5c5c" stroke-width="1.8399999999999999" stroke-linejoin="round" stroke-linecap="round" /><path d="M927.6 644.1 L924.7 645.1 L922 646.2 L919.2 647.4 L916.5 648.8" fill="none" stroke="#5c5c5c" stroke-width="1.265" stroke-linejoin="round" stroke-linecap="round" /><path d="M929.3 650.1 L926.7 651.1 L924 652.1 L921.4 653.3 L918.8 654.6" fill="none" stroke="#8a8a8a" stroke-width="0.9" stroke-linejoin="round" stroke-linecap="round" /><path d="M931.9 633.6 L932.7 630.6 L935.2 630.2 L937.7 629.8 L940.2 629.6 L942.8 629.4 L944.6 632 L947.5 651.8 L944.8 652 L942 652.3 L939.3 652.7 L936.7 653.2Z" fill="#eeeeee" stroke="#5c5c5c" stroke-width="1.8399999999999999" stroke-linejoin="round" stroke-linecap="round" /><path d="M945.9 640.9 L942.9 641.1 L939.9 641.4 L937 641.8 L934 642.4" fill="none" stroke="#5c5c5c" stroke-width="1.265" stroke-linejoin="round" stroke-linecap="round" /><path d="M946.8 647 L944 647.2 L941.1 647.5 L938.3 647.9 L935.5 648.5" fill="none" stroke="#8a8a8a" stroke-width="0.9" stroke-linejoin="round" stroke-linecap="round" /><path d="M951.9 632.1 L953.1 629.4 L955.7 629.7 L958.3 630 L960.9 630.4 L963.5 630.9 L965 633.9 L965 653.4 L962.2 652.8 L959.4 652.4 L956.6 652.1 L953.8 651.8Z" fill="#eeeeee" stroke="#5c5c5c" stroke-width="1.8399999999999999" stroke-linejoin="round" stroke-linecap="round" /><path d="M965 642.6 L961.9 642 L958.9 641.5 L955.8 641.2 L952.8 640.9" fill="none" stroke="#5c5c5c" stroke-width="1.265" stroke-linejoin="round" stroke-linecap="round" /><path d="M965 648.7 L962.1 648.1 L959.2 647.6 L956.2 647.3 L953.3 647.1" fill="none" stroke="#8a8a8a" stroke-width="0.9" stroke-linejoin="round" stroke-linecap="round" /><path d="M972.4 635.8 L974 633.6 L976.6 634.5 L979.2 635.5 L981.8 636.6 L984.4 637.7 L985.4 640.9 L982.5 659.5 L979.7 658.2 L976.9 657 L974.1 656 L971.3 655.1Z" fill="#eeeeee" stroke="#5c5c5c" stroke-width="1.8399999999999999" stroke-linejoin="round" stroke-linecap="round" /><path d="M984.1 649.2 L981.1 647.9 L978 646.6 L975 645.5 L971.9 644.4" fill="none" stroke="#5c5c5c" stroke-width="1.265" stroke-linejoin="round" stroke-linecap="round" /><path d="M983.2 655 L980.3 653.7 L977.4 652.5 L974.5 651.4 L971.6 650.4" fill="none" stroke="#8a8a8a" stroke-width="0.9" stroke-linejoin="round" stroke-linecap="round" /><path d="M991.7 649.1 L993.6 647.4 L996 648.9 L998.4 650.4 L1000.8 652.1 L1003.1 653.8 L1003.6 657.1 L999.3 669.8 L996.7 667.9 L994 666 L991.4 664.3 L988.7 662.7Z" fill="#eeeeee" stroke="#5c5c5c" stroke-width="1.8399999999999999" stroke-linejoin="round" stroke-linecap="round" /><path d="M1002.5 660.5 L999.6 658.4 L996.7 656.4 L993.8 654.6 L990.8 652.8" fill="none" stroke="#5c5c5c" stroke-width="1.265" stroke-linejoin="round" stroke-linecap="round" /><path d="M1010.1 662.4 L1012.3 661.3 L1014.6 663.3 L1016.7 665.4 L1018.9 667.6 L1021 669.8 L1021.1 673.1 L1014.8 684 L1012.4 681.5 L1010 679.1 L1007.6 676.7 L1005.1 674.5Z" fill="#eeeeee" stroke="#5c5c5c" stroke-width="1.8399999999999999" stroke-linejoin="round" stroke-linecap="round" /><path d="M1019.4 676.1 L1016.8 673.3 L1014.2 670.7 L1011.5 668.1 L1008.8 665.7" fill="none" stroke="#5c5c5c" stroke-width="1.265" stroke-linejoin="round" stroke-linecap="round" /><path d="M1026.9 679.8 L1029.3 679.4 L1031.2 681.9 L1033.1 684.4 L1035 687 L1036.8 689.7 L1036.4 692.8 L1028.4 701.6 L1026.4 698.6 L1024.3 695.6 L1022.1 692.8 L1019.9 690Z" fill="#eeeeee" stroke="#5c5c5c" stroke-width="1.8399999999999999" stroke-linejoin="round" stroke-linecap="round" /><path d="M1034.2 695.2 L1032 691.9 L1029.7 688.7 L1027.4 685.6 L1025 682.6" fill="none" stroke="#5c5c5c" stroke-width="1.265" stroke-linejoin="round" stroke-linecap="round" /><path d="M1041.3 700.7 L1043.7 700.9 L1045.3 703.8 L1046.9 706.8 L1048.4 709.7 L1049.8 712.7 L1048.9 715.6 L1039.5 721.7 L1037.9 718.4 L1036.2 715 L1034.5 711.8 L1032.7 708.6Z" fill="#eeeeee" stroke="#5c5c5c" stroke-width="1.8399999999999999" stroke-linejoin="round" stroke-linecap="round" /><path d="M1046.4 717.3 L1044.6 713.6 L1042.8 709.9 L1040.9 706.4 L1038.9 702.9" fill="none" stroke="#5c5c5c" stroke-width="1.265" stroke-linejoin="round" stroke-linecap="round" /><path d="M1052.7 724.3 L1055.2 725.2 L1056.4 728.3 L1057.5 731.5 L1058.6 734.7 L1059.6 738 L1058.3 740.4 L1047.8 743.8 L1046.7 740.2 L1045.5 736.6 L1044.2 733 L1042.8 729.5Z" fill="#eeeeee" stroke="#5c5c5c" stroke-width="1.8399999999999999" stroke-linejoin="round" stroke-linecap="round" /><path d="M1055.4 741.4 L1054.2 737.4 L1052.9 733.5 L1051.5 729.6 L1050 725.7" fill="none" stroke="#5c5c5c" stroke-width="1.265" stroke-linejoin="round" stroke-linecap="round" /><path d="M1060.8 749.7 L1063.2 751.2 L1063.9 754.5 L1064.6 757.8 L1065.2 761.1 L1065.7 764.5 L1064 766.4 L1052.9 766.9 L1052.3 763.2 L1051.6 759.4 L1050.9 755.7 L1050 752Z" fill="#eeeeee" stroke="#5c5c5c" stroke-width="1.8399999999999999" stroke-linejoin="round" stroke-linecap="round" /><path d="M1061 766.6 L1060.3 762.5 L1059.6 758.4 L1058.8 754.4 L1057.8 750.3" fill="none" stroke="#5c5c5c" stroke-width="1.265" stroke-linejoin="round" stroke-linecap="round" /><path d="M1065.1 775.9 L1067.4 777.9 L1067.6 781.2 L1067.8 784.6 L1067.9 787.9 L1068 791.2 L1065.9 792.6 L1054.6 790.1 L1054.6 786.4 L1054.4 782.7 L1054.2 779 L1053.9 775.3Z" fill="#eeeeee" stroke="#5c5c5c" stroke-width="1.8399999999999999" stroke-linejoin="round" stroke-linecap="round" /><path d="M1062.8 791.9 L1062.8 787.9 L1062.7 783.9 L1062.4 779.8 L1062.1 775.7" fill="none" stroke="#5c5c5c" stroke-width="1.265" stroke-linejoin="round" stroke-linecap="round" /><path d="M1065.7 801.9 L1067.6 804.4 L1067.4 807.6 L1067.1 810.8 L1066.7 813.9 L1066.3 817.1 L1064 817.9 L1052.9 812.6 L1053.4 809.1 L1053.8 805.5 L1054.1 802 L1054.4 798.3Z" fill="#eeeeee" stroke="#5c5c5c" stroke-width="1.8399999999999999" stroke-linejoin="round" stroke-linecap="round" /><path d="M1061 816.5 L1061.5 812.6 L1062 808.8 L1062.3 804.9 L1062.6 800.9" fill="none" stroke="#5c5c5c" stroke-width="1.265" stroke-linejoin="round" stroke-linecap="round" /><path d="M1062.4 826.6 L1064 829.5 L1063.2 832.5 L1062.4 835.4 L1061.6 838.4 L1060.7 841.2 L1058.2 841.4 L1047.8 833.4 L1048.8 830.3 L1049.8 827 L1050.6 823.7 L1051.4 820.3Z" fill="#eeeeee" stroke="#5c5c5c" stroke-width="1.8399999999999999" stroke-linejoin="round" stroke-linecap="round" /><path d="M1055.4 839.2 L1056.5 835.7 L1057.6 832.2 L1058.5 828.6 L1059.4 824.9" fill="none" stroke="#5c5c5c" stroke-width="1.265" stroke-linejoin="round" stroke-linecap="round" /><path d="M1055.3 849.2 L1056.5 852.4 L1055.3 855 L1054.1 857.6 L1052.8 860.2 L1051.4 862.6 L1048.9 862.2 L1039.5 851.9 L1041 849.1 L1042.5 846.3 L1043.9 843.4 L1045.2 840.4Z" fill="#eeeeee" stroke="#5c5c5c" stroke-width="1.8399999999999999" stroke-linejoin="round" stroke-linecap="round" /><path d="M1046.3 859.4 L1048 856.4 L1049.6 853.3 L1051.1 850.1 L1052.5 846.8" fill="none" stroke="#5c5c5c" stroke-width="1.265" stroke-linejoin="round" stroke-linecap="round" /><path d="M1044.7 868.8 L1045.5 872.1 L1043.9 874.3 L1042.2 876.4 L1040.6 878.5 L1038.8 880.5 L1036.4 879.4 L1028.4 867.2 L1030.3 865 L1032.2 862.7 L1034 860.3 L1035.8 857.8Z" fill="#eeeeee" stroke="#5c5c5c" stroke-width="1.8399999999999999" stroke-linejoin="round" stroke-linecap="round" /><path d="M1034.2 876.1 L1036.3 873.7 L1038.4 871.1 L1040.4 868.5 L1042.3 865.8" fill="none" stroke="#5c5c5c" stroke-width="1.265" stroke-linejoin="round" stroke-linecap="round" /><path d="M1031.1 884.6 L1031.4 887.9 L1029.5 889.6 L1027.5 891.2 L1025.5 892.7 L1023.4 894.2 L1021.1 892.5 L1014.8 878.8 L1017.1 877.2 L1019.4 875.5 L1021.6 873.7 L1023.7 871.8Z" fill="#eeeeee" stroke="#5c5c5c" stroke-width="1.8399999999999999" stroke-linejoin="round" stroke-linecap="round" /><path d="M1019.3 888.7 L1021.9 887 L1024.3 885.2 L1026.8 883.2 L1029.1 881.1" fill="none" stroke="#5c5c5c" stroke-width="1.265" stroke-linejoin="round" stroke-linecap="round" /><path d="M1015 896.1 L1014.8 899.3 L1012.5 900.3 L1010.3 901.3 L1008 902.2 L1005.7 903.1 L1003.6 900.8 L999.3 886.2 L1001.9 885.3 L1004.4 884.3 L1006.9 883.2 L1009.4 882Z" fill="#eeeeee" stroke="#5c5c5c" stroke-width="1.8399999999999999" stroke-linejoin="round" stroke-linecap="round" /><path d="M1002.4 896.9 L1005.3 895.9 L1008 894.8 L1010.8 893.6 L1013.5 892.2" fill="none" stroke="#5c5c5c" stroke-width="1.265" stroke-linejoin="round" stroke-linecap="round" />
<clipPath id="c_13t2"><path d="M996.5 887.8 L985.2 889.7 L973.5 889.6 L961.8 887.5 L950 883.4 L938.6 877.3 L927.5 869.4 L917.2 859.9 L907.6 848.8 L899 836.3 L891.6 822.7 L885.4 808.3 L880.5 793.2 L877.2 777.7 L875.3 762 L874.9 746.6 L876.1 731.5 L878.8 717.1 L883 703.6 L888.6 691.3 L895.5 680.3 L903.6 670.8 L912.7 663.1 L922.8 657.2 L933.5 653.2 L944.8 651.3 L956.5 651.4 L968.2 653.5 L980 657.6 L991.4 663.7 L1002.5 671.6 L1012.8 681.1 L1022.4 692.2 L1031 704.7 L1038.4 718.3 L1044.6 732.7 L1049.5 747.8 L1052.8 763.3 L1054.7 779 L1055.1 794.4 L1053.9 809.5 L1051.2 823.9 L1047 837.4 L1041.4 849.7 L1034.5 860.7 L1026.4 870.2 L1017.3 877.9 L1007.2 883.8 L996.5 887.8Z"/></clipPath><g clip-path="url(#c_13t2)"><path d="M964.4 662.7 L970.2 664.2 L976 666.2 L981.8 668.7 L987.5 671.8 L993 675.3 L998.4 679.4 L1003.7 683.9 L1008.7 688.8 L1013.6 694.1 L1018.2 699.8 L1022.5 705.9 L1026.5 712.3 L1030.3 719 L1033.7 726 L1036.7 733.1 L1039.4 740.5 L1041.7 748 L1043.7 755.7 L1045.2 763.4 L1046.3 771.1 L1047.1 778.8 L1047.4 786.5 L1047.3 794.1 L1046.8 801.6 L1045.9 809 L1044.5 816.1 L1042.8 823 L1040.7 829.7 L1038.2 836 L1035.3 842 L1032.1 847.7 L1028.5 853 L1024.6 857.9 L1020.5 862.3 L1016 866.2 L1011.3 869.7 L1006.4 872.7 L1001.2 875.2 L995.9 877.1 L990.4 878.5 L984.8 879.4 L979 879.7 L973.3 879.5 L967.4 878.7 L961.6 877.4 L955.8 875.5 L950 873.1 L944.3 870.2" fill="none" stroke="#d2d2d2" stroke-width="22" stroke-linejoin="round" stroke-linecap="round" /><path d="M964.4 662.7 L970.2 664.2 L976 666.2 L981.8 668.7 L987.5 671.8 L993 675.3 L998.4 679.4 L1003.7 683.9 L1008.7 688.8 L1013.6 694.1 L1018.2 699.8 L1022.5 705.9 L1026.5 712.3 L1030.3 719 L1033.7 726 L1036.7 733.1 L1039.4 740.5 L1041.7 748 L1043.7 755.7 L1045.2 763.4 L1046.3 771.1 L1047.1 778.8 L1047.4 786.5 L1047.3 794.1 L1046.8 801.6 L1045.9 809 L1044.5 816.1 L1042.8 823 L1040.7 829.7 L1038.2 836 L1035.3 842 L1032.1 847.7 L1028.5 853 L1024.6 857.9 L1020.5 862.3 L1016 866.2 L1011.3 869.7 L1006.4 872.7 L1001.2 875.2 L995.9 877.1 L990.4 878.5 L984.8 879.4 L979 879.7 L973.3 879.5 L967.4 878.7 L961.6 877.4 L955.8 875.5 L950 873.1 L944.3 870.2" fill="none" stroke="url(#hA)" stroke-width="22" stroke-linejoin="round" stroke-linecap="round" /><path d="M1046.3 806.2 L1046 808 L1045.7 809.9 L1045.4 811.7 L1045 813.6 L1044.7 815.4 L1044.3 817.2 L1043.9 819 L1043.4 820.7 L1042.9 822.5 L1042.4 824.2 L1041.9 826 L1041.4 827.7 L1040.8 829.3 L1040.2 831 L1039.6 832.6 L1038.9 834.3 L1038.2 835.9 L1037.5 837.4 L1036.8 839 L1036.1 840.5 L1035.3 842 L1034.5 843.5 L1033.7 845 L1032.9 846.4 L1032 847.9 L1031.1 849.2 L1030.2 850.6 L1029.3 851.9 L1028.3 853.2 L1027.4 854.5 L1026.4 855.8 L1025.4 857 L1024.3 858.2 L1023.3 859.4 L1022.2 860.5 L1021.1 861.6 L1020 862.7 L1018.9 863.8 L1017.8 864.8 L1016.6 865.8 L1015.4 866.7 L1014.2 867.6 L1013 868.5 L1011.8 869.4 L1010.6 870.2 L1009.3 871 L1008 871.8 L1006.7 872.5" fill="none" stroke="url(#hX)" stroke-width="22" stroke-linejoin="round" stroke-linecap="round" /><path d="M984.2 678.3 L990.5 663.8" fill="none" stroke="#ededed" stroke-width="3.2" stroke-linejoin="round" stroke-linecap="round" /><path d="M999.1 688.8 L1007.8 677" fill="none" stroke="#ededed" stroke-width="3.2" stroke-linejoin="round" stroke-linecap="round" /><path d="M1012.5 703 L1023.3 694.3" fill="none" stroke="#ededed" stroke-width="3.2" stroke-linejoin="round" stroke-linecap="round" /><path d="M1023.9 720.1 L1036.2 714.9" fill="none" stroke="#ededed" stroke-width="3.2" stroke-linejoin="round" stroke-linecap="round" /><path d="M1032.6 739.4 L1045.9 737.9" fill="none" stroke="#ededed" stroke-width="3.2" stroke-linejoin="round" stroke-linecap="round" /><path d="M1038.5 760 L1052.2 762.3" fill="none" stroke="#ededed" stroke-width="3.2" stroke-linejoin="round" stroke-linecap="round" /><path d="M1041.1 781.2 L1054.6 787.2" fill="none" stroke="#ededed" stroke-width="3.2" stroke-linejoin="round" stroke-linecap="round" /><path d="M1040.4 801.8 L1053.1 811.2" fill="none" stroke="#ededed" stroke-width="3.2" stroke-linejoin="round" stroke-linecap="round" /><path d="M1036.4 821.1 L1047.8 833.5" fill="none" stroke="#ededed" stroke-width="3.2" stroke-linejoin="round" stroke-linecap="round" /><path d="M1029.2 838.2 L1038.8 853.1" fill="none" stroke="#ededed" stroke-width="3.2" stroke-linejoin="round" stroke-linecap="round" /><path d="M1019.3 852.3 L1026.6 869" fill="none" stroke="#ededed" stroke-width="3.2" stroke-linejoin="round" stroke-linecap="round" /><path d="M1007 862.8 L1011.7 880.7" fill="none" stroke="#ededed" stroke-width="3.2" stroke-linejoin="round" stroke-linecap="round" /><path d="M992.9 869.3 L994.8 887.5" fill="none" stroke="#ededed" stroke-width="3.2" stroke-linejoin="round" stroke-linecap="round" /><path d="M977.5 871.5 L976.6 889.2" fill="none" stroke="#ededed" stroke-width="3.2" stroke-linejoin="round" stroke-linecap="round" /><path d="M961.6 869.3 L957.9 885.7" fill="none" stroke="#ededed" stroke-width="3.2" stroke-linejoin="round" stroke-linecap="round" /></g>
<ellipse cx="965.4" cy="776" rx="106.6" ry="70.8" transform="rotate(64.612530150351 965.4 776)" fill="#dcdcdc" stroke="#5c5c5c" stroke-width="1.7249999999999999" />
<ellipse cx="962.4" cy="777" rx="106.6" ry="70.8" transform="rotate(64.612530150351 962.4 777)" fill="#f3f3f3" stroke="#5c5c5c" stroke-width="2.53" />
<clipPath id="c_13c"><path d="M1008.1 873.3 L999.3 876.5 L989.9 877.9 L980.1 877.6 L969.9 875.6 L959.7 871.9 L949.4 866.6 L939.4 859.7 L929.8 851.5 L920.7 841.9 L912.4 831.3 L904.9 819.7 L898.3 807.4 L892.9 794.5 L888.7 781.4 L885.7 768.2 L884.1 755.1 L883.7 742.5 L884.8 730.4 L887.1 719.1 L890.8 708.8 L895.6 699.6 L901.6 691.8 L908.7 685.5 L916.6 680.7 L925.4 677.5 L934.8 676.1 L944.6 676.4 L954.8 678.4 L965 682.1 L975.3 687.4 L985.3 694.3 L994.9 702.5 L1004 712.1 L1012.3 722.7 L1019.8 734.3 L1026.4 746.6 L1031.8 759.5 L1036 772.6 L1039 785.8 L1040.6 798.9 L1041 811.5 L1039.9 823.6 L1037.6 834.9 L1033.9 845.2 L1029.1 854.4 L1023.1 862.2 L1016 868.5 L1008.1 873.3Z"/></clipPath><g clip-path="url(#c_13c)"><path d="M1019.1 766.5 L1020.3 770.2 L1021.4 774.1 L1022.4 777.9 L1023.2 781.7 L1023.9 785.5 L1024.4 789.3 L1024.9 793 L1025.1 796.8 L1025.3 800.5 L1025.2 804.1 L1025.1 807.6 L1024.8 811.1 L1024.4 814.6 L1023.8 817.9 L1023.1 821.2 L1022.3 824.3 L1021.3 827.3 L1020.2 830.3 L1018.9 833.1 L1017.6 835.8 L1016.1 838.3 L1014.5 840.7 L1012.8 843 L1010.9 845.1 L1009 847.1 L1006.9 848.9 L1004.8 850.6 L1002.5 852.1 L1000.2 853.4 L997.8 854.6 L995.3 855.6 L992.7 856.4 L990.1 857 L987.4 857.4 L984.6 857.7 L981.8 857.8 L979 857.7 L976.1 857.4 L973.2 857 L970.2 856.4 L967.3 855.6 L964.3 854.6 L961.3 853.4 L958.4 852.1 L955.4 850.6 L952.5 848.9 L949.5 847.1 L946.6 845.1" fill="none" stroke="url(#hA)" stroke-width="22" stroke-linejoin="round" stroke-linecap="round" /><path d="M898.7 773.3 L897.9 769.3 L897.3 765.3 L896.8 761.4 L896.5 757.4 L896.3 753.6 L896.3 749.7 L896.4 746 L896.7 742.3 L897.1 738.6 L897.6 735.1 L898.3 731.7 L899.2 728.3 L900.1 725.1 L901.3 722 L902.5 719 L903.9 716.1 L905.4 713.4 L907.1 710.8 L908.8 708.4 L910.7 706.1 L912.7 704 L914.9 702 L917.1 700.2 L919.4 698.6 L921.8 697.2 L924.3 695.9 L926.9 694.8 L929.6 693.9 L932.4 693.2 L935.2 692.7 L938.1 692.3 L941 692.2 L944 692.2 L947 692.4 L950 692.8 L953.1 693.4 L956.2 694.2 L959.3 695.2 L962.5 696.4 L965.6 697.7 L968.7 699.2 L971.8 700.9 L974.9 702.8 L977.9 704.8 L980.9 707 L983.9 709.3 L986.8 711.8 L989.7 714.4" fill="none" stroke="url(#hB)" stroke-width="22" stroke-linejoin="round" stroke-linecap="round" /><path d="M972.2 734.4 L973.5 735.4 L974.9 736.5 L976.3 737.6 L977.6 738.8 L978.9 740 L980.2 741.3 L981.4 742.6 L982.7 744 L983.9 745.4 L985.1 746.8 L986.2 748.3 L987.3 749.9 L988.4 751.4 L989.5 753 L990.5 754.7 L991.5 756.3 L992.4 758 L993.3 759.7 L994.2 761.5 L995 763.2 L995.8 765 L996.5 766.8 L997.2 768.6 L997.8 770.4 L998.4 772.2 L999 774.1 L999.5 775.9 L999.9 777.7 L1000.3 779.6 L1000.7 781.4 L1001 783.2 L1001.2 785 L1001.4 786.9 L1001.5 788.6 L1001.6 790.4 L1001.7 792.2 L1001.7 793.9 L1001.6 795.6 L1001.5 797.3 L1001.3 799 L1001.1 800.6 L1000.8 802.2 L1000.5 803.8 L1000.1 805.4 L999.7 806.9 L999.2 808.3 L998.7 809.7 L998.1 811.1" fill="none" stroke="url(#hB)" stroke-width="30" stroke-linejoin="round" stroke-linecap="round" /></g>
<path d="M966.5 820.3 L987.2 867.8 L972.5 818.1Z" fill="#8e8e8e" stroke="#5c5c5c" stroke-width="1.4949999999999999" stroke-linejoin="round" stroke-linecap="round" /><path d="M966.5 820.3 L987.2 867.8" fill="none" stroke="#f5f5f5" stroke-width="1.2" stroke-linejoin="round" stroke-linecap="round" /><path d="M935.1 795 L911 816.1 L938.8 800.2Z" fill="#8e8e8e" stroke="#5c5c5c" stroke-width="1.4949999999999999" stroke-linejoin="round" stroke-linecap="round" /><path d="M935.1 795 L911 816.1" fill="none" stroke="#f5f5f5" stroke-width="1.2" stroke-linejoin="round" stroke-linecap="round" /><path d="M932.3 752.6 L893.8 728.2 L928.5 757.8Z" fill="#8e8e8e" stroke="#5c5c5c" stroke-width="1.4949999999999999" stroke-linejoin="round" stroke-linecap="round" /><path d="M932.3 752.6 L893.8 728.2" fill="none" stroke="#f5f5f5" stroke-width="1.2" stroke-linejoin="round" stroke-linecap="round" /><path d="M956 735.7 L934.1 686.5 L950 738Z" fill="#8e8e8e" stroke="#5c5c5c" stroke-width="1.4949999999999999" stroke-linejoin="round" stroke-linecap="round" /><path d="M956 735.7 L934.1 686.5" fill="none" stroke="#f5f5f5" stroke-width="1.2" stroke-linejoin="round" stroke-linecap="round" /><path d="M984.5 755.3 L1002.4 721.7 L979.1 751.8Z" fill="#8e8e8e" stroke="#5c5c5c" stroke-width="1.4949999999999999" stroke-linejoin="round" stroke-linecap="round" /><path d="M984.5 755.3 L1002.4 721.7" fill="none" stroke="#f5f5f5" stroke-width="1.2" stroke-linejoin="round" stroke-linecap="round" /><path d="M990 802.1 L1030.2 828.5 L993.9 797Z" fill="#8e8e8e" stroke="#5c5c5c" stroke-width="1.4949999999999999" stroke-linejoin="round" stroke-linecap="round" /><path d="M990 802.1 L1030.2 828.5" fill="none" stroke="#f5f5f5" stroke-width="1.2" stroke-linejoin="round" stroke-linecap="round" />
<ellipse cx="961" cy="778" rx="45" ry="32" transform="rotate(67.5 961 778)" fill="#f7f7f7" stroke="#5c5c5c" stroke-width="1.7249999999999999" />
<clipPath id="c_13d"><path d="M978.2 819.6 L974.2 820.8 L970 821.3 L965.6 821.1 L961.1 820.1 L956.7 818.4 L952.3 816.1 L948 813 L944 809.4 L940.3 805.2 L936.9 800.6 L933.9 795.6 L931.4 790.2 L929.4 784.7 L928 779.1 L927.1 773.4 L926.8 767.8 L927.1 762.4 L927.9 757.3 L929.3 752.5 L931.3 748.1 L933.8 744.3 L936.7 741 L940.1 738.4 L943.8 736.4 L947.8 735.2 L952 734.7 L956.4 734.9 L960.9 735.9 L965.3 737.6 L969.7 739.9 L974 743 L978 746.6 L981.7 750.8 L985.1 755.4 L988.1 760.4 L990.6 765.8 L992.6 771.3 L994 776.9 L994.9 782.6 L995.2 788.2 L994.9 793.6 L994.1 798.7 L992.7 803.5 L990.7 807.9 L988.2 811.7 L985.3 815 L981.9 817.6 L978.2 819.6Z"/></clipPath><g clip-path="url(#c_13d)"><path d="M985.8 781.4 L985.9 782.1 L986 782.8 L986.1 783.5 L986.1 784.2 L986.1 784.9 L986.1 785.5 L986.1 786.2 L986 786.9 L986 787.6 L985.9 788.2 L985.8 788.9 L985.7 789.5 L985.6 790.2 L985.4 790.8 L985.3 791.4 L985.1 792 L984.9 792.6 L984.7 793.1 L984.5 793.7 L984.2 794.2 L983.9 794.8 L983.7 795.3 L983.4 795.8 L983.1 796.3 L982.7 796.7 L982.4 797.2 L982 797.6 L981.7 798 L981.3 798.4 L980.9 798.7 L980.5 799.1 L980 799.4 L979.6 799.7 L979.2 800 L978.7 800.3 L978.2 800.5 L977.8 800.7 L977.3 800.9 L976.8 801.1 L976.3 801.2 L975.8 801.4 L975.3 801.5 L974.7 801.6 L974.2 801.6 L973.7 801.7 L973.1 801.7 L972.6 801.7 L972 801.6" fill="none" stroke="#b0b0b0" stroke-width="15" stroke-linejoin="round" stroke-linecap="round" /><path d="M985.8 781.4 L985.9 782.1 L986 782.8 L986.1 783.5 L986.1 784.2 L986.1 784.9 L986.1 785.5 L986.1 786.2 L986 786.9 L986 787.6 L985.9 788.2 L985.8 788.9 L985.7 789.5 L985.6 790.2 L985.4 790.8 L985.3 791.4 L985.1 792 L984.9 792.6 L984.7 793.1 L984.5 793.7 L984.2 794.2 L983.9 794.8 L983.7 795.3 L983.4 795.8 L983.1 796.3 L982.7 796.7 L982.4 797.2 L982 797.6 L981.7 798 L981.3 798.4 L980.9 798.7 L980.5 799.1 L980 799.4 L979.6 799.7 L979.2 800 L978.7 800.3 L978.2 800.5 L977.8 800.7 L977.3 800.9 L976.8 801.1 L976.3 801.2 L975.8 801.4 L975.3 801.5 L974.7 801.6 L974.2 801.6 L973.7 801.7 L973.1 801.7 L972.6 801.7 L972 801.6" fill="none" stroke="url(#hX)" stroke-width="15" stroke-linejoin="round" stroke-linecap="round" /><path d="M949.1 800 L948.1 798.9 L947.1 797.7 L946.1 796.5 L945.1 795.3 L944.3 794 L943.4 792.7 L942.6 791.3 L941.8 789.9 L941.1 788.5 L940.5 787 L939.9 785.5 L939.3 784 L938.8 782.5 L938.4 780.9 L938 779.4 L937.7 777.9 L937.5 776.3 L937.3 774.8 L937.1 773.3 L937.1 771.7 L937.1 770.2 L937.1 768.7 L937.2 767.3 L937.4 765.9 L937.6 764.5 L937.9 763.1 L938.3 761.8 L938.7 760.5 L939.2 759.3 L939.7 758.1 L940.3 756.9 L940.9 755.8 L941.6 754.8 L942.4 753.8 L943.2 752.9 L944 752.1 L944.9 751.3 L945.8 750.6 L946.8 750 L947.8 749.4 L948.8 749 L949.9 748.6 L951 748.2 L952.1 748 L953.2 747.8 L954.4 747.7 L955.6 747.7 L956.8 747.7" fill="none" stroke="url(#hB)" stroke-width="16" stroke-linejoin="round" stroke-linecap="round" /></g>
<path d="M924 681 L923 670 Q925 661 934 662 Q943 664 943 672 L944 679Z" fill="#f2f2f2" stroke="#5c5c5c" stroke-width="1.9549999999999998" stroke-linejoin="round" stroke-linecap="round" />
<ellipse cx="933" cy="671" rx="4.6" ry="3.6" transform="rotate(67.5 933 671)" fill="#f8f8f8" stroke="#5c5c5c" stroke-width="1.7249999999999999" />
<path d="M1001.7 717 L1000.7 706 Q1002.7 697 1011.7 698 Q1020.7 700 1020.7 708 L1021.7 715Z" fill="#f2f2f2" stroke="#5c5c5c" stroke-width="1.9549999999999998" stroke-linejoin="round" stroke-linecap="round" />
<ellipse cx="1010.7" cy="707" rx="4.6" ry="3.6" transform="rotate(67.5 1010.7 707)" fill="#f8f8f8" stroke="#5c5c5c" stroke-width="1.7249999999999999" />
<path d="M1038 828.6 L1037 817.6 Q1039 808.6 1048 809.6 Q1057 811.6 1057 819.6 L1058 826.6Z" fill="#f2f2f2" stroke="#5c5c5c" stroke-width="1.9549999999999998" stroke-linejoin="round" stroke-linecap="round" />
<ellipse cx="1047" cy="818.6" rx="4.6" ry="3.6" transform="rotate(67.5 1047 818.6)" fill="#f8f8f8" stroke="#5c5c5c" stroke-width="1.7249999999999999" />
<path d="M996.6 887 L995.6 876 Q997.6 867 1006.6 868 Q1015.6 870 1015.6 878 L1016.6 885Z" fill="#f2f2f2" stroke="#5c5c5c" stroke-width="1.9549999999999998" stroke-linejoin="round" stroke-linecap="round" />
<ellipse cx="1005.6" cy="877" rx="4.6" ry="3.6" transform="rotate(67.5 1005.6 877)" fill="#f8f8f8" stroke="#5c5c5c" stroke-width="1.7249999999999999" />
<ellipse cx="598.6" cy="614.3" rx="65" ry="32.5" transform="rotate(68.38487528642966 598.6 614.3)" fill="url(#hD)" stroke="#5c5c5c" stroke-width="1.8399999999999999" />
<ellipse cx="594.4" cy="616" rx="65" ry="32.5" transform="rotate(68.38487528642966 594.4 616)" fill="#f0f0f0" stroke="#5c5c5c" stroke-width="2.1849999999999996" />
<clipPath id="c_r2c"><path d="M618.3 676.4 L614.1 677.4 L609.6 677.4 L604.9 676.4 L599.9 674.3 L594.9 671.2 L589.9 667.2 L584.9 662.3 L580.1 656.6 L575.6 650.2 L571.3 643.2 L567.5 635.8 L564.1 628 L561.2 620 L558.9 611.9 L557.3 604 L556.2 596.2 L555.8 588.7 L556 581.8 L557 575.4 L558.5 569.7 L560.7 564.8 L563.4 560.8 L566.7 557.7 L570.4 555.6 L574.6 554.6 L579.1 554.6 L583.8 555.6 L588.8 557.7 L593.8 560.8 L598.8 564.8 L603.8 569.7 L608.6 575.4 L613.1 581.8 L617.4 588.8 L621.2 596.2 L624.6 604 L627.5 612 L629.8 620.1 L631.4 628 L632.5 635.8 L632.9 643.3 L632.7 650.2 L631.7 656.6 L630.2 662.3 L628 667.2 L625.3 671.2 L622 674.3 L618.3 676.4Z"/></clipPath><g clip-path="url(#c_r2c)"><path d="M627.5 641.5 L627.5 643 L627.4 644.5 L627.2 645.9 L627.1 647.3 L626.9 648.7 L626.7 650 L626.4 651.4 L626.1 652.6 L625.8 653.9 L625.4 655.1 L625 656.2 L624.6 657.3 L624.2 658.4 L623.7 659.4 L623.1 660.4 L622.6 661.3 L622 662.1 L621.4 663 L620.7 663.7 L620.1 664.5 L619.4 665.1 L618.6 665.8 L617.9 666.3 L617.1 666.8 L616.3 667.3 L615.5 667.7 L614.6 668 L613.8 668.3 L612.9 668.6 L612 668.7 L611 668.9 L610.1 668.9 L609.1 668.9 L608.2 668.9 L607.2 668.8 L606.2 668.6 L605.1 668.4 L604.1 668.1 L603.1 667.8 L602 667.4 L600.9 667 L599.9 666.5 L598.8 665.9 L597.7 665.3 L596.6 664.7 L595.6 664 L594.5 663.2 L593.4 662.4" fill="none" stroke="url(#hA)" stroke-width="14" stroke-linejoin="round" stroke-linecap="round" /></g>
<ellipse cx="573.6" cy="624.8" rx="65" ry="32.5" transform="rotate(68.38487528642966 573.6 624.8)" fill="url(#hD)" stroke="#5c5c5c" stroke-width="1.8399999999999999" />
<ellipse cx="569.4" cy="626.5" rx="65" ry="32.5" transform="rotate(68.38487528642966 569.4 626.5)" fill="#f0f0f0" stroke="#5c5c5c" stroke-width="2.1849999999999996" />
<clipPath id="c_r2b"><path d="M593.3 686.9 L589.1 687.9 L584.6 687.9 L579.9 686.9 L574.9 684.8 L569.9 681.7 L564.9 677.7 L559.9 672.8 L555.1 667.1 L550.6 660.7 L546.3 653.7 L542.5 646.3 L539.1 638.5 L536.2 630.5 L533.9 622.4 L532.3 614.5 L531.2 606.7 L530.8 599.2 L531 592.3 L532 585.9 L533.5 580.2 L535.7 575.3 L538.4 571.3 L541.7 568.2 L545.4 566.1 L549.6 565.1 L554.1 565.1 L558.8 566.1 L563.8 568.2 L568.8 571.3 L573.8 575.3 L578.8 580.2 L583.6 585.9 L588.1 592.3 L592.4 599.3 L596.2 606.7 L599.6 614.5 L602.5 622.5 L604.8 630.6 L606.4 638.5 L607.5 646.3 L607.9 653.8 L607.7 660.7 L606.7 667.1 L605.2 672.8 L603 677.7 L600.3 681.7 L597 684.8 L593.3 686.9Z"/></clipPath><g clip-path="url(#c_r2b)"><path d="M602.5 652 L602.5 653.5 L602.4 655 L602.2 656.4 L602.1 657.8 L601.9 659.2 L601.7 660.5 L601.4 661.9 L601.1 663.1 L600.8 664.4 L600.4 665.6 L600 666.7 L599.6 667.8 L599.2 668.9 L598.7 669.9 L598.1 670.9 L597.6 671.8 L597 672.6 L596.4 673.5 L595.7 674.2 L595.1 675 L594.4 675.6 L593.6 676.3 L592.9 676.8 L592.1 677.3 L591.3 677.8 L590.5 678.2 L589.6 678.5 L588.8 678.8 L587.9 679.1 L587 679.2 L586 679.4 L585.1 679.4 L584.1 679.4 L583.2 679.4 L582.2 679.3 L581.2 679.1 L580.1 678.9 L579.1 678.6 L578.1 678.3 L577 677.9 L575.9 677.5 L574.9 677 L573.8 676.4 L572.7 675.8 L571.6 675.2 L570.6 674.5 L569.5 673.7 L568.4 672.9" fill="none" stroke="url(#hA)" stroke-width="14" stroke-linejoin="round" stroke-linecap="round" /></g>
<ellipse cx="552.1" cy="633.8" rx="65.9" ry="33" transform="rotate(68.38487528642966 552.1 633.8)" fill="url(#hD)" stroke="#5c5c5c" stroke-width="1.8399999999999999" />
<ellipse cx="547.9" cy="635.5" rx="65.9" ry="33" transform="rotate(68.38487528642966 547.9 635.5)" fill="#f0f0f0" stroke="#5c5c5c" stroke-width="2.1849999999999996" />
<clipPath id="c_r2a"><path d="M572.1 696.8 L567.9 697.9 L563.4 697.9 L558.5 696.8 L553.5 694.7 L548.4 691.5 L543.3 687.5 L538.3 682.5 L533.4 676.7 L528.8 670.2 L524.5 663.1 L520.6 655.6 L517.1 647.7 L514.2 639.6 L511.9 631.4 L510.2 623.3 L509.1 615.4 L508.7 607.8 L509 600.8 L509.9 594.3 L511.5 588.5 L513.7 583.5 L516.4 579.4 L519.8 576.3 L523.6 574.2 L527.8 573.1 L532.3 573.1 L537.2 574.2 L542.2 576.3 L547.3 579.5 L552.4 583.5 L557.4 588.5 L562.3 594.3 L566.9 600.8 L571.2 607.9 L575.1 615.4 L578.6 623.3 L581.5 631.4 L583.8 639.6 L585.5 647.7 L586.6 655.6 L587 663.2 L586.7 670.2 L585.8 676.7 L584.2 682.5 L582 687.5 L579.3 691.6 L575.9 694.7 L572.1 696.8Z"/></clipPath><g clip-path="url(#c_r2a)"><path d="M581.5 661.4 L581.5 662.9 L581.4 664.4 L581.2 665.9 L581.1 667.3 L580.9 668.7 L580.7 670.1 L580.4 671.4 L580.1 672.7 L579.8 673.9 L579.4 675.1 L579 676.3 L578.6 677.4 L578.1 678.5 L577.6 679.5 L577.1 680.5 L576.5 681.5 L575.9 682.4 L575.3 683.2 L574.6 684 L574 684.7 L573.3 685.4 L572.5 686 L571.8 686.6 L571 687.1 L570.1 687.6 L569.3 688 L568.5 688.3 L567.6 688.6 L566.7 688.9 L565.7 689 L564.8 689.2 L563.8 689.2 L562.9 689.2 L561.9 689.2 L560.9 689.1 L559.8 688.9 L558.8 688.7 L557.7 688.4 L556.7 688.1 L555.6 687.7 L554.5 687.3 L553.5 686.8 L552.4 686.2 L551.3 685.6 L550.2 684.9 L549.1 684.2 L548 683.4 L546.9 682.6" fill="none" stroke="url(#hA)" stroke-width="14" stroke-linejoin="round" stroke-linecap="round" /></g>
<ellipse cx="549.3" cy="632" rx="39" ry="17" transform="rotate(64.59479804627053 549.3 632)" fill="#fff" stroke="#5c5c5c" stroke-width="2.07" />
<clipPath id="c_r2h"><path d="M566 667.3 L563.9 667.9 L561.5 667.9 L558.9 667.4 L556.1 666.2 L553.3 664.4 L550.3 662.1 L547.3 659.2 L544.4 655.9 L541.5 652.2 L538.8 648.2 L536.3 643.8 L534 639.3 L531.9 634.6 L530.2 629.9 L528.7 625.2 L527.7 620.7 L526.9 616.3 L526.6 612.2 L526.7 608.5 L527.1 605.1 L528 602.2 L529.2 599.8 L530.7 598 L532.6 596.7 L534.7 596.1 L537.1 596.1 L539.7 596.6 L542.5 597.8 L545.3 599.6 L548.3 601.9 L551.3 604.8 L554.2 608.1 L557.1 611.8 L559.8 615.8 L562.3 620.2 L564.6 624.7 L566.7 629.4 L568.4 634.1 L569.9 638.8 L570.9 643.3 L571.7 647.7 L572 651.8 L571.9 655.5 L571.5 658.9 L570.6 661.8 L569.4 664.2 L567.9 666 L566 667.3Z"/></clipPath><g clip-path="url(#c_r2h)"><ellipse cx="555.3" cy="629.5" rx="39" ry="17" transform="rotate(64.59479804627053 555.3 629.5)" fill="#fff" stroke="#5c5c5c" stroke-width="1.4949999999999999" /><path d="M559.8 667.6 L558.5 667.2 L557.2 666.7 L555.9 666 L554.5 665.3 L553.2 664.3 L551.8 663.3 L550.4 662.1 L549 660.9 L547.6 659.5 L546.2 658 L544.8 656.4 L543.4 654.7 L542.1 653 L540.8 651.1 L539.5 649.2 L538.2 647.2 L537 645.2 L535.9 643.1 L534.8 640.9 L533.7 638.8 L532.7 636.6 L531.8 634.4 L531 632.1 L530.2 629.9 L529.4 627.7 L528.8 625.5 L528.2 623.3 L527.8 621.2 L527.4 619.1 L527 617 L526.8 615 L526.7 613.1 L526.6 611.2 L526.6 609.5 L526.7 607.8 L526.9 606.2 L527.2 604.7 L527.6 603.3 L528.1 602 L528.6 600.8 L529.2 599.8 L529.9 598.8 L530.7 598 L531.5 597.4 L532.4 596.8 L533.4 596.4 L534.4 596.1 L535.5 596" fill="none" stroke="url(#hA)" stroke-width="7" stroke-linejoin="round" stroke-linecap="round" /><ellipse cx="572.3" cy="622" rx="39" ry="17" transform="rotate(64.59479804627053 572.3 622)" fill="none" stroke="#5c5c5c" stroke-width="1.4949999999999999" /></g>
<ellipse cx="549.3" cy="632" rx="39" ry="17" transform="rotate(64.59479804627053 549.3 632)" fill="none" stroke="#5c5c5c" stroke-width="2.07" />
<ellipse cx="571" cy="620" rx="3.3" ry="2.5" transform="rotate(67.5 571 620)" fill="#cfcfcf" stroke="#5c5c5c" stroke-width="1.265" />
<ellipse cx="593" cy="607.8" rx="3.3" ry="2.5" transform="rotate(67.5 593 607.8)" fill="#cfcfcf" stroke="#5c5c5c" stroke-width="1.265" />
<ellipse cx="615" cy="596" rx="3.3" ry="2.5" transform="rotate(67.5 615 596)" fill="#cfcfcf" stroke="#5c5c5c" stroke-width="1.265" />
<ellipse cx="488.2" cy="657.2" rx="101.2" ry="67.1" transform="rotate(68.30007156044563 488.2 657.2)" fill="#d8d8d8" stroke="#5c5c5c" stroke-width="2.3" />
<clipPath id="c_d1r"><path d="M525.7 751.3 L517.2 753.7 L508.2 754.5 L498.9 753.6 L489.5 751.1 L480 747 L470.6 741.3 L461.5 734.2 L452.9 725.8 L444.9 716.2 L437.7 705.6 L431.3 694.1 L425.9 682.1 L421.5 669.6 L418.3 656.9 L416.3 644.2 L415.5 631.7 L416 619.7 L417.7 608.3 L420.6 597.8 L424.7 588.2 L429.8 579.9 L436 572.9 L443 567.3 L450.8 563.2 L459.3 560.8 L468.3 560 L477.6 560.9 L487 563.4 L496.5 567.5 L505.9 573.2 L515 580.3 L523.6 588.7 L531.6 598.3 L538.8 608.9 L545.2 620.4 L550.6 632.4 L555 644.9 L558.2 657.6 L560.2 670.3 L561 682.8 L560.5 694.8 L558.8 706.2 L555.9 716.7 L551.8 726.3 L546.7 734.6 L540.5 741.6 L533.5 747.2 L525.7 751.3Z"/></clipPath><g clip-path="url(#c_d1r)"><path d="M471.4 561.9 L476.7 562.8 L481.9 564.2 L487.2 566.1 L492.5 568.5 L497.7 571.4 L502.9 574.7 L508 578.5 L512.9 582.7 L517.8 587.3 L522.4 592.3 L526.9 597.6 L531.1 603.3 L535.1 609.2 L538.8 615.4 L542.2 621.9 L545.4 628.5 L548.2 635.3 L550.7 642.2 L552.8 649.2 L554.6 656.3 L556 663.3 L557 670.4 L557.7 677.4 L558 684.3 L557.9 691 L557.4 697.6 L556.5 704 L555.3 710.1 L553.7 716 L551.7 721.5 L549.4 726.8 L546.7 731.6 L543.7 736.1 L540.4 740.2 L536.8 743.8 L532.9 747 L528.8 749.8 L524.5 752 L519.9 753.8 L515.2 755 L510.3 755.8 L505.2 756 L500.1 755.7 L494.9 754.9 L489.6 753.6 L484.3 751.8 L479.1 749.5 L473.8 746.7" fill="none" stroke="url(#hA)" stroke-width="9" stroke-linejoin="round" stroke-linecap="round" /></g>
<ellipse cx="482.2" cy="659.8" rx="101.2" ry="67.1" transform="rotate(68.30007156044563 482.2 659.8)" fill="#e6e6e6" stroke="#5c5c5c" stroke-width="1.8399999999999999" />
<ellipse cx="475.2" cy="662.8" rx="101.2" ry="67.1" transform="rotate(68.30007156044563 475.2 662.8)" fill="#f0f0f0" stroke="#5c5c5c" stroke-width="2.6449999999999996" />
<path d="M433 715.2 L428.7 708.7 L424.7 701.9 L421 694.8 L417.8 687.5 L415 680 L412.5 672.4 L410.6 664.7 L409 657.1 L408 649.4 L407.4 641.8 L407.3 634.4 L407.7 627.1 L408.5 620.1 L409.8 613.4 L411.6 607.1 L413.8 601.1 L416.5 595.5 L419.5 590.4 L423 585.7 L426.8 581.7 L431 578.1 L435.5 575.1 L440.2 572.8 L445.3 571 L450.5 569.9 L455.9 569.4 L461.5 569.5 L467.1 570.3 L472.9 571.7 L478.6 573.8 L484.4 576.4 L490.1 579.7 L495.7 583.5 L501.1 587.8 L506.4 592.6 L511.5 598 L516.4 603.8 L521 609.9 L525.3 616.5 L529.2 623.3" fill="none" stroke="#5c5c5c" stroke-width="1.7249999999999999" />
<clipPath id="c_d1f"><path d="M512.7 756.8 L504.2 759.2 L495.2 760 L485.9 759.1 L476.5 756.6 L467 752.5 L457.6 746.8 L448.5 739.7 L439.9 731.3 L431.9 721.7 L424.7 711.1 L418.3 699.6 L412.9 687.6 L408.5 675.1 L405.3 662.4 L403.3 649.7 L402.5 637.2 L403 625.2 L404.7 613.8 L407.6 603.3 L411.7 593.7 L416.8 585.4 L423 578.4 L430 572.8 L437.8 568.7 L446.3 566.3 L455.3 565.5 L464.6 566.4 L474 568.9 L483.5 573 L492.9 578.7 L502 585.8 L510.6 594.2 L518.6 603.8 L525.8 614.4 L532.2 625.9 L537.6 637.9 L542 650.4 L545.2 663.1 L547.2 675.8 L548 688.3 L547.5 700.3 L545.8 711.7 L542.9 722.2 L538.8 731.8 L533.7 740.1 L527.5 747.1 L520.5 752.7 L512.7 756.8Z"/></clipPath><g clip-path="url(#c_d1f)"><path d="M537 698.4 L536.5 701.6 L535.9 704.8 L535.2 707.9 L534.4 711 L533.4 713.9 L532.4 716.7 L531.2 719.5 L529.9 722.1 L528.6 724.6 L527.1 727 L525.5 729.3 L523.8 731.4 L522.1 733.5 L520.2 735.3 L518.3 737.1 L516.3 738.7 L514.2 740.1 L512 741.4 L509.7 742.6 L507.4 743.6 L505.1 744.5 L502.6 745.2 L500.2 745.7 L497.6 746.1 L495.1 746.3 L492.4 746.4 L489.8 746.3 L487.1 746 L484.4 745.6 L481.7 745.1 L479 744.3 L476.3 743.5 L473.6 742.4 L470.8 741.2 L468.1 739.9 L465.4 738.4 L462.7 736.8 L460.1 735 L457.4 733.1 L454.8 731.1 L452.3 728.9 L449.8 726.6 L447.3 724.2 L444.9 721.7 L442.5 719 L440.2 716.3 L438 713.4 L435.8 710.5" fill="none" stroke="url(#hA)" stroke-width="20" stroke-linejoin="round" stroke-linecap="round" /><path d="M412.7 640.8 L412.7 637 L412.9 633.3 L413.2 629.6 L413.6 626 L414.2 622.5 L414.9 619.1 L415.7 615.8 L416.7 612.6 L417.8 609.5 L419.1 606.5 L420.4 603.6 L421.9 600.9 L423.5 598.3 L425.3 595.8 L427.1 593.5 L429 591.4 L431.1 589.4 L433.2 587.6 L435.5 586 L437.8 584.5 L440.2 583.2 L442.7 582 L445.2 581.1 L447.9 580.3 L450.6 579.8 L453.3 579.4 L456.1 579.2 L458.9 579.1 L461.8 579.3 L464.7 579.6 L467.6 580.2 L470.6 580.9 L473.5 581.8 L476.5 582.9 L479.4 584.2 L482.4 585.6 L485.3 587.2 L488.2 589 L491.1 590.9 L493.9 593 L496.7 595.3 L499.5 597.7 L502.2 600.3 L504.8 603 L507.4 605.8 L509.9 608.8 L512.3 611.8 L514.7 615" fill="none" stroke="url(#hB)" stroke-width="18" stroke-linejoin="round" stroke-linecap="round" /></g>
<clipPath id="c_hubw"><path d="M460.8 688.8 L458.7 685.4 L456.8 681.8 L455 678.2 L453.3 674.6 L451.8 670.8 L450.5 667.1 L449.3 663.3 L448.3 659.5 L447.5 655.7 L446.9 651.9 L446.4 648.2 L446.1 644.5 L446 640.8 L446.1 637.3 L446.3 633.8 L446.8 630.4 L447.4 627.2 L448.2 624 L449.1 621 L450.2 618.2 L451.5 615.5 L453 613 L454.6 610.7 L456.4 608.6 L458.3 606.6 L460.3 604.9 L462.5 603.4 L464.7 602.1 L467.1 601 L469.6 600.2 L472.2 599.5 L474.9 599.2 L477.6 599 L480.4 599.1 L483.3 599.4 L486.1 600 L489 600.7 L492 601.8 L494.9 603 L497.8 604.4 L500.8 606.1 L503.6 608 L506.5 610.1 L509.3 612.3 L512 614.8 L514.7 617.4 L517.3 620.2 L519.8 623.2 L526.1 630.3 L524.1 627.3 L522.1 624.3 L519.9 621.5 L517.7 618.9 L515.5 616.4 L513.2 614.1 L510.8 612 L508.4 610 L506 608.3 L503.6 606.7 L501.1 605.4 L498.7 604.3 L496.3 603.4 L493.9 602.7 L491.5 602.3 L489.1 602 L486.9 602 L484.6 602.3 L482.4 602.7 L480.3 603.4 L478.3 604.3 L476.4 605.4 L474.6 606.7 L472.8 608.3 L471.2 610 L469.7 612 L468.3 614.1 L467 616.4 L465.9 618.9 L464.9 621.6 L464.1 624.4 L463.4 627.3 L462.8 630.4 L462.4 633.6 L462.1 636.9 L462 640.2 L462 643.7 L462.2 647.3 L462.6 650.9 L463 654.5 L463.7 658.2 L464.5 661.8 L465.4 665.5 L466.4 669.2 L467.6 672.8 L468.9 676.4 L470.4 679.9 L471.9 683.4Z"/></clipPath><g clip-path="url(#c_hubw)"><ellipse cx="493.5" cy="660.5" rx="65.1" ry="42.4" transform="rotate(64.33723259291187 493.5 660.5)" fill="#8c8c8c" stroke="none" stroke-width="1.6" /><ellipse cx="493.5" cy="660.5" rx="65.1" ry="42.4" transform="rotate(64.33723259291187 493.5 660.5)" fill="url(#hD)" stroke="none" stroke-width="1.6" /></g>
<path d="M463.9 693.4 L461.1 689.3 L458.4 684.9 L456 680.4 L453.9 675.8 L451.9 671 L450.2 666.3 L448.8 661.4 L447.7 656.6 L446.9 651.8 L446.3 647.1 L446 642.4 L446 637.8 L446.4 633.4 L447 629.2 L447.9 625.1 L449 621.3 L450.5 617.7 L452.2 614.4 L454.2 611.3 L456.4 608.6 L458.8 606.1 L461.5 604 L464.3 602.3 L467.3 600.9 L470.5 599.9 L473.9 599.3 L477.3 599 L480.9 599.1 L484.5 599.6 L488.2 600.5 L491.9 601.7 L495.6 603.3 L499.4 605.3 L503 607.6 L506.7 610.2 L510.2 613.1 L513.6 616.4 L516.9 619.8 L520.1 623.6 L523.1 627.6" fill="none" stroke="#5c5c5c" stroke-width="2.07" />
<ellipse cx="501.5" cy="661.5" rx="61.8" ry="35.7" transform="rotate(70.47269071630821 501.5 661.5)" fill="#f0f0f0" stroke="#5c5c5c" stroke-width="2.1849999999999996" />
<clipPath id="c_hub"><path d="M522.2 719.8 L517.6 720.8 L512.8 720.9 L507.7 719.9 L502.6 717.9 L497.4 715 L492.3 711.2 L487.4 706.5 L482.7 701 L478.3 694.8 L474.3 688.1 L470.8 680.9 L467.8 673.4 L465.4 665.7 L463.6 657.9 L462.5 650.2 L462 642.7 L462.2 635.5 L463.1 628.7 L464.6 622.5 L466.8 617 L469.5 612.2 L472.8 608.3 L476.6 605.3 L480.8 603.2 L485.4 602.2 L490.2 602.1 L495.3 603.1 L500.4 605.1 L505.6 608 L510.7 611.8 L515.6 616.5 L520.3 622 L524.7 628.2 L528.7 634.9 L532.2 642.1 L535.2 649.6 L537.6 657.3 L539.4 665.1 L540.5 672.8 L541 680.3 L540.8 687.5 L539.9 694.3 L538.4 700.5 L536.2 706 L533.5 710.8 L530.2 714.7 L526.4 717.7 L522.2 719.8Z"/></clipPath><g clip-path="url(#c_hub)"><path d="M530.8 700.9 L530.3 701.8 L529.9 702.5 L529.4 703.3 L528.9 704.1 L528.4 704.8 L527.8 705.4 L527.3 706.1 L526.7 706.7 L526.1 707.3 L525.5 707.9 L524.9 708.4 L524.3 708.9 L523.6 709.4 L522.9 709.8 L522.3 710.2 L521.6 710.6 L520.9 711 L520.2 711.3 L519.4 711.6 L518.7 711.8 L517.9 712 L517.2 712.2 L516.4 712.4 L515.6 712.5 L514.8 712.6 L514 712.6 L513.2 712.7 L512.4 712.7 L511.6 712.6 L510.8 712.5 L509.9 712.4 L509.1 712.3 L508.2 712.1 L507.4 711.9 L506.5 711.6 L505.7 711.4 L504.8 711.1 L504 710.7 L503.1 710.4 L502.2 710 L501.4 709.5 L500.5 709.1 L499.6 708.6 L498.8 708 L497.9 707.5 L497.1 706.9 L496.2 706.3 L495.3 705.6" fill="none" stroke="#c4c4c4" stroke-width="12" stroke-linejoin="round" stroke-linecap="round" /><path d="M530.8 700.9 L530.3 701.8 L529.9 702.5 L529.4 703.3 L528.9 704.1 L528.4 704.8 L527.8 705.4 L527.3 706.1 L526.7 706.7 L526.1 707.3 L525.5 707.9 L524.9 708.4 L524.3 708.9 L523.6 709.4 L522.9 709.8 L522.3 710.2 L521.6 710.6 L520.9 711 L520.2 711.3 L519.4 711.6 L518.7 711.8 L517.9 712 L517.2 712.2 L516.4 712.4 L515.6 712.5 L514.8 712.6 L514 712.6 L513.2 712.7 L512.4 712.7 L511.6 712.6 L510.8 712.5 L509.9 712.4 L509.1 712.3 L508.2 712.1 L507.4 711.9 L506.5 711.6 L505.7 711.4 L504.8 711.1 L504 710.7 L503.1 710.4 L502.2 710 L501.4 709.5 L500.5 709.1 L499.6 708.6 L498.8 708 L497.9 707.5 L497.1 706.9 L496.2 706.3 L495.3 705.6" fill="none" stroke="url(#hX)" stroke-width="12" stroke-linejoin="round" stroke-linecap="round" /><path d="M474.9 681.2 L473.9 679 L472.9 676.8 L472 674.5 L471.2 672.2 L470.4 669.9 L469.7 667.6 L469 665.3 L468.4 663 L467.9 660.6 L467.4 658.3 L467 656 L466.7 653.7 L466.4 651.3 L466.2 649.1 L466 646.8 L466 644.6 L466 642.4 L466 640.2 L466.1 638.1 L466.3 636 L466.6 634 L466.9 632 L467.3 630.1 L467.8 628.2 L468.3 626.4 L468.9 624.7 L469.5 623 L470.2 621.4 L471 619.9 L471.8 618.5 L472.7 617.1 L473.7 615.9 L474.6 614.7 L475.7 613.6 L476.8 612.6 L477.9 611.7 L479.1 610.9 L480.3 610.2 L481.6 609.6 L482.9 609 L484.2 608.6 L485.6 608.3 L487 608.1 L488.4 608 L489.9 608 L491.4 608 L492.9 608.2 L494.4 608.5" fill="none" stroke="url(#hB)" stroke-width="12" stroke-linejoin="round" stroke-linecap="round" /></g>
<ellipse cx="507.2" cy="651.5" rx="40.9" ry="24.6" transform="rotate(71.17334228288124 507.2 651.5)" fill="#fff" stroke="#5c5c5c" stroke-width="2.3" />
<clipPath id="c_h1"><path d="M520.4 690.2 L517.3 690.9 L514 690.9 L510.5 690.3 L507 689 L503.6 687 L500.1 684.5 L496.8 681.4 L493.7 677.7 L490.8 673.6 L488.2 669.2 L485.9 664.4 L484 659.4 L482.5 654.3 L481.4 649.1 L480.7 644 L480.5 639 L480.8 634.2 L481.5 629.7 L482.6 625.6 L484.2 622 L486.2 618.8 L488.5 616.2 L491.1 614.2 L494.1 612.8 L497.2 612.1 L500.5 612.1 L504 612.7 L507.5 614 L510.9 616 L514.4 618.5 L517.7 621.6 L520.8 625.3 L523.7 629.4 L526.3 633.8 L528.6 638.6 L530.5 643.6 L532 648.7 L533.1 653.9 L533.8 659 L534 664 L533.7 668.8 L533 673.3 L531.9 677.4 L530.3 681 L528.3 684.2 L526 686.8 L523.4 688.8 L520.4 690.2Z"/></clipPath><g clip-path="url(#c_h1)"><path d="M509.6 623.5 L510.9 624.9 L512.3 626.4 L513.6 628 L514.8 629.6 L516 631.3 L517.2 633.1 L518.3 634.9 L519.3 636.8 L520.3 638.8 L521.2 640.8 L522.1 642.8 L522.9 644.9 L523.7 647 L524.3 649.1 L524.9 651.3 L525.5 653.4 L525.9 655.6 L526.3 657.7 L526.6 659.9 L526.8 662 L526.9 664.1 L527 666.2 L527 668.2 L526.9 670.2 L526.7 672.1 L526.4 674 L526.1 675.9 L525.7 677.7 L525.2 679.4 L524.6 681 L524 682.6 L523.3 684 L522.5 685.4 L521.7 686.7 L520.8 687.9 L519.8 689 L518.8 690 L517.7 690.9 L516.6 691.7 L515.4 692.4 L514.2 692.9 L512.9 693.4 L511.6 693.7 L510.3 693.9 L508.9 694 L507.5 694 L506.1 693.8 L504.7 693.6" fill="none" stroke="#5c5c5c" stroke-width="1.6099999999999999" stroke-linejoin="round" stroke-linecap="round" /><path d="M517.3 626.8 L518.4 628.2 L519.4 629.7 L520.4 631.2 L521.4 632.8 L522.3 634.4 L523.2 636.1 L524.1 637.8 L524.9 639.5 L525.6 641.3 L526.3 643.1 L527 644.9 L527.6 646.8 L528.1 648.6 L528.6 650.5 L529.1 652.3 L529.4 654.2 L529.8 656.1 L530 657.9 L530.2 659.8 L530.4 661.6 L530.5 663.4 L530.5 665.2 L530.5 667 L530.4 668.7 L530.2 670.4 L530 672 L529.8 673.7 L529.4 675.2 L529 676.7 L528.6 678.2 L528.1 679.6 L527.6 681 L527 682.3 L526.3 683.5 L525.6 684.6 L524.8 685.7 L524 686.7 L523.2 687.7 L522.3 688.5 L521.4 689.3 L520.4 690 L519.4 690.6 L518.4 691.1 L517.3 691.6 L516.2 691.9 L515 692.2 L513.9 692.4 L512.7 692.5" fill="none" stroke="url(#hA)" stroke-width="6" stroke-linejoin="round" stroke-linecap="round" /></g>
<ellipse cx="507.2" cy="651.5" rx="40.9" ry="24.6" transform="rotate(71.17334228288124 507.2 651.5)" fill="none" stroke="#5c5c5c" stroke-width="2.3" />
<ellipse cx="471.5" cy="617" rx="3" ry="2.2" transform="rotate(67.5 471.5 617)" fill="#cfcfcf" stroke="#5c5c5c" stroke-width="1.265" />
<ellipse cx="493.5" cy="693.5" rx="3.6" ry="2.7" transform="rotate(67.5 493.5 693.5)" fill="#cfcfcf" stroke="#5c5c5c" stroke-width="1.265" />
<ellipse cx="431.5" cy="682.8" rx="62.5" ry="42.7" transform="rotate(74.0505237221015 431.5 682.8)" fill="#bdbdbd" stroke="#5c5c5c" stroke-width="2.07" />
<ellipse cx="427" cy="684.8" rx="62.5" ry="42.7" transform="rotate(74.0505237221015 427 684.8)" fill="#f0f0f0" stroke="#5c5c5c" stroke-width="2.53" />
<clipPath id="c_r11"><path d="M444.2 744.9 L438.7 745.9 L433 745.9 L427.2 744.8 L421.4 742.7 L415.6 739.6 L410.1 735.6 L404.9 730.7 L400 725 L395.6 718.6 L391.8 711.6 L388.5 704.2 L386 696.5 L384.1 688.5 L382.9 680.5 L382.5 672.6 L382.9 664.9 L384 657.5 L385.8 650.5 L388.4 644.2 L391.6 638.6 L395.4 633.7 L399.8 629.7 L404.6 626.7 L409.8 624.6 L415.3 623.6 L421 623.6 L426.8 624.7 L432.6 626.8 L438.4 629.9 L443.9 633.9 L449.1 638.8 L454 644.5 L458.4 650.9 L462.2 657.9 L465.5 665.3 L468 673 L469.9 681 L471.1 689 L471.5 696.9 L471.1 704.6 L470 712 L468.2 719 L465.6 725.3 L462.4 730.9 L458.6 735.8 L454.2 739.8 L449.4 742.8 L444.2 744.9Z"/></clipPath><g clip-path="url(#c_r11)"><path d="M462.6 692.4 L462.6 694.5 L462.6 696.6 L462.5 698.6 L462.3 700.7 L462.1 702.7 L461.8 704.6 L461.4 706.6 L461 708.5 L460.5 710.3 L459.9 712.1 L459.3 713.9 L458.6 715.6 L457.9 717.2 L457.1 718.8 L456.2 720.3 L455.3 721.7 L454.4 723.1 L453.3 724.4 L452.3 725.6 L451.1 726.7 L450 727.8 L448.8 728.8 L447.5 729.7 L446.2 730.5 L444.9 731.2 L443.6 731.8 L442.2 732.4 L440.7 732.8 L439.3 733.2 L437.8 733.5 L436.3 733.7 L434.8 733.7 L433.3 733.7 L431.8 733.6 L430.2 733.4 L428.7 733.2 L427.1 732.8 L425.6 732.3 L424 731.7 L422.5 731.1 L420.9 730.4 L419.4 729.5 L417.9 728.6 L416.4 727.6 L414.9 726.5 L413.5 725.4 L412.1 724.2 L410.7 722.9" fill="none" stroke="url(#hB)" stroke-width="20" stroke-linejoin="round" stroke-linecap="round" /><path d="M398.7 647.8 L399.7 646.3 L400.8 644.9 L402 643.6 L403.2 642.4 L404.5 641.3 L405.8 640.3 L407.2 639.3 L408.6 638.5 L410.1 637.8 L411.6 637.2 L413.1 636.7 L414.7 636.3 L416.3 636 L417.9 635.8 L419.5 635.8 L421.2 635.8 L422.9 635.9 L424.5 636.2 L426.2 636.6 L427.9 637 L429.6 637.6 L431.3 638.3 L432.9 639.1 L434.6 640 L436.2 641 L437.8 642 L439.4 643.2 L441 644.5 L442.5 645.9 L444 647.3 L445.5 648.9 L446.9 650.5 L448.3 652.2 L449.6 653.9 L450.9 655.8 L452.1 657.7 L453.2 659.6 L454.4 661.7 L455.4 663.7 L456.4 665.8 L457.3 668 L458.1 670.2 L458.9 672.4 L459.6 674.7 L460.3 676.9 L460.8 679.2 L461.3 681.5 L461.7 683.9" fill="none" stroke="url(#hB)" stroke-width="20" stroke-linejoin="round" stroke-linecap="round" /><path d="M469.8 704.1 L469.6 705.9 L469.4 707.7 L469.1 709.5 L468.7 711.2 L468.4 712.9 L467.9 714.6 L467.5 716.3 L466.9 717.9 L466.4 719.5 L465.8 721.1 L465.1 722.6 L464.5 724.1 L463.7 725.5 L463 726.9 L462.2 728.3 L461.3 729.6 L460.5 730.8 L459.6 732 L458.6 733.2 L457.6 734.3 L456.6 735.3 L455.6 736.3 L454.5 737.2 L453.4 738.1 L452.3 739 L451.1 739.7 L449.9 740.4 L448.7 741.1 L447.5 741.7 L446.2 742.2 L445 742.7 L443.7 743.1 L442.4 743.4 L441 743.7 L439.7 743.9 L438.3 744 L437 744.1 L435.6 744.2 L434.2 744.1 L432.8 744 L431.4 743.9 L430 743.6 L428.6 743.3 L427.2 743 L425.7 742.6 L424.3 742.1 L422.9 741.5 L421.5 740.9" fill="none" stroke="url(#hA)" stroke-width="5" stroke-linejoin="round" stroke-linecap="round" /></g>
<ellipse cx="425.5" cy="687.8" rx="39.3" ry="24.4" transform="rotate(65.8664696088622 425.5 687.8)" fill="#f0f0f0" stroke="#5c5c5c" stroke-width="2.3" />
<clipPath id="c_r11h"><path d="M441.6 723.6 L438.5 724.6 L435.3 725 L431.8 724.7 L428.3 723.8 L424.7 722.3 L421.1 720.2 L417.6 717.5 L414.2 714.3 L411 710.7 L408.1 706.7 L405.5 702.3 L403.2 697.7 L401.3 693 L399.8 688.1 L398.7 683.3 L398.1 678.5 L398 673.8 L398.4 669.4 L399.2 665.4 L400.4 661.7 L402.1 658.4 L404.2 655.7 L406.6 653.5 L409.4 651.9 L412.5 650.9 L415.7 650.5 L419.2 650.8 L422.7 651.7 L426.3 653.2 L429.9 655.3 L433.4 658 L436.8 661.2 L440 664.8 L442.9 668.8 L445.5 673.2 L447.8 677.8 L449.7 682.5 L451.2 687.4 L452.3 692.2 L452.9 697 L453 701.7 L452.6 706.1 L451.8 710.1 L450.6 713.8 L448.9 717.1 L446.8 719.8 L444.4 722 L441.6 723.6Z"/></clipPath><g clip-path="url(#c_r11h)"><path d="M433 724.9 L431.1 724.6 L429.3 724.1 L427.4 723.5 L425.5 722.7 L423.6 721.7 L421.7 720.6 L419.8 719.3 L418 717.8 L416.2 716.3 L414.4 714.5 L412.7 712.7 L411 710.7 L409.5 708.6 L408 706.5 L406.5 704.2 L405.2 701.8 L404 699.4 L402.8 697 L401.8 694.4 L400.9 691.9 L400.1 689.3 L399.5 686.8 L398.9 684.2 L398.5 681.6 L398.2 679.1 L398 676.6 L398 674.2 L398.1 671.9 L398.3 669.6 L398.7 667.4 L399.2 665.3 L399.8 663.3 L400.5 661.4 L401.4 659.6 L402.4 658 L403.5 656.5 L404.6 655.2 L405.9 654 L407.3 653 L408.8 652.2 L410.3 651.5 L411.9 651 L413.6 650.7 L415.4 650.5 L417.2 650.5 L419 650.7 L420.9 651.1 L422.7 651.7" fill="none" stroke="#b5b5b5" stroke-width="12" stroke-linejoin="round" stroke-linecap="round" /><path d="M433 724.9 L431.1 724.6 L429.3 724.1 L427.4 723.5 L425.5 722.7 L423.6 721.7 L421.7 720.6 L419.8 719.3 L418 717.8 L416.2 716.3 L414.4 714.5 L412.7 712.7 L411 710.7 L409.5 708.6 L408 706.5 L406.5 704.2 L405.2 701.8 L404 699.4 L402.8 697 L401.8 694.4 L400.9 691.9 L400.1 689.3 L399.5 686.8 L398.9 684.2 L398.5 681.6 L398.2 679.1 L398 676.6 L398 674.2 L398.1 671.9 L398.3 669.6 L398.7 667.4 L399.2 665.3 L399.8 663.3 L400.5 661.4 L401.4 659.6 L402.4 658 L403.5 656.5 L404.6 655.2 L405.9 654 L407.3 653 L408.8 652.2 L410.3 651.5 L411.9 651 L413.6 650.7 L415.4 650.5 L417.2 650.5 L419 650.7 L420.9 651.1 L422.7 651.7" fill="none" stroke="url(#hA)" stroke-width="12" stroke-linejoin="round" stroke-linecap="round" /><ellipse cx="432" cy="685" rx="39.3" ry="24.4" transform="rotate(65.8664696088622 432 685)" fill="#f1f1f1" stroke="#5c5c5c" stroke-width="1.7249999999999999" /><path d="M418 662 L437 708" fill="none" stroke="#5c5c5c" stroke-width="1.265" stroke-linejoin="round" stroke-linecap="round" /><path d="M411.9 664.1 L412.3 663.3 L412.7 662.5 L413.2 661.7 L413.6 661 L414.1 660.3 L414.7 659.6 L415.2 659 L415.8 658.5 L416.4 657.9 L417 657.4 L417.7 657 L418.4 656.6 L419.1 656.3 L419.8 656 L420.5 655.7 L421.3 655.5 L422.1 655.3 L422.9 655.2 L423.7 655.2 L424.5 655.2 L425.3 655.2 L426.2 655.3 L427 655.4 L427.9 655.6 L428.8 655.8 L429.6 656 L430.5 656.3 L431.4 656.7 L432.3 657.1 L433.1 657.6 L434 658 L434.9 658.6 L435.8 659.2 L436.6 659.8 L437.5 660.4 L438.3 661.1 L439.2 661.9 L440 662.6 L440.8 663.4 L441.6 664.3 L442.4 665.2 L443.2 666.1 L443.9 667 L444.6 668 L445.3 669 L446 670 L446.7 671 L447.3 672.1" fill="none" stroke="url(#hB)" stroke-width="8" stroke-linejoin="round" stroke-linecap="round" /></g>
<ellipse cx="425.5" cy="687.8" rx="39.3" ry="24.4" transform="rotate(65.8664696088622 425.5 687.8)" fill="none" stroke="#5c5c5c" stroke-width="2.3" />
<ellipse cx="396.5" cy="648" rx="3.7" ry="2.8" transform="rotate(67.5 396.5 648)" fill="#cfcfcf" stroke="#5c5c5c" stroke-width="1.265" />
<ellipse cx="454.5" cy="676" rx="3.7" ry="2.8" transform="rotate(67.5 454.5 676)" fill="#cfcfcf" stroke="#5c5c5c" stroke-width="1.265" />
<ellipse cx="418.7" cy="725.7" rx="3.7" ry="2.8" transform="rotate(67.5 418.7 725.7)" fill="#cfcfcf" stroke="#5c5c5c" stroke-width="1.265" /></g>
<g id="leaders">
<line x1="369" y1="339" x2="424.5" y2="570" stroke="#7a7a7a" stroke-width="1.3" />
<line x1="462.5" y1="339" x2="518" y2="575" stroke="#7a7a7a" stroke-width="1.3" />
<line x1="464" y1="339" x2="549.5" y2="562" stroke="#7a7a7a" stroke-width="1.3" />
<line x1="466" y1="338.5" x2="582" y2="553" stroke="#7a7a7a" stroke-width="1.3" />
<line x1="568" y1="337" x2="652.7" y2="475" stroke="#7a7a7a" stroke-width="1.3" />
<line x1="666.5" y1="335" x2="741" y2="420" stroke="#7a7a7a" stroke-width="1.3" />
<line x1="791.7" y1="339" x2="815.9" y2="502" stroke="#7a7a7a" stroke-width="1.3" />
<line x1="882" y1="334.5" x2="959.5" y2="411.6" stroke="#7a7a7a" stroke-width="1.3" />
<line x1="303.7" y1="531" x2="353" y2="653.5" stroke="#7a7a7a" stroke-width="1.3" />
<line x1="307.5" y1="615.5" x2="334" y2="663" stroke="#7a7a7a" stroke-width="1.3" />
<line x1="317" y1="763.8" x2="341.7" y2="731.4" stroke="#7a7a7a" stroke-width="1.3" />
<line x1="317" y1="826.5" x2="376" y2="724" stroke="#7a7a7a" stroke-width="1.3" />
<line x1="317" y1="889" x2="425.4" y2="742.8" stroke="#7a7a7a" stroke-width="1.3" />
<line x1="585" y1="927" x2="717" y2="734" stroke="#7a7a7a" stroke-width="1.3" />
<line x1="717.8" y1="931.8" x2="907" y2="813" stroke="#7a7a7a" stroke-width="1.3" />
<line x1="812.7" y1="943" x2="852" y2="948.4" stroke="#7a7a7a" stroke-width="1.3" />
<line x1="977.4" y1="946.6" x2="922.5" y2="930.4" stroke="#7a7a7a" stroke-width="1.3" />
<line x1="1095" y1="946.6" x2="946.4" y2="915" stroke="#7a7a7a" stroke-width="1.3" />
<line x1="1220.4" y1="936" x2="1171" y2="820" stroke="#7a7a7a" stroke-width="1.3" />
<line x1="1275" y1="461.7" x2="1226.8" y2="413.5" stroke="#7a7a7a" stroke-width="1.3" />
</g>
<g id="wm" fill="#9c9c9c" stroke="#9c9c9c" opacity="0.46" font-weight="bold" font-style="italic">
<text transform="translate(424.0 611) scale(1.289 1)" font-family="Liberation Serif" font-size="123" stroke-width="1.2" stroke-linejoin="round">P</text>
<text transform="translate(530.0 611) scale(1.325 1)" font-family="Liberation Serif" font-size="123" stroke-width="1.2" stroke-linejoin="round">A</text>
<text transform="translate(625.5 611) scale(1.23 1)" font-family="Liberation Serif" font-size="123" stroke-width="1.2" stroke-linejoin="round">S</text>
<text transform="translate(704.6 611) scale(1.197 1)" font-family="Liberation Serif" font-size="123" stroke-width="1.2" stroke-linejoin="round">S</text>
<text transform="translate(766.1 611) scale(1.058 1)" font-family="Liberation Serif" font-size="123" stroke-width="1.2" stroke-linejoin="round">I</text>
<text transform="translate(812.3 611) scale(1.173 1)" font-family="Liberation Serif" font-size="123" stroke-width="1.2" stroke-linejoin="round">O</text>
<text transform="translate(926.3 611) scale(1.29 1)" font-family="Liberation Serif" font-size="123" stroke-width="1.2" stroke-linejoin="round">N</text>
<text transform="translate(1018.2 611) scale(1.208 1)" font-family="Liberation Serif" font-size="123" stroke-width="1.2" stroke-linejoin="round">E</text>
<text transform="translate(1103.4 628.5) scale(1.321 1)" font-family="Liberation Serif" font-size="123" stroke-width="1.2" stroke-linejoin="round">5</text>
<text transform="translate(1183.5 611) scale(1.226 1)" font-family="Liberation Serif" font-size="138" stroke-width="1.2" stroke-linejoin="round">o</text>
<text transform="translate(1269.6 611) scale(1.21 1)" font-family="Liberation Serif" font-size="138" stroke-width="1.2" stroke-linejoin="round">o</text>
<text transform="translate(138.6 611) scale(0.908 1)" font-family="Liberation Sans" font-size="121" stroke-width="4.0" stroke-linejoin="round">www</text>
<text transform="translate(1384.2 611) scale(0.912 1)" font-family="Liberation Sans" font-size="121" stroke-width="4.0" stroke-linejoin="round">ı</text>
<text transform="translate(1415.1 611) scale(0.974 1)" font-family="Liberation Sans" font-size="121" stroke-width="4.0" stroke-linejoin="round">t</text>
<circle cx="413" cy="601.5" r="8.3" stroke-width="2"/><circle cx="1362.5" cy="601.5" r="8.3" stroke-width="2"/><circle cx="1409.6" cy="531" r="8.3" stroke-width="2"/>
</g>
<g id="callouts" font-family="Liberation Sans, sans-serif" font-weight="bold" font-size="15.5" text-anchor="middle" fill="#fff">
<circle cx="365.7" cy="324.2" r="15.3" fill="#ae1e2a"/>
<g transform="translate(365.7 329.6) scale(1.22 1)"><text stroke="#fff" stroke-width="0.9" stroke-linejoin="round">1</text><rect x="-4.46" y="-2.09" width="3.33" height="3.72" fill="#ae1e2a"/><rect x="1.86" y="-2.09" width="3.10" height="3.72" fill="#ae1e2a"/></g>
<circle cx="459.7" cy="324.2" r="15.3" fill="#ae1e2a"/>
<g transform="translate(459.7 329.6) scale(1.22 1)"><text stroke="#fff" stroke-width="0.9" stroke-linejoin="round">2</text></g>
<circle cx="561.7" cy="324.2" r="15.3" fill="#ae1e2a"/>
<g transform="translate(561.7 329.6) scale(1.22 1)"><text stroke="#fff" stroke-width="0.9" stroke-linejoin="round">3</text></g>
<circle cx="658" cy="324.2" r="15.3" fill="#ae1e2a"/>
<g transform="translate(658 329.6) scale(1.22 1)"><text stroke="#fff" stroke-width="0.9" stroke-linejoin="round">4</text></g>
<circle cx="789.7" cy="324.2" r="15.3" fill="#ae1e2a"/>
<g transform="translate(789.7 329.6) scale(1.22 1)"><text stroke="#fff" stroke-width="0.9" stroke-linejoin="round">5</text></g>
<circle cx="873.7" cy="324.2" r="15.3" fill="#ae1e2a"/>
<g transform="translate(873.7 329.6) scale(1.22 1)"><text stroke="#fff" stroke-width="0.9" stroke-linejoin="round">6</text></g>
<circle cx="297.3" cy="516.6" r="15.3" fill="#3a3536"/>
<g transform="translate(297.3 522) scale(1.22 1)"><text stroke="#fff" stroke-width="0.9" stroke-linejoin="round">7</text></g>
<circle cx="297.3" cy="602.5" r="15.3" fill="#3a3536"/>
<g transform="translate(297.3 607.9) scale(1.22 1)"><text stroke="#fff" stroke-width="0.9" stroke-linejoin="round">8</text></g>
<circle cx="307.1" cy="776" r="15.3" fill="#3a3536"/>
<g transform="translate(307.1 781.4) scale(1.22 1)"><text stroke="#fff" stroke-width="0.9" stroke-linejoin="round">9</text></g>
<circle cx="307.1" cy="839" r="15.3" fill="#3a3536"/>
<g transform="translate(307.1 844.4) scale(1.22 1)"><text stroke="#fff" stroke-width="0.9" stroke-linejoin="round">10</text><rect x="-8.77" y="-2.09" width="3.33" height="3.72" fill="#3a3536"/><rect x="-2.45" y="-2.09" width="3.10" height="3.72" fill="#3a3536"/></g>
<circle cx="307.1" cy="902.5" r="15.3" fill="#ae1e2a"/>
<g transform="translate(307.1 907.9) scale(1.22 1)"><text stroke="#fff" stroke-width="0.9" stroke-linejoin="round">11</text><rect x="-8.77" y="-2.09" width="3.33" height="3.72" fill="#ae1e2a"/><rect x="-2.45" y="-2.09" width="3.10" height="3.72" fill="#ae1e2a"/><rect x="-0.15" y="-2.09" width="3.33" height="3.72" fill="#ae1e2a"/><rect x="6.17" y="-2.09" width="3.10" height="3.72" fill="#ae1e2a"/></g>
<circle cx="577.4" cy="939.4" r="15.3" fill="#ae1e2a"/>
<g transform="translate(577.4 944.8) scale(1.22 1)"><text stroke="#fff" stroke-width="0.9" stroke-linejoin="round">12</text><rect x="-8.77" y="-2.09" width="3.33" height="3.72" fill="#ae1e2a"/><rect x="-2.45" y="-2.09" width="3.10" height="3.72" fill="#ae1e2a"/></g>
<circle cx="704.3" cy="939.4" r="15.3" fill="#ae1e2a"/>
<g transform="translate(704.3 944.8) scale(1.22 1)"><text stroke="#fff" stroke-width="0.9" stroke-linejoin="round">13</text><rect x="-8.77" y="-2.09" width="3.33" height="3.72" fill="#ae1e2a"/><rect x="-2.45" y="-2.09" width="3.10" height="3.72" fill="#ae1e2a"/></g>
<circle cx="797.9" cy="939.4" r="15.3" fill="#3a3536"/>
<g transform="translate(797.9 944.8) scale(1.22 1)"><text stroke="#fff" stroke-width="0.9" stroke-linejoin="round">14</text><rect x="-8.77" y="-2.09" width="3.33" height="3.72" fill="#3a3536"/><rect x="-2.45" y="-2.09" width="3.10" height="3.72" fill="#3a3536"/></g>
<circle cx="992.3" cy="949.8" r="15.3" fill="#3a3536"/>
<g transform="translate(992.3 955.2) scale(1.22 1)"><text stroke="#fff" stroke-width="0.9" stroke-linejoin="round">15</text><rect x="-8.77" y="-2.09" width="3.33" height="3.72" fill="#3a3536"/><rect x="-2.45" y="-2.09" width="3.10" height="3.72" fill="#3a3536"/></g>
<circle cx="1109.3" cy="949.8" r="15.3" fill="#3a3536"/>
<g transform="translate(1109.3 955.2) scale(1.22 1)"><text stroke="#fff" stroke-width="0.9" stroke-linejoin="round">16</text><rect x="-8.77" y="-2.09" width="3.33" height="3.72" fill="#3a3536"/><rect x="-2.45" y="-2.09" width="3.10" height="3.72" fill="#3a3536"/></g>
<circle cx="1227.2" cy="949.8" r="15.3" fill="#ae1e2a"/>
<g transform="translate(1227.2 955.2) scale(1.22 1)"><text stroke="#fff" stroke-width="0.9" stroke-linejoin="round">17</text><rect x="-8.77" y="-2.09" width="3.33" height="3.72" fill="#ae1e2a"/><rect x="-2.45" y="-2.09" width="3.10" height="3.72" fill="#ae1e2a"/></g>
<circle cx="1282.8" cy="476.5" r="15.3" fill="#ae1e2a"/>
<g transform="translate(1282.8 481.9) scale(1.22 1)"><text stroke="#fff" stroke-width="0.9" stroke-linejoin="round">18</text><rect x="-8.77" y="-2.09" width="3.33" height="3.72" fill="#ae1e2a"/><rect x="-2.45" y="-2.09" width="3.10" height="3.72" fill="#ae1e2a"/></g>
</g>
</svg></body></html>
